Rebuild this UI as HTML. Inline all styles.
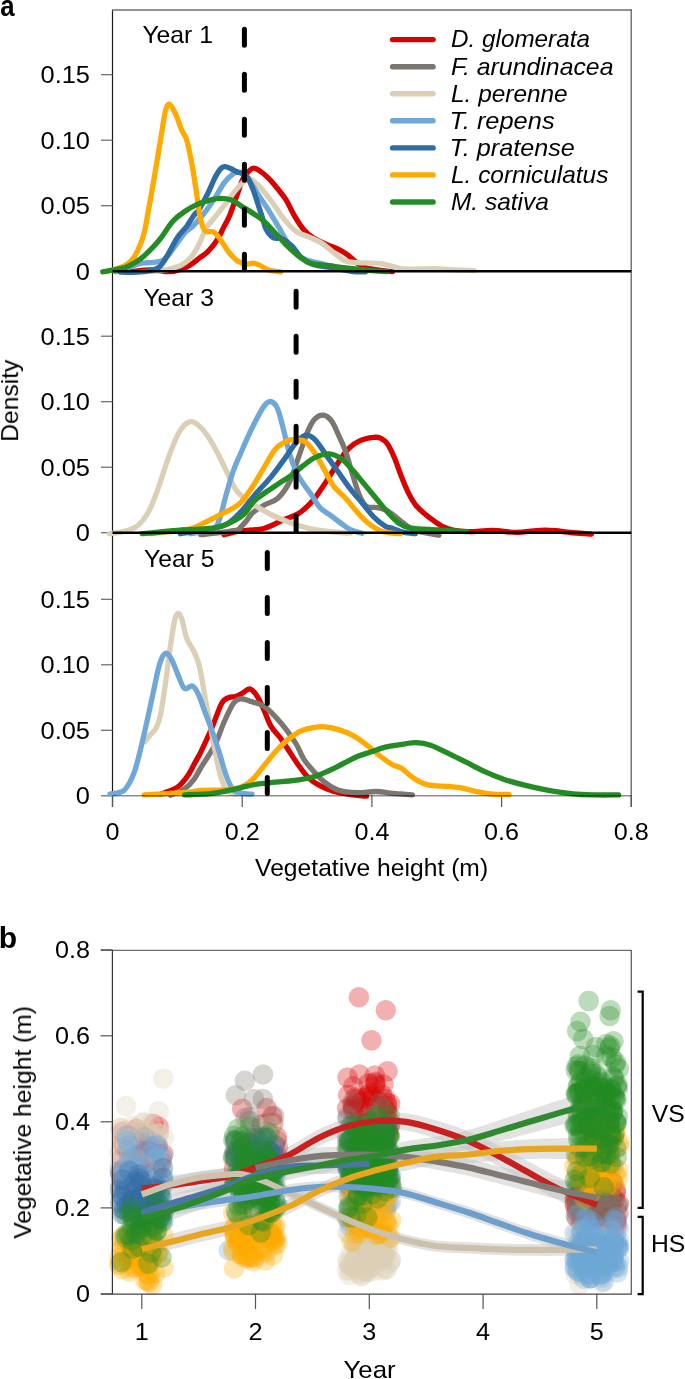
<!DOCTYPE html><html><head><meta charset="utf-8"><style>html,body{margin:0;padding:0;background:#fff;width:685px;height:1379px;overflow:hidden}svg{display:block}text{font-family:"Liberation Sans", sans-serif}svg text{will-change:transform}</style></head><body>
<svg width="685" height="1379" viewBox="0 0 685 1379">
<text transform="translate(0.3 15.5) scale(0.8600 1)" font-size="30" font-weight="bold">a</text>
<line x1="112.5" y1="10" x2="112.5" y2="807" stroke="#1a1a1a" stroke-width="1.2"/>
<line x1="112" y1="10" x2="631.8" y2="10" stroke="#6e6e6e" stroke-width="1.3"/>
<line x1="631.2" y1="9.5" x2="631.2" y2="807" stroke="#555" stroke-width="1.2"/>
<line x1="101" y1="271.2" x2="112.5" y2="271.2" stroke="#666" stroke-width="1.2"/>
<text transform="translate(90 279.5) scale(1.0600 1)" font-size="24" text-anchor="end">0</text>
<line x1="101" y1="205.7" x2="112.5" y2="205.7" stroke="#666" stroke-width="1.2"/>
<text transform="translate(90 214) scale(1.0600 1)" font-size="24" text-anchor="end">0.05</text>
<line x1="101" y1="140.2" x2="112.5" y2="140.2" stroke="#666" stroke-width="1.2"/>
<text transform="translate(90 148.5) scale(1.0600 1)" font-size="24" text-anchor="end">0.10</text>
<line x1="101" y1="74.7" x2="112.5" y2="74.7" stroke="#666" stroke-width="1.2"/>
<text transform="translate(90 83) scale(1.0600 1)" font-size="24" text-anchor="end">0.15</text>
<line x1="101" y1="532.7" x2="112.5" y2="532.7" stroke="#666" stroke-width="1.2"/>
<text transform="translate(90 541) scale(1.0600 1)" font-size="24" text-anchor="end">0</text>
<line x1="101" y1="467.2" x2="112.5" y2="467.2" stroke="#666" stroke-width="1.2"/>
<text transform="translate(90 475.5) scale(1.0600 1)" font-size="24" text-anchor="end">0.05</text>
<line x1="101" y1="401.7" x2="112.5" y2="401.7" stroke="#666" stroke-width="1.2"/>
<text transform="translate(90 410) scale(1.0600 1)" font-size="24" text-anchor="end">0.10</text>
<line x1="101" y1="336.2" x2="112.5" y2="336.2" stroke="#666" stroke-width="1.2"/>
<text transform="translate(90 344.5) scale(1.0600 1)" font-size="24" text-anchor="end">0.15</text>
<line x1="101" y1="795.8" x2="112.5" y2="795.8" stroke="#666" stroke-width="1.2"/>
<text transform="translate(90 804.1) scale(1.0600 1)" font-size="24" text-anchor="end">0</text>
<line x1="101" y1="730.3" x2="112.5" y2="730.3" stroke="#666" stroke-width="1.2"/>
<text transform="translate(90 738.6) scale(1.0600 1)" font-size="24" text-anchor="end">0.05</text>
<line x1="101" y1="664.8" x2="112.5" y2="664.8" stroke="#666" stroke-width="1.2"/>
<text transform="translate(90 673.1) scale(1.0600 1)" font-size="24" text-anchor="end">0.10</text>
<line x1="101" y1="599.3" x2="112.5" y2="599.3" stroke="#666" stroke-width="1.2"/>
<text transform="translate(90 607.6) scale(1.0600 1)" font-size="24" text-anchor="end">0.15</text>
<line x1="112.5" y1="795.6" x2="112.5" y2="807" stroke="#555" stroke-width="1.2"/>
<text transform="translate(112.5 839.5) scale(1.0500 1)" font-size="24" text-anchor="middle">0</text>
<line x1="242.2" y1="795.6" x2="242.2" y2="807" stroke="#555" stroke-width="1.2"/>
<text transform="translate(242.2 839.5) scale(1.0500 1)" font-size="24" text-anchor="middle">0.2</text>
<line x1="371.9" y1="795.6" x2="371.9" y2="807" stroke="#555" stroke-width="1.2"/>
<text transform="translate(371.9 839.5) scale(1.0500 1)" font-size="24" text-anchor="middle">0.4</text>
<line x1="501.6" y1="795.6" x2="501.6" y2="807" stroke="#555" stroke-width="1.2"/>
<text transform="translate(501.6 839.5) scale(1.0500 1)" font-size="24" text-anchor="middle">0.6</text>
<line x1="631.3" y1="795.6" x2="631.3" y2="807" stroke="#555" stroke-width="1.2"/>
<text transform="translate(631.3 839.5) scale(1.0500 1)" font-size="24" text-anchor="middle">0.8</text>
<text transform="translate(371.6 875.9) scale(1.0280 1)" font-size="24" text-anchor="middle">Vegetative height (m)</text>
<text transform="translate(18.1 400.7) rotate(-90) scale(1.0260 1)" font-size="24" text-anchor="middle">Density</text>
<text transform="translate(142.4 43.3) scale(1.0300 1)" font-size="24">Year 1</text>
<text transform="translate(143.4 305.6) scale(1.0300 1)" font-size="24">Year 3</text>
<text transform="translate(144 566.6) scale(1.0300 1)" font-size="24">Year 5</text>
<g transform="translate(0.5 0.7)">
<path d="M124.8 271.5C128 271.2 138.7 269.8 143.8 269.5C148.9 269.2 151.4 269.2 155.5 269.5C159.6 269.8 164.2 271.2 168.6 271C173 270.8 178.2 269.4 181.8 268.2C185.5 267 187.5 265.8 190.5 263.8C193.5 261.9 197.2 258.6 200 256.5C202.8 254.4 204.3 254 207.1 251.2C209.8 248.4 214 243.2 216.5 239.5C219 235.8 219.9 233 222.1 228.8C224.2 224.6 227 220 229.4 214.2C231.8 208.4 234.5 199.9 236.7 193.8C238.9 187.7 240.6 181.6 242.6 177.7C244.6 173.8 246.7 172.1 248.4 170.4C250.1 168.7 251.1 167.6 252.8 167.5C254.5 167.4 256.2 168.1 258.6 169.7C261 171.3 264.4 174.1 267.4 177C270.4 179.9 273.5 183.6 276.5 187.3C279.5 191 282.5 194.4 285.4 199C288.3 203.6 290.8 209.7 293.7 214.7C296.6 219.7 300 225.1 303.1 228.8C306.2 232.5 308.5 234.4 312.4 236.9C316.3 239.4 322.1 242.1 326.4 244C330.7 245.9 334.6 246.8 338.1 248.6C341.6 250.3 344.4 252.2 347.5 254.5C350.6 256.8 353.7 260.5 356.8 262.6C359.9 264.7 362.2 266.1 366.1 267.3C370 268.5 375.9 269 380.2 269.6C384.5 270.2 390 270.8 392 271" fill="none" stroke="#d90000" stroke-width="5.3" stroke-linecap="round" stroke-linejoin="round"/>
<path d="M150 271C151.4 270.9 155.1 270.9 158.4 270.4C161.7 269.9 166.1 269.3 170 268.2C173.9 267.1 178.4 265.8 181.8 263.8C185.2 261.9 188.1 259.2 190.5 256.5C192.9 253.8 194.8 250.4 196.4 247.7C198 245 198.4 243.8 200 240.4C201.6 237 203.4 231.4 206.1 227C208.8 222.6 212.9 218.5 216.3 214.2C219.7 209.9 223.3 205.2 226.5 201.1C229.7 197 232.6 192.7 235.3 189.4C238 186.1 240.4 183.4 242.6 181.4C244.8 179.4 246.2 177.5 248.4 177.7C250.6 177.9 253.4 180.9 255.7 182.8C258 184.7 259.2 185.6 262 189C264.8 192.4 269 197.9 272.7 203C276.4 208.1 280.5 214.7 284.4 219.4C288.3 224.1 291.8 228.2 296.1 231.1C300.4 234 305.8 234.9 310.1 236.9C314.4 238.9 317.9 240.3 321.8 242.8C325.7 245.3 329.5 249.2 333.4 252.1C337.3 255 341.1 258.7 345.1 260.3C349.1 261.9 351.8 261.4 357.5 261.9C363.2 262.3 373.2 262.3 379.4 263C385.6 263.7 390.3 265.4 394.7 266.3C399.1 267.2 399.1 268.2 405.7 268.5C412.3 268.8 426.9 267.9 434.2 268C441.5 268.1 442.9 268.6 449.5 268.9C456.1 269.2 469.6 269.8 473.6 270" fill="none" stroke="#dbcfb6" stroke-width="5.3" stroke-linecap="round" stroke-linejoin="round"/>
<path d="M115 271C116.2 270.8 119.1 270.6 121.9 269.6C124.8 268.7 128.7 266.5 132.1 265.3C135.5 264.1 138.9 262.9 142.3 262.3C145.7 261.7 149.4 262 152.6 261.6C155.8 261.2 158.6 261.4 161.3 260.1C164 258.8 166.2 256.4 168.6 253.6C171 250.8 173.2 247.1 175.9 243.4C178.6 239.8 181.8 234.9 184.7 231.7C187.6 228.5 190.1 227.8 193.4 224.4C196.7 221 201 215.9 204.6 211.3C208.2 206.7 211.6 201.6 214.8 196.7C218 191.8 220.7 186 223.6 182.1C226.5 178.2 229.9 175.2 232.3 173.4C234.7 171.6 236 170.8 238.2 171.2C240.4 171.5 243.3 173.4 245.5 175.5C247.7 177.6 249.1 180.3 251.3 183.6C253.5 186.9 255.9 191.2 258.6 195.3C261.3 199.4 264.1 203.1 267.4 208.4C270.7 213.7 274.9 220.9 278.5 227C282.1 233.1 285.4 240.1 289.1 245.1C292.8 250.1 297.2 254.3 300.7 256.8C304.2 259.3 306.2 259.1 310.1 260.3C314 261.5 319.4 262.6 324.1 263.8C328.8 265 333 266.2 338.1 267.3C343.2 268.4 352.2 270 355 270.5" fill="none" stroke="#6fa7d8" stroke-width="5.3" stroke-linecap="round" stroke-linejoin="round"/>
<path d="M120 271.3C122.8 271.3 131.3 271.8 136.5 271.5C141.7 271.2 147.4 270.4 151.1 269.6C154.8 268.8 156.2 268.4 158.4 266.7C160.6 265 162.3 262.3 164.2 259.4C166.1 256.5 167.8 253.1 170 249.2C172.2 245.3 174.7 240 177.4 236.1C180.1 232.2 183.5 229.3 186.1 225.8C188.7 222.3 191 217.9 193.1 215C195.2 212.1 196.4 212.2 198.8 208.4C201.2 204.6 204.8 197.7 207.5 192.3C210.2 187 212.6 180.4 214.8 176.3C217 172.2 218.9 169.2 220.7 167.5C222.5 165.8 223.9 165.8 225.8 166.1C227.7 166.3 230.2 168 232.3 169C234.4 170 236.2 171.2 238.2 171.9C240.1 172.6 242.3 172.2 244 173.4C245.7 174.6 246.9 176.5 248.4 179.2C249.9 181.9 251.3 185.5 252.8 189.4C254.3 193.3 255.8 198.2 257.2 202.6C258.6 207 260.1 211.3 261.5 215.7C262.9 220.1 263.8 225.3 265.7 228.8C267.6 232.3 270 235.4 272.7 236.9C275.4 238.4 278.9 236.7 282 238.1C285.1 239.5 288.3 242 291.4 245.1C294.5 248.2 297.2 253.7 300.7 256.8C304.2 259.9 306.9 262.1 312.4 263.8C317.8 265.6 326.8 266.1 333.4 267.3C340 268.5 346.8 270.2 352.1 270.8C357.4 271.4 362.9 271.1 365 271.2" fill="none" stroke="#2f6ca4" stroke-width="5.3" stroke-linecap="round" stroke-linejoin="round"/>
<path d="M106 270.8C107.7 270.4 112.6 269.4 116 268.2C119.4 267 123.4 265.8 126.3 263.8C129.2 261.9 131.4 259.7 133.6 256.5C135.8 253.3 137.7 248.9 139.4 244.8C141.1 240.7 142.4 237.2 143.8 231.7C145.2 226.1 145.8 221.5 147.6 211.5C149.4 201.5 152.5 184.2 154.6 171.8C156.7 159.4 158.7 147.1 160.4 137C162.1 126.9 163.4 116.6 164.8 111C166.2 105.4 167.1 103.3 168.8 103.6C170.5 103.9 172.7 108.2 174.8 112.6C176.9 116.9 179.5 125.3 181.4 129.7C183.3 134.1 184.5 133.9 186.1 139C187.7 144.1 189.2 151.8 190.8 160C192.4 168.2 193.9 178.2 195.4 188C196.9 197.8 198.5 211.5 200.1 218.5C201.7 225.5 202.7 228.1 204.8 230.2C207 232.3 210.7 230.1 213 231.3C215.3 232.5 216.3 233.9 218.8 237.2C221.3 240.5 225 247.3 228.1 251.2C231.2 255.1 234.4 258.5 237.5 260.5C240.6 262.5 244.2 263 246.8 263.3C249.4 263.6 250.8 262.2 252.8 262.4C254.8 262.6 256.1 263.2 258.7 264.4C261.3 265.5 264.9 268.2 268.5 269.3C272.1 270.4 278.2 270.9 280.2 271.2" fill="none" stroke="#ffaa00" stroke-width="5.3" stroke-linecap="round" stroke-linejoin="round"/>
<path d="M102.2 271.1C104.3 270.7 110.8 269.6 114.6 268.9C118.4 268.2 121.4 267.9 124.8 266.7C128.2 265.5 131.8 263.6 135 261.6C138.2 259.7 140.9 257.6 143.8 255C146.7 252.4 149.7 249.5 152.6 246.3C155.5 243.2 158.1 240.3 161.3 236.1C164.6 231.8 168.3 225 172.1 220.8C175.8 216.6 179.5 213.9 183.8 211C188.1 208.1 193.5 205.1 197.8 203.2C202.1 201.3 206 200.4 209.5 199.5C213 198.6 215.2 197.7 218.8 197.6C222.4 197.5 227.2 197.9 230.9 199.2C234.6 200.5 237.4 203.2 241.1 205.5C244.8 207.8 249.2 210.4 252.8 212.8C256.4 215.2 259.3 216.7 263 220C266.7 223.3 271.1 228.3 275 232.5C278.9 236.7 282.8 241.2 286.7 245.1C290.6 248.9 294.5 252.7 298.4 255.6C302.3 258.5 305 261 310.1 262.6C315.2 264.2 323 264.2 328.8 265C334.6 265.8 338.5 266.5 345.1 267.3C351.7 268.1 361.5 269 368.5 269.6C375.5 270.2 384.1 270.8 387.2 271" fill="none" stroke="#248c24" stroke-width="5.3" stroke-linecap="round" stroke-linejoin="round"/>
</g>
<line x1="112.5" y1="271.2" x2="631.3" y2="271.2" stroke="#000" stroke-width="2.6" stroke-opacity="1"/>
<line x1="244.4" y1="29.3" x2="244.4" y2="269.7" stroke="#000" stroke-width="5" stroke-linecap="round" stroke-dasharray="16 29"/>
<g transform="translate(0.5 0.7)">
<path d="M223.5 534C226.2 533.4 233.3 531.2 240 530.2C246.7 529.2 256.4 529.6 263.4 527.8C270.4 526 276.2 522.1 282 519.6C287.8 517.1 293.3 515.9 298.4 512.6C303.5 509.3 308.1 504.7 312.4 499.8C316.7 494.9 320.2 489.2 324.1 483.4C328 477.5 331.9 470.5 335.8 464.7C339.7 458.9 343.6 452.5 347.5 448.4C351.4 444.3 354.8 442.1 359.1 440.2C363.4 438.2 369.6 437.1 373.1 436.7C376.6 436.2 377.7 436.4 380 437.5C382.3 438.6 384.7 440.1 387 443.4C389.3 446.7 391.7 451.9 394 457.4C396.3 462.8 398.7 470.3 401 476.1C403.3 481.9 405.7 487.7 408 492.4C410.3 497.1 412.3 500.6 415 504.1C417.7 507.6 421.3 510.7 424.4 513.4C427.5 516.1 430.6 518.2 433.7 520.4C436.8 522.5 440 524.8 443.1 526.3C446.2 527.8 448.1 528.5 452.4 529.3C456.7 530.1 462.2 530.9 468.8 531C475.4 531.1 484.3 529.7 492.1 529.8C499.9 529.9 507.5 531.7 515.5 531.7C523.5 531.7 533.4 529.9 540 529.6C546.6 529.3 550 529.6 555 530C560 530.4 564 531.2 570 531.8C576 532.4 587.5 533.1 591 533.4" fill="none" stroke="#d90000" stroke-width="5.3" stroke-linecap="round" stroke-linejoin="round"/>
<path d="M200.1 534C205.9 533.3 228.5 530.9 235.2 529.6C241.8 528.4 238.2 528.1 240 526.5C241.8 524.9 244.1 522.3 246 520C247.9 517.7 248.8 515.1 251.7 512.5C254.6 509.9 259.1 507 263.4 504.5C267.7 502 273.1 501.4 277.4 497.5C281.7 493.6 285.6 488.1 289.1 481.1C292.6 474.1 295.3 464 298.4 455.4C301.5 446.8 305 435.9 307.7 429.7C310.4 423.5 312.2 420.5 314.7 418C317.2 415.5 320.2 414.1 322.9 414.5C325.6 414.9 328.6 417.1 331.1 420.4C333.6 423.7 335.8 429.3 338.1 434.4C340.4 439.4 342.8 444.1 345.1 450.7C347.4 457.3 349.8 466.7 352.1 474.1C354.4 481.5 356.8 489.9 359.1 495.1C361.4 500.4 363.4 503.7 366.1 505.6C368.8 507.6 372.4 506.2 375.5 506.8C378.6 507.4 382.1 508 384.8 509.1C387.5 510.2 388.6 511.1 391.7 513.4C394.8 515.7 399.5 520.1 403.4 522.8C407.3 525.5 409.2 527.8 415 529.8C420.8 531.8 434.5 533.7 438.4 534.5" fill="none" stroke="#7b766f" stroke-width="5.3" stroke-linecap="round" stroke-linejoin="round"/>
<path d="M109 533C111.3 532.6 118.3 532.1 123 530.8C127.7 529.5 132.7 528.5 137 525C141.3 521.5 145.2 516.2 148.7 509.8C152.2 503.4 155 495 158.1 486.4C161.2 477.8 164.3 467 167.4 458.4C170.5 449.8 174.1 440.6 176.8 435C179.5 429.4 181.5 426.8 183.8 424.5C186.1 422.2 188.5 421 190.8 421C193.1 421 195.1 422.2 197.8 424.5C200.5 426.8 204 430.5 207.1 435C210.2 439.5 213.4 445.5 216.5 451.4C219.6 457.2 222.7 463.9 225.8 470.1C228.9 476.3 232.1 484.1 235.2 488.8C238.3 493.5 241.4 495.5 244.5 498.1C247.6 500.7 249.7 501.9 254 504.5C258.3 507.1 264.9 511.1 270.4 513.8C275.8 516.5 281.6 518.8 286.7 520.8C291.8 522.8 296 524.1 300.7 525.5C305.4 526.9 309.2 528 314.7 529C320.1 530 327.5 530.7 333.4 531.3C339.3 531.9 347.2 532.3 350 532.5" fill="none" stroke="#dbcfb6" stroke-width="5.3" stroke-linecap="round" stroke-linejoin="round"/>
<path d="M190 533C193.6 532.2 207 530.8 211.8 528.5C216.6 526.2 216.5 525 218.8 519.1C221.1 513.2 223.5 501.6 225.8 493.4C228.1 485.2 230.4 476.8 232.8 470.1C235.2 463.4 237.2 459.4 240 453C242.8 446.6 246.2 438.6 249.3 432C252.4 425.4 256 418.3 258.7 413.4C261.4 408.5 263.6 404.8 265.7 402.8C267.8 400.8 269.6 400.2 271.5 401.2C273.4 402.2 275.4 403.9 277.4 408.7C279.3 413.4 281.2 422.3 283.2 429.7C285.1 437.1 287 446.1 289.1 453.1C291.2 460.1 293.8 466.8 296.1 471.8C298.4 476.9 300.8 479.9 303.1 483.4C305.4 486.9 307.4 488.9 310.1 492.8C312.8 496.7 316.3 503.3 319.4 506.8C322.5 510.3 325.7 511.5 328.8 513.8C331.9 516.1 334.6 518.3 338.1 520.8C341.6 523.3 345.9 527 349.8 529C353.7 531 359.6 531.9 361.5 532.5" fill="none" stroke="#6fa7d8" stroke-width="5.3" stroke-linecap="round" stroke-linejoin="round"/>
<path d="M180 533C184.5 532.2 199.5 530 207.1 528.5C214.7 527 220.3 526.6 225.8 523.8C231.3 521 235.2 516.5 240 511.5C244.8 506.5 249.4 499.9 254.5 494C259.6 488.1 265.4 482.4 270.4 476.4C275.4 470.3 280.1 463.5 284.4 457.7C288.7 451.9 292.6 445.3 296.1 441.4C299.6 437.5 302.3 434.8 305.4 434.4C308.5 434 311.2 435.6 314.7 439.1C318.2 442.6 322.5 449.9 326.4 455.4C330.3 460.8 334.2 466.4 338.1 471.8C342 477.2 345.9 483.1 349.8 488.1C353.7 493.2 357.6 497.4 361.5 502.1C365.4 506.8 369.2 512.2 373.1 516.1C377 520 381.7 523.6 384.8 525.5C387.9 527.4 389.4 526.7 391.7 527.5C394 528.3 396.9 529.5 398.8 530.2C400.8 530.9 400.7 531.2 403.4 531.7C406.1 532.2 413.1 532.8 415 533" fill="none" stroke="#2f6ca4" stroke-width="5.3" stroke-linecap="round" stroke-linejoin="round"/>
<path d="M150 533C156.4 532.2 179.7 530.2 188.4 528.5C197.2 526.8 197.8 524.8 202.5 522.6C207.2 520.5 211.8 517.9 216.5 515.6C221.2 513.3 226.4 511 230.5 508.6C234.6 506.2 237.2 505.2 241 501.2C244.8 497.2 249.3 490.2 253 484.5C256.7 478.8 259.7 473.1 263.4 467.1C267.1 461.1 271.1 452.9 275 448.4C278.9 443.9 283.2 441.8 286.7 440.2C290.2 438.6 293 438.9 296.1 439.1C299.2 439.3 302.3 439.1 305.4 441.4C308.5 443.7 311.6 448.4 314.7 453.1C317.8 457.8 321 463.9 324.1 469.4C327.2 474.8 329.9 481.1 333.4 485.8C336.9 490.5 341.2 493.2 345.1 497.5C349 501.8 352.9 507.2 356.8 511.5C360.7 515.8 364.6 520 368.5 523.1C372.4 526.2 376.3 528.6 380.2 530.2C384.1 531.8 388.5 532 391.8 532.5C395.1 533 398.6 532.9 400 533" fill="none" stroke="#ffaa00" stroke-width="5.3" stroke-linecap="round" stroke-linejoin="round"/>
<path d="M141.7 533C147.5 532.5 167.1 530.5 176.8 529.8C186.5 529 193.1 529.1 200.1 528.5C207.1 527.9 213 527.7 218.8 526.1C224.7 524.5 231 521.3 235.2 519.1C239.4 516.9 241 516 244 513C247 510 249.8 504.4 253 501C256.2 497.6 259.3 495.7 263.4 492.8C267.5 489.9 272.7 486.5 277.4 483.4C282.1 480.3 287.1 477.2 291.4 474.1C295.7 471 299.2 467.6 303.1 464.7C307 461.8 310.4 458.5 314.7 456.6C319 454.7 324.5 452.9 328.8 453.1C333.1 453.3 336.5 455 340.4 457.7C344.3 460.4 348.2 465.1 352.1 469.4C356 473.7 359.9 478.7 363.8 483.4C367.7 488.1 371.6 492.8 375.5 497.5C379.4 502.2 383.3 507.3 387.2 511.5C391.1 515.7 394.8 520.1 398.7 522.8C402.6 525.5 403.8 526.4 410.4 527.5C417 528.6 429.1 528.7 438.4 529.3C447.7 529.9 461.7 530.7 466.4 531" fill="none" stroke="#248c24" stroke-width="5.3" stroke-linecap="round" stroke-linejoin="round"/>
</g>
<line x1="112.5" y1="532.7" x2="631.3" y2="532.7" stroke="#000" stroke-width="2.6" stroke-opacity="1"/>
<line x1="296.1" y1="291.2" x2="296.1" y2="531.2" stroke="#000" stroke-width="5" stroke-linecap="round" stroke-dasharray="16 29"/>
<g transform="translate(0.5 0.7)">
<path d="M160 793.5C160.9 793.2 162.6 792.7 165.5 791.5C168.4 790.3 173.7 788.9 177.4 786.1C181.1 783.3 184.4 779.1 187.6 774.5C190.8 769.9 194.2 762.3 196.4 758.4C198.6 754.5 197.9 756.4 200.5 751C203.1 745.6 208.4 734.1 211.8 726.1C215.2 718.1 218.4 707.7 221.1 702.8C223.8 697.9 225.8 698.1 228.1 696.9C230.4 695.7 232.8 696.6 235.2 695.8C237.5 695 239.9 693.6 242.2 692.3C244.5 691 246.8 687.8 249.2 688.2C251.6 688.7 254 691.5 256.4 695C258.8 698.5 261.1 704 263.4 709.1C265.7 714.2 267.7 720.7 270.4 725.4C273.1 730.1 276.6 732.8 279.7 737.1C282.8 741.4 286 746.4 289.1 751.1C292.2 755.8 295.3 760.8 298.4 765.1C301.5 769.4 304.2 773.5 307.7 776.8C311.2 780.1 315.1 782.7 319.4 785C323.7 787.3 327.9 789.2 333.4 790.8C338.8 792.3 346.7 793.5 352.1 794.3C357.6 795.1 363.8 795.3 366.1 795.5" fill="none" stroke="#d90000" stroke-width="5.3" stroke-linecap="round" stroke-linejoin="round"/>
<path d="M170 794.5C172.4 793.4 180.8 790.2 184.7 787.6C188.6 785 190.7 782.4 193.4 778.8C196.1 775.2 197.6 771.7 201 766C204.4 760.3 210.3 752.2 214.1 744.8C217.8 737.4 220.4 728.5 223.5 721.5C226.6 714.5 230.1 706.7 232.8 702.8C235.5 698.9 237.1 698.5 239.8 698.1C242.5 697.7 245.3 699.2 249.2 700.4C253.1 701.6 259.1 702.9 263.4 705.5C267.7 708.1 271.1 712 275 716.1C278.9 720.2 283.2 725.4 286.7 730.1C290.2 734.8 293.4 739.4 296.1 744.1C298.8 748.8 300.4 753.8 303.1 758.1C305.8 762.4 308.9 765.9 312.4 769.8C315.9 773.7 319.8 778.2 324.1 781.5C328.4 784.8 332.7 787.9 338.1 789.6C343.6 791.4 350.6 791.8 356.8 792C363 792.2 370.1 790.7 375.5 790.8C380.9 790.9 385.4 792 389.5 792.4C393.6 792.8 396.3 792.8 400 793.1C403.7 793.4 409.9 794 411.9 794.2" fill="none" stroke="#7b766f" stroke-width="5.3" stroke-linecap="round" stroke-linejoin="round"/>
<path d="M144.5 740.9C145.3 739.8 147.8 736.5 149.6 734.3C151.4 732.1 153.8 731 155.5 727.7C157.2 724.4 158.3 722.2 159.9 714.6C161.5 707 163.5 693.1 165.1 681.8C166.7 670.5 168.1 657.2 169.7 646.7C171.2 636.2 173 624.4 174.4 618.7C175.8 613.1 176.7 612.8 177.9 612.8C179.1 612.8 180 614.6 181.4 618.7C182.8 622.8 184.2 632.1 186.1 637.4C188 642.6 191 645.5 193.1 650.2C195.2 654.9 196.9 657.4 198.9 665.4C200.9 673.4 202.7 686.4 204.8 698.1C207 709.8 209.5 723.4 211.8 735.5C214.1 747.6 216.5 761.5 218.8 770.5C221.1 779.5 223.1 785.4 225.8 789.2C228.5 793 233.6 792.7 235.2 793.4" fill="none" stroke="#dbcfb6" stroke-width="5.3" stroke-linecap="round" stroke-linejoin="round"/>
<path d="M109.5 793.4C110.8 793.2 115.2 792.6 117.5 792C119.8 791.4 121.5 791.5 123.4 789.8C125.4 788.1 127.4 784.9 129.2 781.8C131 778.7 132.4 775.5 134 771C135.6 766.5 137 760.8 138.5 755C140 749.2 141.5 742.5 143 736C144.5 729.5 145.8 723.9 147.5 716C149.2 708.1 151.5 697.6 153.4 688.8C155.3 680 157.2 669.1 159.2 663.1C161.1 657.1 163.1 653.4 165.1 652.6C167.1 651.8 168.9 655.1 170.9 658.4C172.9 661.7 174.7 667.5 176.8 672.4C179 677.3 181.3 685.5 183.8 687.6C186.3 689.8 189.6 684.3 191.9 685.3C194.2 686.3 195.7 688.9 197.8 693.4C200 697.9 202.5 705.9 204.8 712.1C207.1 718.3 209.5 724.2 211.8 730.8C214.1 737.4 216.5 744.4 218.8 751.8C221.1 759.2 223.5 769 225.8 775.2C228.1 781.4 230.1 786.3 232.8 789.2C235.5 792.1 239.1 792 242.2 792.7C245.3 793.4 249.9 793.3 251.5 793.4" fill="none" stroke="#6fa7d8" stroke-width="5.3" stroke-linecap="round" stroke-linejoin="round"/>
<path d="M143.8 794.2C151.2 793.8 179 792.2 188.4 791.5C197.8 790.8 194.2 790.2 200 789.8C205.8 789.4 216.9 789.7 223.5 789.2C230.1 788.7 235.1 788.6 239.8 786.9C244.5 785.2 247.8 782.7 251.7 779.1C255.6 775.5 259.5 769.8 263.4 765.1C267.3 760.4 271.1 755.4 275 751.1C278.9 746.8 282.4 742.9 286.7 739.4C291 735.9 296 732.2 300.7 730.1C305.4 728 310.8 727.3 314.7 726.6C318.6 725.9 320.2 725.7 324.1 726.1C328 726.5 333.4 727.5 338.1 728.9C342.8 730.3 347.4 732.2 352.1 734.7C356.8 737.2 361.4 740.6 366.1 744.1C370.8 747.6 375.9 752.5 380.2 755.8C384.5 759.1 388.5 762 392 764C395.5 766 397.7 765.4 401 767.5C404.3 769.6 407.6 773.9 411.9 776.6C416.1 779.3 420.4 782.4 426.5 783.9C432.6 785.4 442.3 785.2 448.4 785.8C454.5 786.4 458.1 786.7 463 787.6C467.9 788.5 472.7 790.2 477.6 791.2C482.5 792.2 487 793 492.2 793.4C497.4 793.8 505.9 793.7 508.6 793.8" fill="none" stroke="#ffaa00" stroke-width="5.3" stroke-linecap="round" stroke-linejoin="round"/>
<path d="M184 794.2C188.6 794 203.3 793.7 211.8 792.7C220.3 791.7 228.2 789.7 235.2 788.2C242.2 786.7 247.4 784.9 254 783.8C260.6 782.7 267.6 782.3 275 781.5C282.4 780.7 291.8 780.1 298.4 779.1C305 778.1 309.6 777.2 314.7 775.6C319.8 774 324.1 771.9 328.8 769.8C333.5 767.7 338.1 765.1 342.8 762.8C347.5 760.5 352.1 757.8 356.8 755.8C361.5 753.8 366.1 752.7 370.8 751.1C375.5 749.5 379.2 747.7 384.8 746.4C390.4 745.1 399.5 743.8 404.6 743.1C409.7 742.4 411.2 741.8 415.5 742C419.8 742.2 424.6 742.7 430.1 744.5C435.6 746.3 442.3 750 448.4 752.9C454.5 755.8 460.5 759 466.6 762C472.7 765 478.8 768.5 484.9 771.2C491 774 496.4 776.2 503.1 778.5C509.8 780.8 517.7 782.9 525 784.7C532.3 786.5 539 788 546.9 789.4C554.8 790.8 564.6 792.3 572.5 793.1C580.4 793.9 586.8 794 594.4 794.2C602 794.4 614.1 794.2 618.1 794.2" fill="none" stroke="#248c24" stroke-width="5.3" stroke-linecap="round" stroke-linejoin="round"/>
</g>
<line x1="112.5" y1="795.8" x2="631.3" y2="795.8" stroke="#000" stroke-width="1.6" stroke-opacity="0.45"/>
<line x1="267.3" y1="552.5" x2="267.3" y2="794.3" stroke="#000" stroke-width="5" stroke-linecap="round" stroke-dasharray="16 29"/>
<line x1="392.6" y1="39.6" x2="433.1" y2="39.6" stroke="#d90000" stroke-width="5.4" stroke-linecap="round"/>
<text transform="translate(451 47.4)" font-size="24" font-style="italic" textLength="138.9" lengthAdjust="spacingAndGlyphs">D. glomerata</text>
<line x1="392.6" y1="66.7" x2="433.1" y2="66.7" stroke="#7b766f" stroke-width="5.4" stroke-linecap="round"/>
<text transform="translate(451 74.5)" font-size="24" font-style="italic" textLength="162.5" lengthAdjust="spacingAndGlyphs">F. arundinacea</text>
<line x1="392.6" y1="93.7" x2="433.1" y2="93.7" stroke="#dbcfb6" stroke-width="5.4" stroke-linecap="round"/>
<text transform="translate(451 101.5)" font-size="24" font-style="italic" textLength="116.7" lengthAdjust="spacingAndGlyphs">L. perenne</text>
<line x1="392.6" y1="120.8" x2="433.1" y2="120.8" stroke="#6fa7d8" stroke-width="5.4" stroke-linecap="round"/>
<text transform="translate(449.6 128.6)" font-size="24" font-style="italic" textLength="105" lengthAdjust="spacingAndGlyphs">T. repens</text>
<line x1="392.6" y1="147.9" x2="433.1" y2="147.9" stroke="#2f6ca4" stroke-width="5.4" stroke-linecap="round"/>
<text transform="translate(449.6 155.7)" font-size="24" font-style="italic" textLength="125.3" lengthAdjust="spacingAndGlyphs">T. pratense</text>
<line x1="392.6" y1="174.9" x2="433.1" y2="174.9" stroke="#ffaa00" stroke-width="5.4" stroke-linecap="round"/>
<text transform="translate(451 182.8)" font-size="24" font-style="italic" textLength="157.4" lengthAdjust="spacingAndGlyphs">L. corniculatus</text>
<line x1="392.6" y1="202" x2="433.1" y2="202" stroke="#248c24" stroke-width="5.4" stroke-linecap="round"/>
<text transform="translate(451 209.8)" font-size="24" font-style="italic" textLength="97.8" lengthAdjust="spacingAndGlyphs">M. sativa</text>
<text transform="translate(-1.2 948.1)" font-size="30" font-weight="bold">b</text>
<path d="M141.8 1178.5L144 1178.3L146.8 1178L150.2 1177.7L154 1177.4L158.1 1177L162.2 1176.6L166.2 1176.2L170 1175.7L173.7 1175.3L177.4 1174.8L181.1 1174.3L184.9 1173.8L188.7 1173.2L192.5 1172.6L196.2 1172.1L200 1171.5L203.8 1171L207.7 1170.4L211.6 1169.9L215.5 1169.3L219.3 1168.8L223 1168.2L226.6 1167.5L230 1166.8L233.2 1166L236.4 1165.1L239.5 1164.1L242.4 1163.1L245.2 1162.1L247.8 1161.2L250.3 1160.3L252.6 1159.5L254.6 1158.8L256.1 1158.3L257.4 1157.8L258.6 1157.4L259.9 1157L261.3 1156.5L262.9 1155.8L265 1155.1L267.5 1154.2L270.3 1153.3L273.3 1152.3L276.5 1151.2L279.8 1150L283.2 1148.7L286.6 1147.3L290 1145.8L293.4 1144.1L296.8 1142.1L300.4 1140L303.9 1137.8L307.5 1135.6L311.2 1133.4L314.8 1131.4L318.4 1129.6L322 1127.8L325.6 1126.2L329.3 1124.6L332.9 1123.1L336.6 1121.7L340.3 1120.4L343.9 1119.2L347.6 1118.1L351.2 1117.1L354.9 1116.3L358.6 1115.5L362.2 1114.8L365.9 1114.2L369.5 1113.7L373.2 1113.3L376.8 1112.9L380.5 1112.6L384.1 1112.4L387.8 1112.3L391.4 1112.3L395.1 1112.4L398.7 1112.6L402.4 1112.9L406 1113.3L409.6 1113.8L413.2 1114.4L416.7 1115.1L420.3 1116L423.9 1116.9L427.6 1117.9L431.3 1118.9L435.2 1120L439.3 1121.2L443.5 1122.5L447.8 1123.9L452.2 1125.3L456.6 1126.8L460.9 1128.4L465.1 1129.9L469.2 1131.5L473.1 1133.2L476.8 1134.8L480.5 1136.6L484.1 1138.3L487.7 1140.1L491.2 1141.9L494.8 1143.7L498.4 1145.6L502.1 1147.4L505.7 1149.3L509.4 1151.3L513 1153.2L516.6 1155.2L520.3 1157.1L524 1159.1L527.6 1161L531.2 1162.9L534.6 1164.8L538.1 1166.8L541.5 1168.7L545.1 1170.6L548.7 1172.5L552.6 1174.4L556.8 1176.4L561.6 1178.5L567 1180.7L572.8 1183.1L578.6 1185.4L584.3 1187.6L589.4 1189.6L593.6 1191.3L596.8 1192.5L596.8 1217.5L593.6 1216.1L589.4 1214.3L584.3 1212.1L578.6 1209.6L572.8 1207L567 1204.4L561.6 1201.9L556.8 1199.6L552.6 1197.5L548.7 1195.4L545.1 1193.3L541.5 1191.2L538.1 1189.2L534.6 1187.1L531.2 1185.1L527.6 1183L524 1180.9L520.3 1178.8L516.6 1176.6L513 1174.5L509.4 1172.4L505.7 1170.3L502.1 1168.3L498.4 1166.2L494.8 1164.2L491.2 1162.3L487.7 1160.3L484.1 1158.4L480.5 1156.5L476.8 1154.6L473.1 1152.8L469.2 1151.1L465.1 1149.3L460.9 1147.6L456.6 1145.9L452.2 1144.3L447.8 1142.7L443.5 1141.1L439.3 1139.7L435.2 1138.4L431.3 1137.1L427.6 1135.9L423.9 1134.8L420.3 1133.7L416.7 1132.8L413.2 1131.9L409.6 1131.2L406 1130.5L402.4 1130L398.7 1129.6L395.1 1129.3L391.4 1129.1L387.8 1128.9L384.1 1128.9L380.5 1129L376.8 1129.1L373.2 1129.4L369.5 1129.7L365.9 1130.3L362.2 1130.9L358.6 1131.7L354.9 1132.5L351.2 1133.4L347.6 1134.5L343.9 1135.6L340.3 1136.9L336.6 1138.3L332.9 1139.8L329.3 1141.3L325.6 1143L322 1144.7L318.4 1146.4L314.8 1148.4L311.2 1150.5L307.5 1152.7L303.9 1155L300.4 1157.2L296.8 1159.4L293.4 1161.4L290 1163.2L286.6 1164.8L283.2 1166.2L279.8 1167.6L276.5 1168.8L273.3 1170L270.3 1171L267.5 1172L265 1172.9L262.9 1173.7L261.3 1174.4L259.9 1174.9L258.6 1175.3L257.4 1175.8L256.1 1176.3L254.6 1176.8L252.6 1177.5L250.3 1178.4L247.8 1179.3L245.2 1180.3L242.4 1181.3L239.5 1182.4L236.4 1183.4L233.2 1184.4L230 1185.2L226.6 1186L223 1186.7L219.3 1187.4L215.5 1188L211.6 1188.7L207.7 1189.3L203.8 1189.9L200 1190.5L196.2 1191.1L192.5 1191.7L188.7 1192.4L184.9 1193L181.1 1193.6L177.4 1194.2L173.7 1194.7L170 1195.3L166.2 1195.8L162.2 1196.2L158.1 1196.7L154 1197.2L150.2 1197.6L146.8 1198L144 1198.3L141.8 1198.5Z" fill="#bebebe" fill-opacity="0.45"/>
<path d="M255.5 1157.8L258.1 1157.3L261.7 1156.6L265.9 1155.7L270.5 1154.8L275.4 1153.8L280.3 1152.8L285 1152L289.2 1151.2L293.1 1150.6L296.8 1150L300.5 1149.5L304.1 1149L307.6 1148.5L311.2 1148.1L314.8 1147.8L318.4 1147.5L322.1 1147.3L325.7 1147.1L329.4 1147L333 1146.9L336.6 1146.9L340.3 1146.9L343.9 1146.9L347.6 1146.9L351.2 1146.9L354.9 1147L358.6 1147L362.2 1147L365.9 1147.1L369.5 1147.2L373.2 1147.3L376.8 1147.3L380.5 1147.4L384.1 1147.6L387.8 1147.7L391.4 1147.9L395.1 1148.2L398.7 1148.4L402.4 1148.7L406 1149.1L409.6 1149.5L413.2 1149.9L416.7 1150.4L420.3 1150.9L423.9 1151.4L427.6 1152L431.3 1152.6L435.2 1153.2L439.3 1153.9L443.5 1154.6L447.8 1155.3L452.2 1156L456.6 1156.8L460.9 1157.6L465.1 1158.4L469.2 1159.2L473.1 1160.1L476.8 1160.9L480.5 1161.8L484.1 1162.7L487.7 1163.6L491.2 1164.4L494.8 1165.3L498.4 1166.2L502.1 1167.1L505.7 1167.9L509.4 1168.8L513 1169.7L516.6 1170.5L520.3 1171.4L524 1172.2L527.6 1173.1L531.2 1174L534.6 1174.8L538.1 1175.7L541.5 1176.5L545.1 1177.4L548.7 1178.2L552.6 1179.1L556.8 1180L561.6 1181L567 1182.1L572.8 1183.2L578.6 1184.3L584.3 1185.4L589.4 1186.3L593.6 1187.1L596.8 1187.7L596.8 1207.7L593.6 1207L589.4 1206.1L584.3 1205L578.6 1203.8L572.8 1202.6L567 1201.3L561.6 1200.1L556.8 1199L552.6 1198L548.7 1197L545.1 1196L541.5 1195.1L538.1 1194.1L534.6 1193.2L531.2 1192.2L527.6 1191.3L524 1190.3L520.3 1189.4L516.6 1188.4L513 1187.4L509.4 1186.5L505.7 1185.5L502.1 1184.6L498.4 1183.6L494.8 1182.6L491.2 1181.7L487.7 1180.7L484.1 1179.7L480.5 1178.7L476.8 1177.8L473.1 1176.9L469.2 1176L465.1 1175.1L460.9 1174.2L456.6 1173.3L452.2 1172.5L447.8 1171.7L443.5 1170.9L439.3 1170.1L435.2 1169.4L431.3 1168.7L427.6 1168L423.9 1167.4L420.3 1166.8L416.7 1166.2L413.2 1165.7L409.6 1165.2L406 1164.7L402.4 1164.3L398.7 1163.9L395.1 1163.6L391.4 1163.3L387.8 1163.1L384.1 1162.8L380.5 1162.6L376.8 1162.5L373.2 1162.3L369.5 1162.2L365.9 1162.3L362.2 1162.4L358.6 1162.5L354.9 1162.6L351.2 1162.7L347.6 1162.9L343.9 1163L340.3 1163.2L336.6 1163.3L333 1163.5L329.4 1163.7L325.7 1164L322.1 1164.3L318.4 1164.7L314.8 1165.2L311.2 1165.7L307.6 1166.2L304.1 1166.9L300.5 1167.5L296.8 1168.2L293.1 1169L289.2 1169.8L285 1170.7L280.3 1171.7L275.4 1172.9L270.5 1174.1L265.9 1175.2L261.7 1176.3L258.1 1177.2L255.5 1177.8Z" fill="#bebebe" fill-opacity="0.45"/>
<path d="M141.8 1188L144 1187.2L146.8 1186.2L150.2 1184.9L154 1183.5L158.1 1182L162.2 1180.6L166.2 1179.3L170 1178.1L173.7 1177.1L177.4 1176.1L181.1 1175.2L184.9 1174.3L188.7 1173.4L192.5 1172.6L196.2 1171.9L200 1171.3L203.9 1170.7L207.9 1170.2L212 1169.7L216 1169.3L219.9 1169L223.6 1168.7L227 1168.5L230 1168.3L232.5 1168.1L234.4 1167.9L236.1 1167.8L237.5 1167.7L238.9 1167.7L240.3 1167.8L242 1168.1L244 1168.4L246.4 1169L248.9 1169.7L251.6 1170.6L254.4 1171.5L257.3 1172.6L260.2 1173.7L263.1 1174.9L266 1176L269 1177.4L272.2 1178.8L275.5 1180.4L278.8 1182.1L281.9 1183.7L284.9 1185.2L287.7 1186.5L290 1187.7L291.9 1188.5L293.3 1189.1L294.4 1189.5L295.4 1189.8L296.2 1190.1L297.2 1190.5L298.4 1191L300 1191.7L301.8 1192.6L303.8 1193.5L305.8 1194.6L308 1195.7L310.3 1196.9L312.8 1198.2L315.5 1199.5L318.4 1200.9L321.5 1202.3L324.9 1203.9L328.6 1205.6L332.3 1207.3L336.2 1209.1L340 1210.8L343.9 1212.5L347.6 1214.1L351.2 1215.7L354.9 1217.2L358.6 1218.8L362.2 1220.3L365.9 1221.8L369.5 1223.2L373.2 1224.6L376.8 1225.9L380.5 1227.1L384.1 1228.3L387.8 1229.5L391.4 1230.6L395.1 1231.6L398.7 1232.6L402.4 1233.6L406 1234.5L409.6 1235.4L413.2 1236.3L416.7 1237.1L420.3 1237.9L423.9 1238.6L427.6 1239.2L431.3 1239.8L435.2 1240.4L439.3 1240.8L443.5 1241.1L447.8 1241.4L452.2 1241.5L456.6 1241.7L460.9 1241.9L465.1 1242L469.2 1242.2L473.1 1242.4L476.8 1242.6L480.5 1242.8L484.1 1242.9L487.7 1243.1L491.2 1243.3L494.8 1243.4L498.4 1243.5L502.1 1243.6L505.7 1243.7L509.4 1243.8L513 1243.9L516.6 1243.9L520.3 1244L524 1244L527.6 1244.1L531.2 1244.1L534.6 1244.1L538.1 1244.1L541.5 1244.1L545.1 1244.1L548.7 1244.1L552.6 1244L556.8 1244L561.6 1243.9L567 1243.8L572.8 1243.7L578.6 1243.6L584.3 1243.5L589.4 1243.4L593.6 1243.4L596.8 1243.3L596.8 1255.3L593.6 1255.3L589.4 1255.4L584.3 1255.5L578.6 1255.6L572.8 1255.6L567 1255.7L561.6 1255.8L556.8 1255.8L552.6 1255.8L548.7 1255.9L545.1 1255.9L541.5 1255.9L538.1 1255.8L534.6 1255.8L531.2 1255.8L527.6 1255.7L524 1255.7L520.3 1255.6L516.6 1255.6L513 1255.5L509.4 1255.4L505.7 1255.3L502.1 1255.2L498.4 1255.1L494.8 1254.9L491.2 1254.8L487.7 1254.6L484.1 1254.4L480.5 1254.2L476.8 1254L473.1 1253.8L469.2 1253.6L465.1 1253.4L460.9 1253.3L456.6 1253.1L452.2 1252.9L447.8 1252.7L443.5 1252.4L439.3 1252.1L435.2 1251.6L431.3 1251.1L427.6 1250.5L423.9 1249.8L420.3 1249.1L416.7 1248.3L413.2 1247.5L409.6 1246.6L406 1245.7L402.4 1244.7L398.7 1243.8L395.1 1242.7L391.4 1241.7L387.8 1240.5L384.1 1239.4L380.5 1238.2L376.8 1236.9L373.2 1235.6L369.5 1234.2L365.9 1232.8L362.2 1231.4L358.6 1229.9L354.9 1228.4L351.2 1226.8L347.6 1225.3L343.9 1223.7L340 1222.1L336.2 1220.4L332.3 1218.7L328.6 1217L324.9 1215.3L321.5 1213.8L318.4 1212.3L315.5 1211L312.8 1209.7L310.3 1208.4L308 1207.3L305.8 1206.1L303.8 1205.1L301.8 1204.2L300 1203.3L298.4 1202.6L297.2 1202.1L296.2 1201.8L295.4 1201.5L294.4 1201.2L293.3 1200.7L291.9 1200.2L290 1199.3L287.7 1198.3L284.9 1196.9L281.9 1195.4L278.8 1193.9L275.5 1192.3L272.2 1190.7L269 1189.2L266 1188L263.1 1186.8L260.2 1185.6L257.3 1184.6L254.4 1183.5L251.6 1182.6L248.9 1181.8L246.4 1181.1L244 1180.6L242 1180.2L240.3 1179.9L238.9 1179.9L237.5 1179.9L236.1 1180L234.4 1180.1L232.5 1180.3L230 1180.5L227 1180.7L223.6 1181L219.9 1181.3L216 1181.7L212 1182.1L207.9 1182.6L203.9 1183.1L200 1183.7L196.2 1184.4L192.5 1185.2L188.7 1186L184.9 1186.9L181.1 1187.8L177.4 1188.8L173.7 1189.8L170 1190.9L166.2 1192.1L162.2 1193.4L158.1 1194.9L154 1196.4L150.2 1197.8L146.8 1199.1L144 1200.2L141.8 1201Z" fill="#bebebe" fill-opacity="0.45"/>
<path d="M141.8 1207L144 1206.7L146.8 1206.2L150.2 1205.7L154 1205.1L158.1 1204.5L162.2 1203.9L166.2 1203.2L170 1202.6L173.7 1202L177.4 1201.4L181.1 1200.7L184.9 1200.1L188.7 1199.4L192.5 1198.8L196.2 1198.2L200 1197.6L203.8 1197L207.7 1196.4L211.6 1195.8L215.5 1195.3L219.3 1194.7L223 1194.2L226.6 1193.7L230 1193.3L233.1 1192.9L235.8 1192.6L238.4 1192.3L240.8 1192L243.4 1191.7L246.1 1191.4L249.1 1191L252.6 1190.5L256.6 1189.8L261.1 1189.1L265.9 1188.2L270.9 1187.3L276 1186.4L280.9 1185.6L285.7 1184.8L290 1184.2L294 1183.6L297.7 1183.1L301.3 1182.7L304.7 1182.3L308.1 1182L311.5 1181.7L314.9 1181.5L318.4 1181.3L322 1181.1L325.6 1181L329.3 1181L332.9 1181L336.6 1181.1L340.3 1181.2L343.9 1181.3L347.6 1181.4L351.2 1181.6L354.9 1181.8L358.6 1182L362.2 1182.3L365.9 1182.5L369.5 1182.9L373.2 1183.2L376.8 1183.6L380.5 1184L384.1 1184.3L387.8 1184.8L391.4 1185.2L395.1 1185.7L398.7 1186.3L402.4 1187L406 1187.7L409.6 1188.6L413.2 1189.5L416.7 1190.6L420.3 1191.7L423.9 1192.8L427.6 1194L431.3 1195.2L435.2 1196.4L439.3 1197.6L443.5 1198.9L447.8 1200.2L452.2 1201.5L456.6 1202.9L460.9 1204.2L465.1 1205.6L469.2 1206.9L473.1 1208.1L476.8 1209.4L480.5 1210.7L484.1 1212L487.7 1213.2L491.2 1214.5L494.8 1215.8L498.4 1217L502.1 1218.3L505.7 1219.6L509.4 1220.9L513 1222.2L516.6 1223.4L520.3 1224.7L524 1225.9L527.6 1227.1L531.2 1228.2L534.6 1229.3L538.1 1230.4L541.5 1231.4L545.1 1232.4L548.7 1233.5L552.6 1234.5L556.8 1235.7L561.6 1236.9L567 1238.3L572.8 1239.8L578.6 1241.3L584.3 1242.7L589.4 1243.9L593.6 1245L596.8 1245.8L596.8 1258.8L593.6 1258L589.4 1256.9L584.3 1255.6L578.6 1254.1L572.8 1252.6L567 1251.1L561.6 1249.6L556.8 1248.3L552.6 1247.2L548.7 1246L545.1 1245L541.5 1243.9L538.1 1242.8L534.6 1241.8L531.2 1240.7L527.6 1239.5L524 1238.3L520.3 1237L516.6 1235.7L513 1234.4L509.4 1233.1L505.7 1231.8L502.1 1230.5L498.4 1229.2L494.8 1227.9L491.2 1226.6L487.7 1225.3L484.1 1224L480.5 1222.7L476.8 1221.4L473.1 1220.1L469.2 1218.7L465.1 1217.4L460.9 1216L456.6 1214.7L452.2 1213.3L447.8 1211.9L443.5 1210.6L439.3 1209.2L435.2 1208L431.3 1206.8L427.6 1205.5L423.9 1204.3L420.3 1203.1L416.7 1202L413.2 1200.9L409.6 1199.9L406 1199.1L402.4 1198.3L398.7 1197.6L395.1 1197L391.4 1196.4L387.8 1195.9L384.1 1195.5L380.5 1195.1L376.8 1194.6L373.2 1194.2L369.5 1193.9L365.9 1193.6L362.2 1193.3L358.6 1193.1L354.9 1192.9L351.2 1192.7L347.6 1192.6L343.9 1192.5L340.3 1192.4L336.6 1192.4L332.9 1192.3L329.3 1192.4L325.6 1192.4L322 1192.5L318.4 1192.7L314.9 1192.9L311.5 1193.2L308.1 1193.5L304.7 1193.9L301.3 1194.3L297.7 1194.7L294 1195.3L290 1195.8L285.7 1196.5L280.9 1197.4L276 1198.2L270.9 1199.2L265.9 1200.1L261.1 1201L256.6 1201.8L252.6 1202.5L249.1 1203.1L246.1 1203.5L243.4 1203.8L240.8 1204.1L238.4 1204.4L235.8 1204.7L233.1 1205.1L230 1205.5L226.6 1206L223 1206.5L219.3 1207.1L215.5 1207.6L211.6 1208.2L207.7 1208.8L203.8 1209.4L200 1210L196.2 1210.7L192.5 1211.3L188.7 1212L184.9 1212.7L181.1 1213.4L177.4 1214.1L173.7 1214.7L170 1215.4L166.2 1216L162.2 1216.7L158.1 1217.4L154 1218L150.2 1218.6L146.8 1219.2L144 1219.6L141.8 1220Z" fill="#bebebe" fill-opacity="0.45"/>
<path d="M141.8 1203.5L144 1202.8L146.8 1202L150.2 1201L154 1199.8L158.1 1198.6L162.2 1197.4L166.2 1196.2L170 1195L173.7 1194L177.4 1192.9L181.1 1191.9L184.9 1190.8L188.7 1189.8L192.5 1188.7L196.2 1187.6L200 1186.5L203.8 1185.4L207.7 1184.2L211.6 1183.1L215.5 1181.9L219.3 1180.7L223 1179.5L226.6 1178.3L230 1177.2L233.1 1176L235.8 1174.9L238.4 1173.8L240.8 1172.7L243.4 1171.5L246.1 1170.4L249.1 1169.3L252.6 1168.2L256.6 1167L261.1 1165.6L265.9 1164.2L270.9 1162.9L276 1161.6L280.9 1160.4L285.7 1159.3L290 1158.5L294 1157.9L297.7 1157.5L301.3 1157.3L304.7 1157.2L308.1 1157.1L311.5 1157.1L314.9 1157.1L318.4 1156.9L322.1 1156.8L325.8 1156.6L329.6 1156.5L333.4 1156.3L337.2 1156.2L340.8 1156.1L344.3 1155.9L347.6 1155.8L350.8 1155.6L354.1 1155.5L357.2 1155.3L360.3 1155.1L363.1 1155L365.6 1154.8L367.7 1154.7L369.3 1154.6L369.3 1172.6L367.7 1172.7L365.6 1172.7L363.1 1172.9L360.3 1173L357.2 1173.1L354.1 1173.2L350.8 1173.3L347.6 1173.4L344.3 1173.5L340.8 1173.6L337.2 1173.6L333.4 1173.7L329.6 1173.8L325.8 1173.9L322.1 1174L318.4 1174.1L314.9 1174.1L311.5 1174.1L308.1 1174.1L304.7 1174.1L301.3 1174.1L297.7 1174.3L294 1174.6L290 1175.1L285.7 1175.9L280.9 1176.8L276 1177.9L270.9 1179.1L265.9 1180.4L261.1 1181.7L256.6 1183L252.6 1184.2L249.1 1185.4L246.1 1186.6L243.4 1187.8L240.8 1188.9L238.4 1190.1L235.8 1191.2L233.1 1192.4L230 1193.6L226.6 1194.8L223 1196.1L219.3 1197.3L215.5 1198.6L211.6 1199.8L207.7 1201.1L203.8 1202.3L200 1203.5L196.2 1204.7L192.5 1205.8L188.7 1207L184.9 1208.1L181.1 1209.2L177.4 1210.3L173.7 1211.4L170 1212.6L166.2 1213.7L162.2 1215L158.1 1216.3L154 1217.6L150.2 1218.8L146.8 1219.9L144 1220.8L141.8 1221.5Z" fill="#bebebe" fill-opacity="0.45"/>
<path d="M141.8 1241.2L144 1240.6L146.8 1239.9L150.2 1239L154 1238.1L158.1 1237L162.2 1236L166.2 1235L170 1234L173.7 1233.1L177.4 1232.2L181.1 1231.3L184.9 1230.3L188.7 1229.4L192.5 1228.5L196.2 1227.6L200 1226.7L203.8 1225.8L207.7 1224.9L211.6 1224L215.5 1223.2L219.3 1222.3L223 1221.5L226.6 1220.6L230 1219.8L233.1 1219L235.8 1218.3L238.4 1217.6L240.8 1216.9L243.4 1216.2L246.1 1215.3L249.1 1214.3L252.6 1213.1L256.6 1211.7L261.1 1210L265.9 1208.3L270.9 1206.4L276 1204.4L280.9 1202.5L285.7 1200.5L290 1198.7L294 1196.8L297.7 1194.9L301.3 1193L304.7 1191.1L308.1 1189.2L311.5 1187.3L314.9 1185.5L318.4 1183.8L322 1182.1L325.6 1180.5L329.3 1178.9L332.9 1177.3L336.6 1175.9L340.3 1174.4L343.9 1173L347.6 1171.7L351.2 1170.5L354.9 1169.3L358.6 1168.2L362.2 1167.1L365.9 1166.1L369.5 1165.1L373.2 1164L376.8 1163L380.5 1161.9L384.1 1160.9L387.8 1159.9L391.4 1158.9L395.1 1157.9L398.7 1157L402.4 1156.1L406 1155.2L409.6 1154.3L413.2 1153.4L416.7 1152.5L420.3 1151.6L423.9 1150.8L427.6 1150.1L431.3 1149.4L435.2 1148.7L439.3 1148.2L443.5 1147.8L447.8 1147.4L452.2 1147.1L456.6 1146.8L460.9 1146.5L465.1 1146.1L469.2 1145.7L473.1 1145.3L476.8 1144.8L480.5 1144.2L484.1 1143.7L487.7 1143.2L491.2 1142.6L494.8 1142.2L498.4 1141.7L502.1 1141.4L505.7 1141L509.4 1140.7L513 1140.4L516.6 1140.1L520.3 1139.9L524 1139.6L527.6 1139.4L531.2 1139.2L534.6 1139L538.1 1138.9L541.5 1138.8L545.1 1138.6L548.7 1138.5L552.6 1138.4L556.8 1138.3L561.6 1138.2L567 1138.1L572.8 1138L578.6 1137.9L584.3 1137.8L589.4 1137.7L593.6 1137.7L596.8 1137.6L596.8 1159.6L593.6 1159.5L589.4 1159.5L584.3 1159.4L578.6 1159.2L572.8 1159.1L567 1159L561.6 1159L556.8 1158.9L552.6 1158.9L548.7 1158.8L545.1 1158.8L541.5 1158.8L538.1 1158.8L534.6 1158.9L531.2 1158.9L527.6 1159L524 1159.1L520.3 1159.2L516.6 1159.3L513 1159.4L509.4 1159.6L505.7 1159.8L502.1 1160L498.4 1160.3L494.8 1160.6L491.2 1160.9L487.7 1161.3L484.1 1161.7L480.5 1162.1L476.8 1162.6L473.1 1162.9L469.2 1163.3L465.1 1163.5L460.9 1163.7L456.6 1163.9L452.2 1164L447.8 1164.2L443.5 1164.4L439.3 1164.7L435.2 1165.1L431.3 1165.6L427.6 1166.1L423.9 1166.8L420.3 1167.4L416.7 1168.2L413.2 1168.9L409.6 1169.7L406 1170.4L402.4 1171.2L398.7 1172L395.1 1172.8L391.4 1173.7L387.8 1174.5L384.1 1175.4L380.5 1176.3L376.8 1177.2L373.2 1178.2L369.5 1179.1L365.9 1180.1L362.2 1181.2L358.6 1182.3L354.9 1183.4L351.2 1184.6L347.6 1185.9L343.9 1187.2L340.3 1188.7L336.6 1190.1L332.9 1191.7L329.3 1193.2L325.6 1194.9L322 1196.5L318.4 1198.2L314.9 1200L311.5 1201.8L308.1 1203.7L304.7 1205.6L301.3 1207.6L297.7 1209.5L294 1211.5L290 1213.3L285.7 1215.3L280.9 1217.2L276 1219.3L270.9 1221.2L265.9 1223.2L261.1 1225L256.6 1226.6L252.6 1228.1L249.1 1229.4L246.1 1230.4L243.4 1231.3L240.8 1232L238.4 1232.8L235.8 1233.5L233.1 1234.2L230 1235L226.6 1235.9L223 1236.8L219.3 1237.6L215.5 1238.5L211.6 1239.4L207.7 1240.3L203.8 1241.2L200 1242.1L196.2 1243.1L192.5 1244L188.7 1245L184.9 1245.9L181.1 1246.9L177.4 1247.9L173.7 1248.8L170 1249.8L166.2 1250.8L162.2 1251.8L158.1 1252.9L154 1254L150.2 1255L146.8 1255.9L144 1256.6L141.8 1257.2Z" fill="#bebebe" fill-opacity="0.45"/>
<path d="M141.8 1208L144 1207.5L146.8 1206.7L150.2 1205.9L154 1205L158.1 1203.9L162.2 1202.9L166.2 1201.8L170 1200.7L173.7 1199.6L177.4 1198.5L181.1 1197.3L184.9 1196.1L188.7 1194.8L192.5 1193.5L196.2 1192.2L200 1190.9L203.8 1189.6L207.7 1188.2L211.6 1186.8L215.5 1185.4L219.3 1184L223 1182.6L226.6 1181.2L230 1179.9L233.1 1178.6L235.8 1177.3L238.4 1176.1L240.8 1174.8L243.4 1173.6L246.1 1172.5L249.1 1171.3L252.6 1170.2L256.6 1169.2L261.1 1168.1L265.9 1167.1L270.9 1166.1L276 1165.2L280.9 1164.3L285.7 1163.4L290 1162.6L294 1161.9L297.7 1161.2L301.3 1160.6L304.7 1160L308.1 1159.4L311.5 1158.9L314.9 1158.3L318.4 1157.6L322 1157L325.6 1156.3L329.3 1155.6L332.9 1154.8L336.6 1154.1L340.3 1153.4L343.9 1152.8L347.6 1152.2L351.2 1151.6L354.9 1151.1L358.6 1150.6L362.2 1150.1L365.9 1149.7L369.5 1149.2L373.2 1148.5L376.8 1147.8L380.4 1147.1L384 1146.3L387.5 1145.4L391.1 1144.6L394.7 1143.7L398.4 1142.9L402.1 1142.1L406 1141.3L410.1 1140.6L414.3 1139.9L418.6 1139.2L423 1138.6L427.4 1138L431.7 1137.3L435.9 1136.6L440 1135.9L443.9 1135.2L447.6 1134.5L451.3 1133.8L454.9 1133.1L458.5 1132.4L462 1131.6L465.6 1130.7L469.2 1129.8L472.8 1128.8L476.5 1127.8L480.1 1126.6L483.8 1125.5L487.4 1124.3L491.1 1123L494.8 1121.8L498.4 1120.6L502.1 1119.3L505.7 1118.1L509.4 1116.9L513 1115.7L516.6 1114.4L520.3 1113.2L524 1112L527.6 1110.7L531.3 1109.5L535 1108.3L538.7 1107L542.4 1105.8L546.1 1104.5L549.7 1103.3L553.3 1102.1L556.8 1101L560.3 1099.9L563.9 1098.7L567.4 1097.6L570.9 1096.5L574.3 1095.4L577.5 1094.5L580.4 1093.6L583.1 1092.8L585.5 1092.1L587.7 1091.5L589.8 1091L591.6 1090.6L593.2 1090.2L594.6 1089.9L595.8 1089.6L596.8 1089.4L596.8 1117.4L595.8 1117.6L594.6 1117.7L593.2 1118L591.6 1118.2L589.8 1118.5L587.7 1118.9L585.5 1119.3L583.1 1119.8L580.4 1120.4L577.5 1121.1L574.3 1121.9L570.9 1122.7L567.4 1123.5L563.9 1124.4L560.3 1125.3L556.8 1126.2L553.3 1127.1L549.7 1128L546.1 1129L542.4 1129.9L538.7 1130.9L535 1131.9L531.3 1132.9L527.6 1133.9L524 1134.8L520.3 1135.8L516.6 1136.8L513 1137.8L509.4 1138.8L505.7 1139.7L502.1 1140.7L498.4 1141.6L494.8 1142.6L491.1 1143.6L487.4 1144.6L483.8 1145.5L480.1 1146.5L476.5 1147.5L472.8 1148.4L469.2 1149.2L465.6 1149.9L462 1150.6L458.5 1151.3L454.9 1151.9L451.3 1152.4L447.6 1153L443.9 1153.5L440 1154.1L435.9 1154.6L431.7 1155.1L427.4 1155.5L423 1156L418.6 1156.4L414.3 1156.9L410.1 1157.4L406 1157.9L402.1 1158.5L398.4 1159.2L394.7 1159.8L391.1 1160.5L387.5 1161.2L384 1161.9L380.4 1162.6L376.8 1163.2L373.2 1163.7L369.5 1164.2L365.9 1164.7L362.2 1165.3L358.6 1165.8L354.9 1166.4L351.2 1167L347.6 1167.6L343.9 1168.3L340.3 1169.1L336.6 1169.9L332.9 1170.6L329.3 1171.4L325.6 1172.2L322 1173L318.4 1173.8L314.9 1174.5L311.5 1175.1L308.1 1175.8L304.7 1176.4L301.3 1177.1L297.7 1177.8L294 1178.5L290 1179.4L285.7 1180.3L280.9 1181.2L276 1182.2L270.9 1183.3L265.9 1184.4L261.1 1185.5L256.6 1186.6L252.6 1187.8L249.1 1189L246.1 1190.2L243.4 1191.4L240.8 1192.6L238.4 1193.9L235.8 1195.2L233.1 1196.6L230 1197.9L226.6 1199.3L223 1200.8L219.3 1202.3L215.5 1203.8L211.6 1205.3L207.7 1206.8L203.8 1208.2L200 1209.7L196.2 1211L192.5 1212.4L188.7 1213.8L184.9 1215.1L181.1 1216.4L177.4 1217.7L173.7 1218.9L170 1220.1L166.2 1221.3L162.2 1222.4L158.1 1223.6L154 1224.7L150.2 1225.7L146.8 1226.6L144 1227.4L141.8 1228Z" fill="#bebebe" fill-opacity="0.45"/>
<g fill-opacity="0.31">
<circle cx="148.6" cy="1156.9" r="10.3" fill="#d90000"/>
<circle cx="122.6" cy="1142.1" r="10.3" fill="#d90000"/>
<circle cx="121.9" cy="1170" r="10.3" fill="#d90000"/>
<circle cx="142.1" cy="1156.1" r="10.3" fill="#d90000"/>
<circle cx="122.4" cy="1131.9" r="10.3" fill="#d90000"/>
<circle cx="123.4" cy="1147.1" r="10.3" fill="#d90000"/>
<circle cx="124.9" cy="1184.2" r="10.3" fill="#d90000"/>
<circle cx="129.3" cy="1135.4" r="10.3" fill="#d90000"/>
<circle cx="145.3" cy="1184.7" r="10.3" fill="#d90000"/>
<circle cx="137.2" cy="1185.7" r="10.3" fill="#d90000"/>
<circle cx="157.9" cy="1146" r="10.3" fill="#d90000"/>
<circle cx="132.3" cy="1152.8" r="10.3" fill="#d90000"/>
<circle cx="133.2" cy="1146" r="10.3" fill="#d90000"/>
<circle cx="156" cy="1144.3" r="10.3" fill="#d90000"/>
<circle cx="148.1" cy="1141.2" r="10.3" fill="#d90000"/>
<circle cx="136.1" cy="1128.8" r="10.3" fill="#d90000"/>
<circle cx="122" cy="1158.6" r="10.3" fill="#d90000"/>
<circle cx="128.6" cy="1154" r="10.3" fill="#d90000"/>
<circle cx="133.4" cy="1160.6" r="10.3" fill="#d90000"/>
<circle cx="145.7" cy="1170.5" r="10.3" fill="#d90000"/>
<circle cx="155" cy="1167.6" r="10.3" fill="#d90000"/>
<circle cx="150.8" cy="1147.2" r="10.3" fill="#d90000"/>
<circle cx="142.9" cy="1151" r="10.3" fill="#d90000"/>
<circle cx="158.7" cy="1126.7" r="10.3" fill="#d90000"/>
<circle cx="163.4" cy="1154" r="10.3" fill="#d90000"/>
<circle cx="124.6" cy="1167.8" r="10.3" fill="#d90000"/>
<circle cx="126.1" cy="1180.3" r="10.3" fill="#d90000"/>
<circle cx="141.3" cy="1135.9" r="10.3" fill="#d90000"/>
<circle cx="153.7" cy="1124.1" r="10.3" fill="#d90000"/>
<circle cx="145.1" cy="1144.9" r="10.3" fill="#d90000"/>
<circle cx="150.6" cy="1140" r="10.3" fill="#d90000"/>
<circle cx="146" cy="1163.8" r="10.3" fill="#d90000"/>
<circle cx="157.1" cy="1170.7" r="10.3" fill="#d90000"/>
<circle cx="161.8" cy="1162.2" r="10.3" fill="#d90000"/>
<circle cx="122" cy="1180.2" r="10.3" fill="#d90000"/>
<circle cx="150.9" cy="1147.3" r="10.3" fill="#d90000"/>
<circle cx="156.3" cy="1188.7" r="10.3" fill="#d90000"/>
<circle cx="132.1" cy="1200.7" r="10.3" fill="#d90000"/>
<circle cx="120.3" cy="1173.6" r="10.3" fill="#d90000"/>
<circle cx="140.1" cy="1133" r="10.3" fill="#d90000"/>
<circle cx="122" cy="1141.3" r="10.3" fill="#dbcfb6"/>
<circle cx="153.9" cy="1136.4" r="10.3" fill="#dbcfb6"/>
<circle cx="136.9" cy="1134.3" r="10.3" fill="#dbcfb6"/>
<circle cx="158.5" cy="1133.5" r="10.3" fill="#dbcfb6"/>
<circle cx="144" cy="1123" r="10.3" fill="#dbcfb6"/>
<circle cx="159.1" cy="1134" r="10.3" fill="#dbcfb6"/>
<circle cx="131.8" cy="1125.9" r="10.3" fill="#dbcfb6"/>
<circle cx="138" cy="1194.4" r="10.3" fill="#dbcfb6"/>
<circle cx="162.4" cy="1181.5" r="10.3" fill="#dbcfb6"/>
<circle cx="126.1" cy="1106.1" r="10.3" fill="#dbcfb6"/>
<circle cx="129.8" cy="1139.3" r="10.3" fill="#dbcfb6"/>
<circle cx="141.1" cy="1130.9" r="10.3" fill="#dbcfb6"/>
<circle cx="119.5" cy="1164.7" r="10.3" fill="#dbcfb6"/>
<circle cx="138.2" cy="1158.4" r="10.3" fill="#dbcfb6"/>
<circle cx="162.2" cy="1170.4" r="10.3" fill="#dbcfb6"/>
<circle cx="150.4" cy="1123.2" r="10.3" fill="#dbcfb6"/>
<circle cx="149.7" cy="1183.3" r="10.3" fill="#dbcfb6"/>
<circle cx="121.7" cy="1151.1" r="10.3" fill="#dbcfb6"/>
<circle cx="158.7" cy="1111.4" r="10.3" fill="#dbcfb6"/>
<circle cx="155.2" cy="1174.2" r="10.3" fill="#dbcfb6"/>
<circle cx="124" cy="1168" r="10.3" fill="#dbcfb6"/>
<circle cx="147.8" cy="1131.4" r="10.3" fill="#dbcfb6"/>
<circle cx="128.7" cy="1138.7" r="10.3" fill="#dbcfb6"/>
<circle cx="126.6" cy="1144" r="10.3" fill="#dbcfb6"/>
<circle cx="119.3" cy="1152.2" r="10.3" fill="#dbcfb6"/>
<circle cx="126.1" cy="1140.5" r="10.3" fill="#dbcfb6"/>
<circle cx="120.4" cy="1127.9" r="10.3" fill="#dbcfb6"/>
<circle cx="158.6" cy="1133.1" r="10.3" fill="#dbcfb6"/>
<circle cx="130.7" cy="1158.7" r="10.3" fill="#dbcfb6"/>
<circle cx="134.9" cy="1157.3" r="10.3" fill="#dbcfb6"/>
<circle cx="157.5" cy="1156.3" r="10.3" fill="#dbcfb6"/>
<circle cx="164" cy="1137.7" r="10.3" fill="#dbcfb6"/>
<circle cx="123.2" cy="1176.7" r="10.3" fill="#dbcfb6"/>
<circle cx="123.9" cy="1141.4" r="10.3" fill="#dbcfb6"/>
<circle cx="156.6" cy="1158.8" r="10.3" fill="#dbcfb6"/>
<circle cx="126.6" cy="1130.7" r="10.3" fill="#dbcfb6"/>
<circle cx="143.1" cy="1138.5" r="10.3" fill="#dbcfb6"/>
<circle cx="120.5" cy="1128.1" r="10.3" fill="#dbcfb6"/>
<circle cx="143.1" cy="1121.9" r="10.3" fill="#dbcfb6"/>
<circle cx="150.6" cy="1154.6" r="10.3" fill="#dbcfb6"/>
<circle cx="163.2" cy="1078.6" r="10.3" fill="#dbcfb6"/>
<circle cx="126.8" cy="1174.9" r="10.3" fill="#6fa7d8"/>
<circle cx="154" cy="1153" r="10.3" fill="#6fa7d8"/>
<circle cx="134.1" cy="1210.1" r="10.3" fill="#6fa7d8"/>
<circle cx="129.3" cy="1181.1" r="10.3" fill="#6fa7d8"/>
<circle cx="157.7" cy="1150" r="10.3" fill="#6fa7d8"/>
<circle cx="152.6" cy="1159.8" r="10.3" fill="#6fa7d8"/>
<circle cx="129.5" cy="1210.7" r="10.3" fill="#6fa7d8"/>
<circle cx="120.6" cy="1193.5" r="10.3" fill="#6fa7d8"/>
<circle cx="120.6" cy="1175.7" r="10.3" fill="#6fa7d8"/>
<circle cx="150.5" cy="1176.5" r="10.3" fill="#6fa7d8"/>
<circle cx="162.3" cy="1157.1" r="10.3" fill="#6fa7d8"/>
<circle cx="163.8" cy="1221.3" r="10.3" fill="#6fa7d8"/>
<circle cx="162.3" cy="1157" r="10.3" fill="#6fa7d8"/>
<circle cx="129.5" cy="1183.5" r="10.3" fill="#6fa7d8"/>
<circle cx="128.2" cy="1162.1" r="10.3" fill="#6fa7d8"/>
<circle cx="159.8" cy="1165" r="10.3" fill="#6fa7d8"/>
<circle cx="157.1" cy="1144.6" r="10.3" fill="#6fa7d8"/>
<circle cx="155.3" cy="1204.5" r="10.3" fill="#6fa7d8"/>
<circle cx="123.1" cy="1169.4" r="10.3" fill="#6fa7d8"/>
<circle cx="154.5" cy="1198.6" r="10.3" fill="#6fa7d8"/>
<circle cx="153.1" cy="1213.4" r="10.3" fill="#6fa7d8"/>
<circle cx="154.8" cy="1186.8" r="10.3" fill="#6fa7d8"/>
<circle cx="134.3" cy="1171.6" r="10.3" fill="#6fa7d8"/>
<circle cx="137.1" cy="1155.4" r="10.3" fill="#6fa7d8"/>
<circle cx="137.4" cy="1228" r="10.3" fill="#6fa7d8"/>
<circle cx="127" cy="1140.8" r="10.3" fill="#6fa7d8"/>
<circle cx="125" cy="1184.8" r="10.3" fill="#6fa7d8"/>
<circle cx="155.6" cy="1146.3" r="10.3" fill="#6fa7d8"/>
<circle cx="125.9" cy="1135.5" r="10.3" fill="#6fa7d8"/>
<circle cx="148.9" cy="1145.6" r="10.3" fill="#6fa7d8"/>
<circle cx="135.1" cy="1226.9" r="10.3" fill="#6fa7d8"/>
<circle cx="119.9" cy="1184.3" r="10.3" fill="#6fa7d8"/>
<circle cx="163" cy="1176.9" r="10.3" fill="#6fa7d8"/>
<circle cx="161.3" cy="1189" r="10.3" fill="#6fa7d8"/>
<circle cx="138.8" cy="1194.7" r="10.3" fill="#6fa7d8"/>
<circle cx="128.8" cy="1145.6" r="10.3" fill="#6fa7d8"/>
<circle cx="130.6" cy="1202.5" r="10.3" fill="#6fa7d8"/>
<circle cx="145.7" cy="1177.7" r="10.3" fill="#6fa7d8"/>
<circle cx="131" cy="1158.1" r="10.3" fill="#6fa7d8"/>
<circle cx="160.3" cy="1183.4" r="10.3" fill="#6fa7d8"/>
<circle cx="135.2" cy="1167.9" r="10.3" fill="#6fa7d8"/>
<circle cx="160" cy="1200.9" r="10.3" fill="#6fa7d8"/>
<circle cx="138.2" cy="1166.1" r="10.3" fill="#6fa7d8"/>
<circle cx="143.2" cy="1151.4" r="10.3" fill="#6fa7d8"/>
<circle cx="142.9" cy="1186" r="10.3" fill="#6fa7d8"/>
<circle cx="127.5" cy="1150.5" r="10.3" fill="#6fa7d8"/>
<circle cx="119.5" cy="1170.7" r="10.3" fill="#6fa7d8"/>
<circle cx="140.6" cy="1169.4" r="10.3" fill="#6fa7d8"/>
<circle cx="151.9" cy="1186.1" r="10.3" fill="#6fa7d8"/>
<circle cx="142.6" cy="1191.4" r="10.3" fill="#6fa7d8"/>
<circle cx="144.3" cy="1180.1" r="10.3" fill="#6fa7d8"/>
<circle cx="144.5" cy="1171.3" r="10.3" fill="#6fa7d8"/>
<circle cx="130.5" cy="1183.4" r="10.3" fill="#6fa7d8"/>
<circle cx="142.1" cy="1179.7" r="10.3" fill="#6fa7d8"/>
<circle cx="144.6" cy="1137" r="10.3" fill="#6fa7d8"/>
<circle cx="139.2" cy="1202.7" r="10.3" fill="#2f6ca4"/>
<circle cx="142.3" cy="1225.1" r="10.3" fill="#2f6ca4"/>
<circle cx="150.5" cy="1222.3" r="10.3" fill="#2f6ca4"/>
<circle cx="140.8" cy="1231.1" r="10.3" fill="#2f6ca4"/>
<circle cx="161.7" cy="1197.9" r="10.3" fill="#2f6ca4"/>
<circle cx="161.7" cy="1219.5" r="10.3" fill="#2f6ca4"/>
<circle cx="131" cy="1247.5" r="10.3" fill="#2f6ca4"/>
<circle cx="157.1" cy="1224.5" r="10.3" fill="#2f6ca4"/>
<circle cx="139.2" cy="1198.6" r="10.3" fill="#2f6ca4"/>
<circle cx="122.6" cy="1197.4" r="10.3" fill="#2f6ca4"/>
<circle cx="149.4" cy="1205.2" r="10.3" fill="#2f6ca4"/>
<circle cx="154.6" cy="1197.4" r="10.3" fill="#2f6ca4"/>
<circle cx="151.5" cy="1195.8" r="10.3" fill="#2f6ca4"/>
<circle cx="149" cy="1213.2" r="10.3" fill="#2f6ca4"/>
<circle cx="162.8" cy="1178" r="10.3" fill="#2f6ca4"/>
<circle cx="129.2" cy="1170.9" r="10.3" fill="#2f6ca4"/>
<circle cx="141.2" cy="1185" r="10.3" fill="#2f6ca4"/>
<circle cx="163.8" cy="1212.1" r="10.3" fill="#2f6ca4"/>
<circle cx="138.7" cy="1199.4" r="10.3" fill="#2f6ca4"/>
<circle cx="142.5" cy="1216.8" r="10.3" fill="#2f6ca4"/>
<circle cx="133.6" cy="1213.3" r="10.3" fill="#2f6ca4"/>
<circle cx="151.8" cy="1193.7" r="10.3" fill="#2f6ca4"/>
<circle cx="139.1" cy="1178.6" r="10.3" fill="#2f6ca4"/>
<circle cx="120.1" cy="1202.4" r="10.3" fill="#2f6ca4"/>
<circle cx="142.4" cy="1220.5" r="10.3" fill="#2f6ca4"/>
<circle cx="122.2" cy="1179.5" r="10.3" fill="#2f6ca4"/>
<circle cx="163" cy="1168" r="10.3" fill="#2f6ca4"/>
<circle cx="124" cy="1209.3" r="10.3" fill="#2f6ca4"/>
<circle cx="154.4" cy="1206.3" r="10.3" fill="#2f6ca4"/>
<circle cx="131.5" cy="1199.6" r="10.3" fill="#2f6ca4"/>
<circle cx="160.3" cy="1190.3" r="10.3" fill="#2f6ca4"/>
<circle cx="156.2" cy="1189.3" r="10.3" fill="#2f6ca4"/>
<circle cx="160.7" cy="1206.4" r="10.3" fill="#2f6ca4"/>
<circle cx="145" cy="1193.5" r="10.3" fill="#2f6ca4"/>
<circle cx="121.9" cy="1208.6" r="10.3" fill="#2f6ca4"/>
<circle cx="150.3" cy="1214.6" r="10.3" fill="#2f6ca4"/>
<circle cx="161.5" cy="1213.2" r="10.3" fill="#2f6ca4"/>
<circle cx="147.8" cy="1202" r="10.3" fill="#2f6ca4"/>
<circle cx="157.8" cy="1202.9" r="10.3" fill="#2f6ca4"/>
<circle cx="122.3" cy="1214.2" r="10.3" fill="#2f6ca4"/>
<circle cx="134.6" cy="1190.3" r="10.3" fill="#2f6ca4"/>
<circle cx="144.2" cy="1223.7" r="10.3" fill="#2f6ca4"/>
<circle cx="125.1" cy="1190.5" r="10.3" fill="#2f6ca4"/>
<circle cx="143" cy="1213.3" r="10.3" fill="#2f6ca4"/>
<circle cx="126.6" cy="1205" r="10.3" fill="#2f6ca4"/>
<circle cx="121.6" cy="1195.4" r="10.3" fill="#2f6ca4"/>
<circle cx="133" cy="1200.2" r="10.3" fill="#2f6ca4"/>
<circle cx="153.5" cy="1188" r="10.3" fill="#2f6ca4"/>
<circle cx="127.3" cy="1212" r="10.3" fill="#2f6ca4"/>
<circle cx="134.9" cy="1181.2" r="10.3" fill="#2f6ca4"/>
<circle cx="120" cy="1189.5" r="10.3" fill="#2f6ca4"/>
<circle cx="152.3" cy="1203.9" r="10.3" fill="#2f6ca4"/>
<circle cx="140.7" cy="1219" r="10.3" fill="#2f6ca4"/>
<circle cx="161.4" cy="1210.1" r="10.3" fill="#2f6ca4"/>
<circle cx="138.7" cy="1174.5" r="10.3" fill="#2f6ca4"/>
<circle cx="141.6" cy="1181.1" r="10.3" fill="#2f6ca4"/>
<circle cx="142.1" cy="1194.8" r="10.3" fill="#2f6ca4"/>
<circle cx="150.2" cy="1224.3" r="10.3" fill="#2f6ca4"/>
<circle cx="156.8" cy="1186.1" r="10.3" fill="#2f6ca4"/>
<circle cx="151.1" cy="1207.9" r="10.3" fill="#2f6ca4"/>
<circle cx="134.9" cy="1267.4" r="10.3" fill="#ffaa00"/>
<circle cx="121.7" cy="1268.9" r="10.3" fill="#ffaa00"/>
<circle cx="152.6" cy="1253.4" r="10.3" fill="#ffaa00"/>
<circle cx="130.8" cy="1253.1" r="10.3" fill="#ffaa00"/>
<circle cx="157.2" cy="1254.1" r="10.3" fill="#ffaa00"/>
<circle cx="158.5" cy="1251.9" r="10.3" fill="#ffaa00"/>
<circle cx="130.2" cy="1263.2" r="10.3" fill="#ffaa00"/>
<circle cx="132.5" cy="1268.1" r="10.3" fill="#ffaa00"/>
<circle cx="139.4" cy="1265.9" r="10.3" fill="#ffaa00"/>
<circle cx="131.1" cy="1255.1" r="10.3" fill="#ffaa00"/>
<circle cx="143.9" cy="1266.9" r="10.3" fill="#ffaa00"/>
<circle cx="133.2" cy="1256" r="10.3" fill="#ffaa00"/>
<circle cx="136.5" cy="1257.8" r="10.3" fill="#ffaa00"/>
<circle cx="140.7" cy="1256.8" r="10.3" fill="#ffaa00"/>
<circle cx="142" cy="1267.4" r="10.3" fill="#ffaa00"/>
<circle cx="119.5" cy="1257.5" r="10.3" fill="#ffaa00"/>
<circle cx="137.3" cy="1257.9" r="10.3" fill="#ffaa00"/>
<circle cx="121.2" cy="1250.8" r="10.3" fill="#ffaa00"/>
<circle cx="129.8" cy="1244.6" r="10.3" fill="#ffaa00"/>
<circle cx="145.7" cy="1255.5" r="10.3" fill="#ffaa00"/>
<circle cx="148.9" cy="1282" r="10.3" fill="#ffaa00"/>
<circle cx="151.5" cy="1261.9" r="10.3" fill="#ffaa00"/>
<circle cx="134" cy="1246.5" r="10.3" fill="#ffaa00"/>
<circle cx="163.6" cy="1267.6" r="10.3" fill="#ffaa00"/>
<circle cx="148.2" cy="1243.1" r="10.3" fill="#ffaa00"/>
<circle cx="121.3" cy="1237.8" r="10.3" fill="#ffaa00"/>
<circle cx="147.5" cy="1241.1" r="10.3" fill="#ffaa00"/>
<circle cx="152.3" cy="1284.6" r="10.3" fill="#ffaa00"/>
<circle cx="142.9" cy="1254.2" r="10.3" fill="#ffaa00"/>
<circle cx="142" cy="1265" r="10.3" fill="#ffaa00"/>
<circle cx="156.5" cy="1243.5" r="10.3" fill="#ffaa00"/>
<circle cx="145.6" cy="1280.8" r="10.3" fill="#ffaa00"/>
<circle cx="150.5" cy="1239.5" r="10.3" fill="#ffaa00"/>
<circle cx="129.6" cy="1271.6" r="10.3" fill="#ffaa00"/>
<circle cx="135.5" cy="1249.4" r="10.3" fill="#ffaa00"/>
<circle cx="124" cy="1255.8" r="10.3" fill="#ffaa00"/>
<circle cx="147.5" cy="1247.5" r="10.3" fill="#ffaa00"/>
<circle cx="147.5" cy="1273.9" r="10.3" fill="#ffaa00"/>
<circle cx="119.4" cy="1264.7" r="10.3" fill="#ffaa00"/>
<circle cx="155.2" cy="1273.2" r="10.3" fill="#ffaa00"/>
<circle cx="143.4" cy="1257.5" r="10.3" fill="#ffaa00"/>
<circle cx="149" cy="1275.1" r="10.3" fill="#ffaa00"/>
<circle cx="130.6" cy="1234.8" r="10.3" fill="#ffaa00"/>
<circle cx="122.7" cy="1247.4" r="10.3" fill="#ffaa00"/>
<circle cx="128.5" cy="1259.7" r="10.3" fill="#ffaa00"/>
<circle cx="152.6" cy="1233.1" r="10.3" fill="#ffaa00"/>
<circle cx="136.5" cy="1240" r="10.3" fill="#ffaa00"/>
<circle cx="140.9" cy="1260" r="10.3" fill="#ffaa00"/>
<circle cx="147.1" cy="1267.7" r="10.3" fill="#ffaa00"/>
<circle cx="148.2" cy="1280.8" r="10.3" fill="#ffaa00"/>
<circle cx="130.7" cy="1249.8" r="10.3" fill="#ffaa00"/>
<circle cx="152.7" cy="1253.4" r="10.3" fill="#ffaa00"/>
<circle cx="119.9" cy="1263.9" r="10.3" fill="#ffaa00"/>
<circle cx="122" cy="1239" r="10.3" fill="#ffaa00"/>
<circle cx="150.4" cy="1260" r="10.3" fill="#ffaa00"/>
<circle cx="149.7" cy="1235" r="10.3" fill="#ffaa00"/>
<circle cx="140.2" cy="1261.9" r="10.3" fill="#ffaa00"/>
<circle cx="140.3" cy="1239.8" r="10.3" fill="#ffaa00"/>
<circle cx="128.3" cy="1233.9" r="10.3" fill="#ffaa00"/>
<circle cx="163.3" cy="1235.7" r="10.3" fill="#ffaa00"/>
<circle cx="140" cy="1225.7" r="10.3" fill="#248c24"/>
<circle cx="156.2" cy="1231" r="10.3" fill="#248c24"/>
<circle cx="131.4" cy="1206.4" r="10.3" fill="#248c24"/>
<circle cx="128.7" cy="1234.1" r="10.3" fill="#248c24"/>
<circle cx="145.5" cy="1215.4" r="10.3" fill="#248c24"/>
<circle cx="125.7" cy="1234.3" r="10.3" fill="#248c24"/>
<circle cx="125.3" cy="1237.4" r="10.3" fill="#248c24"/>
<circle cx="159.2" cy="1218.4" r="10.3" fill="#248c24"/>
<circle cx="151" cy="1252.6" r="10.3" fill="#248c24"/>
<circle cx="141.2" cy="1224" r="10.3" fill="#248c24"/>
<circle cx="141.4" cy="1227.6" r="10.3" fill="#248c24"/>
<circle cx="139.6" cy="1229.1" r="10.3" fill="#248c24"/>
<circle cx="134.8" cy="1233.2" r="10.3" fill="#248c24"/>
<circle cx="133.5" cy="1218.2" r="10.3" fill="#248c24"/>
<circle cx="153.1" cy="1228.7" r="10.3" fill="#248c24"/>
<circle cx="157.1" cy="1230.5" r="10.3" fill="#248c24"/>
<circle cx="151.4" cy="1193.6" r="10.3" fill="#248c24"/>
<circle cx="159.9" cy="1195.7" r="10.3" fill="#248c24"/>
<circle cx="137" cy="1234.5" r="10.3" fill="#248c24"/>
<circle cx="164.2" cy="1209.3" r="10.3" fill="#248c24"/>
<circle cx="138.6" cy="1246.6" r="10.3" fill="#248c24"/>
<circle cx="131.7" cy="1240.2" r="10.3" fill="#248c24"/>
<circle cx="156.9" cy="1219.9" r="10.3" fill="#248c24"/>
<circle cx="132.2" cy="1226.4" r="10.3" fill="#248c24"/>
<circle cx="131.3" cy="1214.4" r="10.3" fill="#248c24"/>
<circle cx="142.3" cy="1235.8" r="10.3" fill="#248c24"/>
<circle cx="162.3" cy="1221.7" r="10.3" fill="#248c24"/>
<circle cx="159.1" cy="1210.1" r="10.3" fill="#248c24"/>
<circle cx="160.4" cy="1217.9" r="10.3" fill="#248c24"/>
<circle cx="161.6" cy="1257.5" r="10.3" fill="#248c24"/>
<circle cx="121.5" cy="1262" r="10.3" fill="#248c24"/>
<circle cx="152.3" cy="1239.8" r="10.3" fill="#248c24"/>
<circle cx="148.3" cy="1263.6" r="10.3" fill="#248c24"/>
<circle cx="132.2" cy="1218.5" r="10.3" fill="#248c24"/>
<circle cx="125" cy="1214.5" r="10.3" fill="#248c24"/>
<circle cx="132.7" cy="1248.8" r="10.3" fill="#248c24"/>
<circle cx="152.6" cy="1225.9" r="10.3" fill="#248c24"/>
<circle cx="148.8" cy="1212.9" r="10.3" fill="#248c24"/>
<circle cx="246.5" cy="1158.7" r="10.3" fill="#d90000"/>
<circle cx="240.5" cy="1176.4" r="10.3" fill="#d90000"/>
<circle cx="240.3" cy="1163.9" r="10.3" fill="#d90000"/>
<circle cx="255.4" cy="1144" r="10.3" fill="#d90000"/>
<circle cx="277.8" cy="1147.5" r="10.3" fill="#d90000"/>
<circle cx="241.7" cy="1167.5" r="10.3" fill="#d90000"/>
<circle cx="237.1" cy="1152.6" r="10.3" fill="#d90000"/>
<circle cx="243.8" cy="1161.4" r="10.3" fill="#d90000"/>
<circle cx="244.6" cy="1148.4" r="10.3" fill="#d90000"/>
<circle cx="266.7" cy="1197" r="10.3" fill="#d90000"/>
<circle cx="251.6" cy="1175.3" r="10.3" fill="#d90000"/>
<circle cx="250" cy="1178.7" r="10.3" fill="#d90000"/>
<circle cx="248.2" cy="1142.8" r="10.3" fill="#d90000"/>
<circle cx="276.5" cy="1140.2" r="10.3" fill="#d90000"/>
<circle cx="238.7" cy="1149.7" r="10.3" fill="#d90000"/>
<circle cx="271.8" cy="1186.6" r="10.3" fill="#d90000"/>
<circle cx="242.7" cy="1156.9" r="10.3" fill="#d90000"/>
<circle cx="251" cy="1158.4" r="10.3" fill="#d90000"/>
<circle cx="253.1" cy="1140.1" r="10.3" fill="#d90000"/>
<circle cx="272.3" cy="1116.2" r="10.3" fill="#d90000"/>
<circle cx="234" cy="1168.2" r="10.3" fill="#d90000"/>
<circle cx="273.3" cy="1123.1" r="10.3" fill="#d90000"/>
<circle cx="254.3" cy="1149.5" r="10.3" fill="#d90000"/>
<circle cx="250.6" cy="1156.6" r="10.3" fill="#d90000"/>
<circle cx="274.7" cy="1156.5" r="10.3" fill="#d90000"/>
<circle cx="276.8" cy="1136.9" r="10.3" fill="#d90000"/>
<circle cx="244.2" cy="1193.9" r="10.3" fill="#d90000"/>
<circle cx="256.5" cy="1146.6" r="10.3" fill="#d90000"/>
<circle cx="263.7" cy="1148.4" r="10.3" fill="#d90000"/>
<circle cx="262.1" cy="1124.2" r="10.3" fill="#d90000"/>
<circle cx="267.4" cy="1168.6" r="10.3" fill="#d90000"/>
<circle cx="234.8" cy="1182.5" r="10.3" fill="#d90000"/>
<circle cx="268.2" cy="1149" r="10.3" fill="#d90000"/>
<circle cx="262" cy="1151" r="10.3" fill="#d90000"/>
<circle cx="244.3" cy="1160" r="10.3" fill="#d90000"/>
<circle cx="261.6" cy="1145.6" r="10.3" fill="#d90000"/>
<circle cx="236.2" cy="1159.6" r="10.3" fill="#d90000"/>
<circle cx="256.6" cy="1166.2" r="10.3" fill="#d90000"/>
<circle cx="243.1" cy="1174.7" r="10.3" fill="#d90000"/>
<circle cx="260" cy="1166.9" r="10.3" fill="#d90000"/>
<circle cx="253.7" cy="1138.1" r="10.3" fill="#d90000"/>
<circle cx="276.2" cy="1155.1" r="10.3" fill="#d90000"/>
<circle cx="254.4" cy="1183.7" r="10.3" fill="#d90000"/>
<circle cx="243.6" cy="1191.4" r="10.3" fill="#d90000"/>
<circle cx="264.7" cy="1155.2" r="10.3" fill="#d90000"/>
<circle cx="242.2" cy="1108.9" r="10.3" fill="#d90000"/>
<circle cx="266.6" cy="1108" r="10.3" fill="#d90000"/>
<circle cx="255.4" cy="1153.6" r="10.3" fill="#7b766f"/>
<circle cx="263.4" cy="1147.7" r="10.3" fill="#7b766f"/>
<circle cx="263" cy="1166.5" r="10.3" fill="#7b766f"/>
<circle cx="274.6" cy="1144" r="10.3" fill="#7b766f"/>
<circle cx="248.2" cy="1151.1" r="10.3" fill="#7b766f"/>
<circle cx="251.9" cy="1146.4" r="10.3" fill="#7b766f"/>
<circle cx="268.9" cy="1157.8" r="10.3" fill="#7b766f"/>
<circle cx="266.3" cy="1165" r="10.3" fill="#7b766f"/>
<circle cx="276.6" cy="1166.5" r="10.3" fill="#7b766f"/>
<circle cx="247" cy="1152.4" r="10.3" fill="#7b766f"/>
<circle cx="243" cy="1145.3" r="10.3" fill="#7b766f"/>
<circle cx="267.2" cy="1166.1" r="10.3" fill="#7b766f"/>
<circle cx="255.3" cy="1166.7" r="10.3" fill="#7b766f"/>
<circle cx="251.8" cy="1146.1" r="10.3" fill="#7b766f"/>
<circle cx="262.9" cy="1137.8" r="10.3" fill="#7b766f"/>
<circle cx="250.7" cy="1140.5" r="10.3" fill="#7b766f"/>
<circle cx="242.6" cy="1155.8" r="10.3" fill="#7b766f"/>
<circle cx="235.3" cy="1140.2" r="10.3" fill="#7b766f"/>
<circle cx="235.7" cy="1153.9" r="10.3" fill="#7b766f"/>
<circle cx="272.8" cy="1188" r="10.3" fill="#7b766f"/>
<circle cx="266" cy="1123.4" r="10.3" fill="#7b766f"/>
<circle cx="247.8" cy="1152.7" r="10.3" fill="#7b766f"/>
<circle cx="266.6" cy="1132.1" r="10.3" fill="#7b766f"/>
<circle cx="250" cy="1120.8" r="10.3" fill="#7b766f"/>
<circle cx="249.8" cy="1145.6" r="10.3" fill="#7b766f"/>
<circle cx="233.1" cy="1158.4" r="10.3" fill="#7b766f"/>
<circle cx="245.6" cy="1140.5" r="10.3" fill="#7b766f"/>
<circle cx="238.6" cy="1183.9" r="10.3" fill="#7b766f"/>
<circle cx="249" cy="1137.7" r="10.3" fill="#7b766f"/>
<circle cx="270" cy="1155.2" r="10.3" fill="#7b766f"/>
<circle cx="235.2" cy="1142" r="10.3" fill="#7b766f"/>
<circle cx="254.3" cy="1172.5" r="10.3" fill="#7b766f"/>
<circle cx="241.7" cy="1185.6" r="10.3" fill="#7b766f"/>
<circle cx="249.4" cy="1117.3" r="10.3" fill="#7b766f"/>
<circle cx="251.5" cy="1147.7" r="10.3" fill="#7b766f"/>
<circle cx="269.5" cy="1155.2" r="10.3" fill="#7b766f"/>
<circle cx="234.6" cy="1151.3" r="10.3" fill="#7b766f"/>
<circle cx="235.8" cy="1158.1" r="10.3" fill="#7b766f"/>
<circle cx="266.6" cy="1137.4" r="10.3" fill="#7b766f"/>
<circle cx="273.4" cy="1159.9" r="10.3" fill="#7b766f"/>
<circle cx="276.1" cy="1161.1" r="10.3" fill="#7b766f"/>
<circle cx="260.8" cy="1137.4" r="10.3" fill="#7b766f"/>
<circle cx="247.2" cy="1154.6" r="10.3" fill="#7b766f"/>
<circle cx="245.4" cy="1117.9" r="10.3" fill="#7b766f"/>
<circle cx="274.2" cy="1115.9" r="10.3" fill="#7b766f"/>
<circle cx="263" cy="1074.5" r="10.3" fill="#7b766f"/>
<circle cx="244.9" cy="1080.8" r="10.3" fill="#7b766f"/>
<circle cx="235.8" cy="1095.3" r="10.3" fill="#7b766f"/>
<circle cx="254" cy="1099" r="10.3" fill="#7b766f"/>
<circle cx="263" cy="1099" r="10.3" fill="#7b766f"/>
<circle cx="261.5" cy="1159.7" r="10.3" fill="#dbcfb6"/>
<circle cx="243.5" cy="1156.1" r="10.3" fill="#dbcfb6"/>
<circle cx="254.4" cy="1162.2" r="10.3" fill="#dbcfb6"/>
<circle cx="250.4" cy="1174.9" r="10.3" fill="#dbcfb6"/>
<circle cx="255.2" cy="1160.7" r="10.3" fill="#dbcfb6"/>
<circle cx="274.8" cy="1137.8" r="10.3" fill="#dbcfb6"/>
<circle cx="266.2" cy="1144.7" r="10.3" fill="#dbcfb6"/>
<circle cx="270" cy="1125.2" r="10.3" fill="#dbcfb6"/>
<circle cx="247.8" cy="1156.4" r="10.3" fill="#dbcfb6"/>
<circle cx="247.4" cy="1189.7" r="10.3" fill="#dbcfb6"/>
<circle cx="236.6" cy="1184.8" r="10.3" fill="#dbcfb6"/>
<circle cx="241.9" cy="1131.9" r="10.3" fill="#dbcfb6"/>
<circle cx="235.9" cy="1160.3" r="10.3" fill="#dbcfb6"/>
<circle cx="234.5" cy="1176.8" r="10.3" fill="#dbcfb6"/>
<circle cx="277.1" cy="1178.6" r="10.3" fill="#dbcfb6"/>
<circle cx="272.8" cy="1166.8" r="10.3" fill="#dbcfb6"/>
<circle cx="236.8" cy="1143.7" r="10.3" fill="#dbcfb6"/>
<circle cx="237.3" cy="1161.9" r="10.3" fill="#dbcfb6"/>
<circle cx="253.1" cy="1194.4" r="10.3" fill="#dbcfb6"/>
<circle cx="243.5" cy="1160.2" r="10.3" fill="#dbcfb6"/>
<circle cx="263.3" cy="1186.5" r="10.3" fill="#dbcfb6"/>
<circle cx="266.7" cy="1145.6" r="10.3" fill="#dbcfb6"/>
<circle cx="238.5" cy="1142.4" r="10.3" fill="#dbcfb6"/>
<circle cx="270.8" cy="1186.6" r="10.3" fill="#dbcfb6"/>
<circle cx="249.8" cy="1168.1" r="10.3" fill="#dbcfb6"/>
<circle cx="266.2" cy="1133.8" r="10.3" fill="#dbcfb6"/>
<circle cx="244" cy="1155.5" r="10.3" fill="#dbcfb6"/>
<circle cx="239.9" cy="1145.2" r="10.3" fill="#dbcfb6"/>
<circle cx="247.7" cy="1139.5" r="10.3" fill="#dbcfb6"/>
<circle cx="250.8" cy="1179.4" r="10.3" fill="#dbcfb6"/>
<circle cx="243.4" cy="1155.7" r="10.3" fill="#6fa7d8"/>
<circle cx="269.4" cy="1187.8" r="10.3" fill="#6fa7d8"/>
<circle cx="237.6" cy="1231.6" r="10.3" fill="#6fa7d8"/>
<circle cx="270.8" cy="1233.5" r="10.3" fill="#6fa7d8"/>
<circle cx="274.1" cy="1178.8" r="10.3" fill="#6fa7d8"/>
<circle cx="238.4" cy="1165.5" r="10.3" fill="#6fa7d8"/>
<circle cx="241.5" cy="1181" r="10.3" fill="#6fa7d8"/>
<circle cx="274.9" cy="1152.7" r="10.3" fill="#6fa7d8"/>
<circle cx="249.8" cy="1192.1" r="10.3" fill="#6fa7d8"/>
<circle cx="244.7" cy="1167.6" r="10.3" fill="#6fa7d8"/>
<circle cx="268" cy="1207.4" r="10.3" fill="#6fa7d8"/>
<circle cx="259.8" cy="1174.9" r="10.3" fill="#6fa7d8"/>
<circle cx="260.9" cy="1190.5" r="10.3" fill="#6fa7d8"/>
<circle cx="239.4" cy="1181.4" r="10.3" fill="#6fa7d8"/>
<circle cx="242.2" cy="1162.1" r="10.3" fill="#6fa7d8"/>
<circle cx="262.3" cy="1187.4" r="10.3" fill="#6fa7d8"/>
<circle cx="242.2" cy="1151.5" r="10.3" fill="#6fa7d8"/>
<circle cx="263.5" cy="1163.4" r="10.3" fill="#6fa7d8"/>
<circle cx="241.3" cy="1184.7" r="10.3" fill="#6fa7d8"/>
<circle cx="268.8" cy="1193" r="10.3" fill="#6fa7d8"/>
<circle cx="257.7" cy="1170.3" r="10.3" fill="#6fa7d8"/>
<circle cx="250.8" cy="1175.4" r="10.3" fill="#6fa7d8"/>
<circle cx="257.8" cy="1181.7" r="10.3" fill="#6fa7d8"/>
<circle cx="240.4" cy="1193.6" r="10.3" fill="#6fa7d8"/>
<circle cx="264.3" cy="1195" r="10.3" fill="#6fa7d8"/>
<circle cx="246.8" cy="1204.1" r="10.3" fill="#6fa7d8"/>
<circle cx="275.9" cy="1175.1" r="10.3" fill="#6fa7d8"/>
<circle cx="249.1" cy="1199.1" r="10.3" fill="#6fa7d8"/>
<circle cx="251.7" cy="1155.5" r="10.3" fill="#6fa7d8"/>
<circle cx="265.8" cy="1197.6" r="10.3" fill="#6fa7d8"/>
<circle cx="242.2" cy="1173.5" r="10.3" fill="#6fa7d8"/>
<circle cx="252.1" cy="1184.3" r="10.3" fill="#6fa7d8"/>
<circle cx="272.7" cy="1175.1" r="10.3" fill="#6fa7d8"/>
<circle cx="253.7" cy="1210.2" r="10.3" fill="#6fa7d8"/>
<circle cx="257.8" cy="1184" r="10.3" fill="#6fa7d8"/>
<circle cx="261.8" cy="1182.6" r="10.3" fill="#6fa7d8"/>
<circle cx="261" cy="1177" r="10.3" fill="#6fa7d8"/>
<circle cx="249.7" cy="1192.4" r="10.3" fill="#6fa7d8"/>
<circle cx="245.7" cy="1200.9" r="10.3" fill="#6fa7d8"/>
<circle cx="256.5" cy="1186.8" r="10.3" fill="#6fa7d8"/>
<circle cx="228.6" cy="1250.3" r="10.3" fill="#6fa7d8"/>
<circle cx="255.1" cy="1155.7" r="10.3" fill="#2f6ca4"/>
<circle cx="269.2" cy="1169.5" r="10.3" fill="#2f6ca4"/>
<circle cx="238.7" cy="1150.9" r="10.3" fill="#2f6ca4"/>
<circle cx="275.4" cy="1167.8" r="10.3" fill="#2f6ca4"/>
<circle cx="235.4" cy="1140.5" r="10.3" fill="#2f6ca4"/>
<circle cx="274.7" cy="1168.6" r="10.3" fill="#2f6ca4"/>
<circle cx="260.9" cy="1200.4" r="10.3" fill="#2f6ca4"/>
<circle cx="268.4" cy="1159.1" r="10.3" fill="#2f6ca4"/>
<circle cx="243" cy="1176.2" r="10.3" fill="#2f6ca4"/>
<circle cx="270.3" cy="1199.2" r="10.3" fill="#2f6ca4"/>
<circle cx="241.2" cy="1141.4" r="10.3" fill="#2f6ca4"/>
<circle cx="256.3" cy="1160.5" r="10.3" fill="#2f6ca4"/>
<circle cx="250.3" cy="1143.6" r="10.3" fill="#2f6ca4"/>
<circle cx="265.6" cy="1153.3" r="10.3" fill="#2f6ca4"/>
<circle cx="273.4" cy="1153.5" r="10.3" fill="#2f6ca4"/>
<circle cx="267.1" cy="1138.1" r="10.3" fill="#2f6ca4"/>
<circle cx="234.7" cy="1157.8" r="10.3" fill="#2f6ca4"/>
<circle cx="260" cy="1159.2" r="10.3" fill="#2f6ca4"/>
<circle cx="257.8" cy="1174" r="10.3" fill="#2f6ca4"/>
<circle cx="251.9" cy="1177.7" r="10.3" fill="#2f6ca4"/>
<circle cx="259.2" cy="1178" r="10.3" fill="#2f6ca4"/>
<circle cx="253.1" cy="1193" r="10.3" fill="#2f6ca4"/>
<circle cx="252.7" cy="1150.7" r="10.3" fill="#2f6ca4"/>
<circle cx="255" cy="1135.3" r="10.3" fill="#2f6ca4"/>
<circle cx="243.6" cy="1160.5" r="10.3" fill="#2f6ca4"/>
<circle cx="253.6" cy="1161.7" r="10.3" fill="#2f6ca4"/>
<circle cx="241.1" cy="1202.2" r="10.3" fill="#2f6ca4"/>
<circle cx="238.8" cy="1175" r="10.3" fill="#2f6ca4"/>
<circle cx="252.4" cy="1163.1" r="10.3" fill="#2f6ca4"/>
<circle cx="256" cy="1145.4" r="10.3" fill="#2f6ca4"/>
<circle cx="234.8" cy="1152.2" r="10.3" fill="#2f6ca4"/>
<circle cx="266" cy="1170.7" r="10.3" fill="#2f6ca4"/>
<circle cx="268" cy="1171.6" r="10.3" fill="#2f6ca4"/>
<circle cx="255.7" cy="1172" r="10.3" fill="#2f6ca4"/>
<circle cx="250" cy="1165.4" r="10.3" fill="#2f6ca4"/>
<circle cx="271.6" cy="1153.8" r="10.3" fill="#2f6ca4"/>
<circle cx="277.8" cy="1168.4" r="10.3" fill="#2f6ca4"/>
<circle cx="241.7" cy="1169.3" r="10.3" fill="#2f6ca4"/>
<circle cx="277.2" cy="1204.1" r="10.3" fill="#2f6ca4"/>
<circle cx="274.2" cy="1162.1" r="10.3" fill="#2f6ca4"/>
<circle cx="274.9" cy="1145.6" r="10.3" fill="#2f6ca4"/>
<circle cx="267" cy="1146.5" r="10.3" fill="#2f6ca4"/>
<circle cx="240.1" cy="1156.9" r="10.3" fill="#2f6ca4"/>
<circle cx="269.7" cy="1151.1" r="10.3" fill="#2f6ca4"/>
<circle cx="239.5" cy="1175.3" r="10.3" fill="#2f6ca4"/>
<circle cx="242.4" cy="1213.2" r="10.3" fill="#2f6ca4"/>
<circle cx="244.8" cy="1165.5" r="10.3" fill="#2f6ca4"/>
<circle cx="234.7" cy="1183.7" r="10.3" fill="#2f6ca4"/>
<circle cx="241.2" cy="1165.6" r="10.3" fill="#2f6ca4"/>
<circle cx="263.6" cy="1138.1" r="10.3" fill="#2f6ca4"/>
<circle cx="268.3" cy="1228.2" r="10.3" fill="#ffaa00"/>
<circle cx="238.2" cy="1241.7" r="10.3" fill="#ffaa00"/>
<circle cx="249.2" cy="1258" r="10.3" fill="#ffaa00"/>
<circle cx="272.3" cy="1240.2" r="10.3" fill="#ffaa00"/>
<circle cx="272.7" cy="1255.5" r="10.3" fill="#ffaa00"/>
<circle cx="237.7" cy="1243" r="10.3" fill="#ffaa00"/>
<circle cx="250.7" cy="1213.4" r="10.3" fill="#ffaa00"/>
<circle cx="268.9" cy="1236.8" r="10.3" fill="#ffaa00"/>
<circle cx="259" cy="1240.3" r="10.3" fill="#ffaa00"/>
<circle cx="252.9" cy="1253.1" r="10.3" fill="#ffaa00"/>
<circle cx="241" cy="1215" r="10.3" fill="#ffaa00"/>
<circle cx="269.9" cy="1236" r="10.3" fill="#ffaa00"/>
<circle cx="244.4" cy="1240.8" r="10.3" fill="#ffaa00"/>
<circle cx="247.1" cy="1256" r="10.3" fill="#ffaa00"/>
<circle cx="233.1" cy="1247.9" r="10.3" fill="#ffaa00"/>
<circle cx="260.7" cy="1227" r="10.3" fill="#ffaa00"/>
<circle cx="252.5" cy="1233.9" r="10.3" fill="#ffaa00"/>
<circle cx="238.9" cy="1238.5" r="10.3" fill="#ffaa00"/>
<circle cx="234" cy="1232.5" r="10.3" fill="#ffaa00"/>
<circle cx="233.1" cy="1212.9" r="10.3" fill="#ffaa00"/>
<circle cx="249.1" cy="1240.5" r="10.3" fill="#ffaa00"/>
<circle cx="243.1" cy="1229.9" r="10.3" fill="#ffaa00"/>
<circle cx="242.2" cy="1254.2" r="10.3" fill="#ffaa00"/>
<circle cx="261.1" cy="1246.5" r="10.3" fill="#ffaa00"/>
<circle cx="275.1" cy="1244.3" r="10.3" fill="#ffaa00"/>
<circle cx="244" cy="1234.5" r="10.3" fill="#ffaa00"/>
<circle cx="261.7" cy="1231.6" r="10.3" fill="#ffaa00"/>
<circle cx="272.2" cy="1230.1" r="10.3" fill="#ffaa00"/>
<circle cx="244.9" cy="1232.6" r="10.3" fill="#ffaa00"/>
<circle cx="233.5" cy="1251.6" r="10.3" fill="#ffaa00"/>
<circle cx="248.8" cy="1248.4" r="10.3" fill="#ffaa00"/>
<circle cx="262.1" cy="1252" r="10.3" fill="#ffaa00"/>
<circle cx="266" cy="1222.9" r="10.3" fill="#ffaa00"/>
<circle cx="235" cy="1235.5" r="10.3" fill="#ffaa00"/>
<circle cx="243.7" cy="1251.8" r="10.3" fill="#ffaa00"/>
<circle cx="235.6" cy="1239" r="10.3" fill="#ffaa00"/>
<circle cx="257.8" cy="1235.4" r="10.3" fill="#ffaa00"/>
<circle cx="275.3" cy="1238.3" r="10.3" fill="#ffaa00"/>
<circle cx="260.4" cy="1229.2" r="10.3" fill="#ffaa00"/>
<circle cx="255.8" cy="1227.6" r="10.3" fill="#ffaa00"/>
<circle cx="240.9" cy="1254.2" r="10.3" fill="#ffaa00"/>
<circle cx="246.9" cy="1258.5" r="10.3" fill="#ffaa00"/>
<circle cx="273" cy="1237.4" r="10.3" fill="#ffaa00"/>
<circle cx="268.2" cy="1231.1" r="10.3" fill="#ffaa00"/>
<circle cx="271" cy="1236.2" r="10.3" fill="#ffaa00"/>
<circle cx="266.5" cy="1237.6" r="10.3" fill="#ffaa00"/>
<circle cx="253.4" cy="1261.4" r="10.3" fill="#ffaa00"/>
<circle cx="243.2" cy="1230.2" r="10.3" fill="#ffaa00"/>
<circle cx="234.7" cy="1226.7" r="10.3" fill="#ffaa00"/>
<circle cx="248.1" cy="1228.7" r="10.3" fill="#ffaa00"/>
<circle cx="271" cy="1235.9" r="10.3" fill="#ffaa00"/>
<circle cx="265" cy="1260.4" r="10.3" fill="#ffaa00"/>
<circle cx="252.6" cy="1237.9" r="10.3" fill="#ffaa00"/>
<circle cx="268.5" cy="1215.7" r="10.3" fill="#ffaa00"/>
<circle cx="261.9" cy="1248.2" r="10.3" fill="#ffaa00"/>
<circle cx="276.4" cy="1237.7" r="10.3" fill="#ffaa00"/>
<circle cx="233.7" cy="1229.1" r="10.3" fill="#ffaa00"/>
<circle cx="266.5" cy="1236.6" r="10.3" fill="#ffaa00"/>
<circle cx="275.5" cy="1224.2" r="10.3" fill="#ffaa00"/>
<circle cx="272.6" cy="1236.2" r="10.3" fill="#ffaa00"/>
<circle cx="247.8" cy="1250" r="10.3" fill="#ffaa00"/>
<circle cx="261.4" cy="1233.5" r="10.3" fill="#ffaa00"/>
<circle cx="277.1" cy="1244.1" r="10.3" fill="#ffaa00"/>
<circle cx="254.1" cy="1257.9" r="10.3" fill="#ffaa00"/>
<circle cx="271.6" cy="1222.7" r="10.3" fill="#ffaa00"/>
<circle cx="252.7" cy="1256.6" r="10.3" fill="#ffaa00"/>
<circle cx="246.8" cy="1239.1" r="10.3" fill="#ffaa00"/>
<circle cx="242.5" cy="1256.3" r="10.3" fill="#ffaa00"/>
<circle cx="274" cy="1240.4" r="10.3" fill="#ffaa00"/>
<circle cx="239.5" cy="1240.3" r="10.3" fill="#ffaa00"/>
<circle cx="274.8" cy="1228.4" r="10.3" fill="#ffaa00"/>
<circle cx="248.5" cy="1234.6" r="10.3" fill="#ffaa00"/>
<circle cx="234.9" cy="1233.4" r="10.3" fill="#ffaa00"/>
<circle cx="264.2" cy="1232.8" r="10.3" fill="#ffaa00"/>
<circle cx="266.2" cy="1252.2" r="10.3" fill="#ffaa00"/>
<circle cx="234" cy="1268.4" r="10.3" fill="#ffaa00"/>
<circle cx="236" cy="1211.8" r="10.3" fill="#248c24"/>
<circle cx="269.8" cy="1202.7" r="10.3" fill="#248c24"/>
<circle cx="269.9" cy="1195.3" r="10.3" fill="#248c24"/>
<circle cx="272.1" cy="1174.7" r="10.3" fill="#248c24"/>
<circle cx="274.1" cy="1188.1" r="10.3" fill="#248c24"/>
<circle cx="242.3" cy="1170.5" r="10.3" fill="#248c24"/>
<circle cx="238" cy="1186.3" r="10.3" fill="#248c24"/>
<circle cx="269.5" cy="1133.2" r="10.3" fill="#248c24"/>
<circle cx="261.5" cy="1171.3" r="10.3" fill="#248c24"/>
<circle cx="245.9" cy="1165.5" r="10.3" fill="#248c24"/>
<circle cx="237.5" cy="1214.6" r="10.3" fill="#248c24"/>
<circle cx="242.2" cy="1146.6" r="10.3" fill="#248c24"/>
<circle cx="247.4" cy="1157" r="10.3" fill="#248c24"/>
<circle cx="244.6" cy="1186.8" r="10.3" fill="#248c24"/>
<circle cx="245.7" cy="1179.6" r="10.3" fill="#248c24"/>
<circle cx="247.4" cy="1187.3" r="10.3" fill="#248c24"/>
<circle cx="276.4" cy="1206.2" r="10.3" fill="#248c24"/>
<circle cx="260.8" cy="1232.4" r="10.3" fill="#248c24"/>
<circle cx="234.4" cy="1183.3" r="10.3" fill="#248c24"/>
<circle cx="267.8" cy="1205.7" r="10.3" fill="#248c24"/>
<circle cx="248.6" cy="1167.7" r="10.3" fill="#248c24"/>
<circle cx="242.7" cy="1191.1" r="10.3" fill="#248c24"/>
<circle cx="271.8" cy="1212.8" r="10.3" fill="#248c24"/>
<circle cx="240.7" cy="1141.9" r="10.3" fill="#248c24"/>
<circle cx="233.1" cy="1156.2" r="10.3" fill="#248c24"/>
<circle cx="277" cy="1169.1" r="10.3" fill="#248c24"/>
<circle cx="233.2" cy="1140.3" r="10.3" fill="#248c24"/>
<circle cx="268.9" cy="1212" r="10.3" fill="#248c24"/>
<circle cx="241.3" cy="1180.3" r="10.3" fill="#248c24"/>
<circle cx="270.4" cy="1205.9" r="10.3" fill="#248c24"/>
<circle cx="244.7" cy="1181.3" r="10.3" fill="#248c24"/>
<circle cx="242.7" cy="1162.3" r="10.3" fill="#248c24"/>
<circle cx="264.5" cy="1189.3" r="10.3" fill="#248c24"/>
<circle cx="261.6" cy="1194.5" r="10.3" fill="#248c24"/>
<circle cx="236.6" cy="1181.9" r="10.3" fill="#248c24"/>
<circle cx="268.4" cy="1172.7" r="10.3" fill="#248c24"/>
<circle cx="261.3" cy="1220.8" r="10.3" fill="#248c24"/>
<circle cx="250.8" cy="1198.2" r="10.3" fill="#248c24"/>
<circle cx="273.1" cy="1161.5" r="10.3" fill="#248c24"/>
<circle cx="234.1" cy="1135.7" r="10.3" fill="#248c24"/>
<circle cx="242.3" cy="1154.2" r="10.3" fill="#248c24"/>
<circle cx="255.6" cy="1186.7" r="10.3" fill="#248c24"/>
<circle cx="250.1" cy="1126.7" r="10.3" fill="#248c24"/>
<circle cx="253.7" cy="1168" r="10.3" fill="#248c24"/>
<circle cx="256.9" cy="1194.6" r="10.3" fill="#248c24"/>
<circle cx="262.1" cy="1180.9" r="10.3" fill="#248c24"/>
<circle cx="248.7" cy="1225.2" r="10.3" fill="#248c24"/>
<circle cx="270.9" cy="1189" r="10.3" fill="#248c24"/>
<circle cx="262.8" cy="1168.8" r="10.3" fill="#248c24"/>
<circle cx="252.7" cy="1182.9" r="10.3" fill="#248c24"/>
<circle cx="267.8" cy="1197.8" r="10.3" fill="#248c24"/>
<circle cx="253.8" cy="1193.8" r="10.3" fill="#248c24"/>
<circle cx="272.8" cy="1188.5" r="10.3" fill="#248c24"/>
<circle cx="246.6" cy="1180.8" r="10.3" fill="#248c24"/>
<circle cx="264.6" cy="1165.3" r="10.3" fill="#248c24"/>
<circle cx="240" cy="1173.8" r="10.3" fill="#248c24"/>
<circle cx="244.1" cy="1194.5" r="10.3" fill="#248c24"/>
<circle cx="240.2" cy="1196.6" r="10.3" fill="#248c24"/>
<circle cx="247.8" cy="1154.3" r="10.3" fill="#248c24"/>
<circle cx="265.8" cy="1155.9" r="10.3" fill="#248c24"/>
<circle cx="237.6" cy="1129" r="10.3" fill="#248c24"/>
<circle cx="250.3" cy="1142.6" r="10.3" fill="#248c24"/>
<circle cx="266" cy="1136.4" r="10.3" fill="#248c24"/>
<circle cx="252.6" cy="1186.7" r="10.3" fill="#248c24"/>
<circle cx="237.8" cy="1169.9" r="10.3" fill="#248c24"/>
<circle cx="242.3" cy="1147.4" r="10.3" fill="#248c24"/>
<circle cx="251" cy="1187.2" r="10.3" fill="#248c24"/>
<circle cx="268.6" cy="1177.7" r="10.3" fill="#248c24"/>
<circle cx="261.5" cy="1192.6" r="10.3" fill="#248c24"/>
<circle cx="253.8" cy="1210.6" r="10.3" fill="#248c24"/>
<circle cx="251.2" cy="1160" r="10.3" fill="#248c24"/>
<circle cx="266.3" cy="1154.8" r="10.3" fill="#248c24"/>
<circle cx="258.8" cy="1159.1" r="10.3" fill="#248c24"/>
<circle cx="266.7" cy="1197" r="10.3" fill="#248c24"/>
<circle cx="265.5" cy="1198.4" r="10.3" fill="#248c24"/>
<circle cx="272.6" cy="1173.2" r="10.3" fill="#248c24"/>
<circle cx="271.4" cy="1176" r="10.3" fill="#248c24"/>
<circle cx="263.6" cy="1221.7" r="10.3" fill="#248c24"/>
<circle cx="247.1" cy="1199.9" r="10.3" fill="#248c24"/>
<circle cx="261.3" cy="1204.1" r="10.3" fill="#248c24"/>
<circle cx="268.2" cy="1160.1" r="10.3" fill="#248c24"/>
<circle cx="265.1" cy="1166.5" r="10.3" fill="#248c24"/>
<circle cx="252.1" cy="1195.5" r="10.3" fill="#248c24"/>
<circle cx="253.5" cy="1196.3" r="10.3" fill="#248c24"/>
<circle cx="263.4" cy="1201.2" r="10.3" fill="#248c24"/>
<circle cx="274.9" cy="1200.4" r="10.3" fill="#248c24"/>
<circle cx="268" cy="1166.7" r="10.3" fill="#248c24"/>
<circle cx="250.5" cy="1147.7" r="10.3" fill="#248c24"/>
<circle cx="234.7" cy="1177.6" r="10.3" fill="#248c24"/>
<circle cx="268.2" cy="1196.8" r="10.3" fill="#248c24"/>
<circle cx="275.3" cy="1186.2" r="10.3" fill="#248c24"/>
<circle cx="258.9" cy="1193.9" r="10.3" fill="#248c24"/>
<circle cx="257.3" cy="1183.5" r="10.3" fill="#248c24"/>
<circle cx="261.8" cy="1188.4" r="10.3" fill="#248c24"/>
<circle cx="270.3" cy="1212.3" r="10.3" fill="#248c24"/>
<circle cx="275.7" cy="1208.3" r="10.3" fill="#248c24"/>
<circle cx="242.5" cy="1185.7" r="10.3" fill="#248c24"/>
<circle cx="267.3" cy="1192.4" r="10.3" fill="#248c24"/>
<circle cx="238.5" cy="1205.7" r="10.3" fill="#248c24"/>
<circle cx="235.5" cy="1158" r="10.3" fill="#248c24"/>
<circle cx="245.3" cy="1184.4" r="10.3" fill="#248c24"/>
<circle cx="251.8" cy="1185.5" r="10.3" fill="#248c24"/>
<circle cx="251.9" cy="1179.6" r="10.3" fill="#248c24"/>
<circle cx="244.9" cy="1189.7" r="10.3" fill="#248c24"/>
<circle cx="243.1" cy="1204.9" r="10.3" fill="#248c24"/>
<circle cx="256.7" cy="1185.3" r="10.3" fill="#248c24"/>
<circle cx="250.6" cy="1173.1" r="10.3" fill="#248c24"/>
<circle cx="242.5" cy="1136.5" r="10.3" fill="#248c24"/>
<circle cx="269.4" cy="1151.3" r="10.3" fill="#248c24"/>
<circle cx="261.5" cy="1149.6" r="10.3" fill="#248c24"/>
<circle cx="357" cy="1136.1" r="10.3" fill="#d90000"/>
<circle cx="390.2" cy="1103.6" r="10.3" fill="#d90000"/>
<circle cx="383.6" cy="1127.5" r="10.3" fill="#d90000"/>
<circle cx="383.5" cy="1084.5" r="10.3" fill="#d90000"/>
<circle cx="371.5" cy="1126.5" r="10.3" fill="#d90000"/>
<circle cx="352.4" cy="1105.4" r="10.3" fill="#d90000"/>
<circle cx="385.1" cy="1098.8" r="10.3" fill="#d90000"/>
<circle cx="358.8" cy="1126.4" r="10.3" fill="#d90000"/>
<circle cx="366" cy="1120.7" r="10.3" fill="#d90000"/>
<circle cx="355.2" cy="1097.4" r="10.3" fill="#d90000"/>
<circle cx="359.5" cy="1074.5" r="10.3" fill="#d90000"/>
<circle cx="357.8" cy="1108.4" r="10.3" fill="#d90000"/>
<circle cx="366.1" cy="1116.8" r="10.3" fill="#d90000"/>
<circle cx="375.5" cy="1085.7" r="10.3" fill="#d90000"/>
<circle cx="388.6" cy="1120" r="10.3" fill="#d90000"/>
<circle cx="385.3" cy="1126.1" r="10.3" fill="#d90000"/>
<circle cx="387.6" cy="1071.2" r="10.3" fill="#d90000"/>
<circle cx="382.1" cy="1094.8" r="10.3" fill="#d90000"/>
<circle cx="375.3" cy="1083.2" r="10.3" fill="#d90000"/>
<circle cx="347.5" cy="1077.6" r="10.3" fill="#d90000"/>
<circle cx="376.3" cy="1105.1" r="10.3" fill="#d90000"/>
<circle cx="353.2" cy="1108.9" r="10.3" fill="#d90000"/>
<circle cx="357.3" cy="1099" r="10.3" fill="#d90000"/>
<circle cx="353.7" cy="1105.7" r="10.3" fill="#d90000"/>
<circle cx="387.5" cy="1128.5" r="10.3" fill="#d90000"/>
<circle cx="386.9" cy="1105.6" r="10.3" fill="#d90000"/>
<circle cx="374.2" cy="1121.5" r="10.3" fill="#d90000"/>
<circle cx="387" cy="1102.7" r="10.3" fill="#d90000"/>
<circle cx="382.3" cy="1140.3" r="10.3" fill="#d90000"/>
<circle cx="378" cy="1101.4" r="10.3" fill="#d90000"/>
<circle cx="370.7" cy="1121" r="10.3" fill="#d90000"/>
<circle cx="386.5" cy="1110.1" r="10.3" fill="#d90000"/>
<circle cx="371.8" cy="1132" r="10.3" fill="#d90000"/>
<circle cx="353.1" cy="1110.4" r="10.3" fill="#d90000"/>
<circle cx="369" cy="1093.3" r="10.3" fill="#d90000"/>
<circle cx="353.3" cy="1086.4" r="10.3" fill="#d90000"/>
<circle cx="368.9" cy="1100.3" r="10.3" fill="#d90000"/>
<circle cx="385.6" cy="1135.7" r="10.3" fill="#d90000"/>
<circle cx="347.1" cy="1108.6" r="10.3" fill="#d90000"/>
<circle cx="372.1" cy="1095.9" r="10.3" fill="#d90000"/>
<circle cx="376.7" cy="1129.3" r="10.3" fill="#d90000"/>
<circle cx="365.6" cy="1097.7" r="10.3" fill="#d90000"/>
<circle cx="390" cy="1126.5" r="10.3" fill="#d90000"/>
<circle cx="375.4" cy="1081.7" r="10.3" fill="#d90000"/>
<circle cx="348.1" cy="1095" r="10.3" fill="#d90000"/>
<circle cx="388.7" cy="1134.1" r="10.3" fill="#d90000"/>
<circle cx="361.7" cy="1129.7" r="10.3" fill="#d90000"/>
<circle cx="368.6" cy="1083.4" r="10.3" fill="#d90000"/>
<circle cx="387.2" cy="1111.9" r="10.3" fill="#d90000"/>
<circle cx="374.9" cy="1075.5" r="10.3" fill="#d90000"/>
<circle cx="362" cy="1101.7" r="10.3" fill="#d90000"/>
<circle cx="368.2" cy="1095.7" r="10.3" fill="#d90000"/>
<circle cx="370.4" cy="1124.6" r="10.3" fill="#d90000"/>
<circle cx="366.4" cy="1107" r="10.3" fill="#d90000"/>
<circle cx="365.8" cy="1123.6" r="10.3" fill="#d90000"/>
<circle cx="358.9" cy="997.3" r="10.3" fill="#d90000"/>
<circle cx="385.8" cy="1010.3" r="10.3" fill="#d90000"/>
<circle cx="371.5" cy="1040.4" r="10.3" fill="#d90000"/>
<circle cx="360" cy="1177" r="10.3" fill="#7b766f"/>
<circle cx="384" cy="1152.5" r="10.3" fill="#7b766f"/>
<circle cx="359" cy="1160" r="10.3" fill="#7b766f"/>
<circle cx="369.6" cy="1124.6" r="10.3" fill="#7b766f"/>
<circle cx="382.4" cy="1108.1" r="10.3" fill="#7b766f"/>
<circle cx="361.7" cy="1144" r="10.3" fill="#7b766f"/>
<circle cx="373.2" cy="1146.5" r="10.3" fill="#7b766f"/>
<circle cx="375.4" cy="1122.5" r="10.3" fill="#7b766f"/>
<circle cx="379.3" cy="1137.7" r="10.3" fill="#7b766f"/>
<circle cx="386.7" cy="1145.1" r="10.3" fill="#7b766f"/>
<circle cx="360.3" cy="1145.6" r="10.3" fill="#7b766f"/>
<circle cx="347.1" cy="1141" r="10.3" fill="#7b766f"/>
<circle cx="374.2" cy="1121.2" r="10.3" fill="#7b766f"/>
<circle cx="387.7" cy="1159.8" r="10.3" fill="#7b766f"/>
<circle cx="374.3" cy="1170.8" r="10.3" fill="#7b766f"/>
<circle cx="378.1" cy="1161.5" r="10.3" fill="#7b766f"/>
<circle cx="373.6" cy="1159.3" r="10.3" fill="#7b766f"/>
<circle cx="376.8" cy="1145.3" r="10.3" fill="#7b766f"/>
<circle cx="367.4" cy="1152.5" r="10.3" fill="#7b766f"/>
<circle cx="355" cy="1138.3" r="10.3" fill="#7b766f"/>
<circle cx="348.5" cy="1149" r="10.3" fill="#7b766f"/>
<circle cx="376.3" cy="1131.7" r="10.3" fill="#7b766f"/>
<circle cx="363.4" cy="1186.1" r="10.3" fill="#7b766f"/>
<circle cx="372.1" cy="1122.4" r="10.3" fill="#7b766f"/>
<circle cx="358.4" cy="1173" r="10.3" fill="#7b766f"/>
<circle cx="361.1" cy="1146.3" r="10.3" fill="#7b766f"/>
<circle cx="366.2" cy="1117.7" r="10.3" fill="#7b766f"/>
<circle cx="349.3" cy="1170.6" r="10.3" fill="#7b766f"/>
<circle cx="372.3" cy="1178" r="10.3" fill="#7b766f"/>
<circle cx="383.3" cy="1128.6" r="10.3" fill="#7b766f"/>
<circle cx="372.7" cy="1136.4" r="10.3" fill="#7b766f"/>
<circle cx="347.4" cy="1118.7" r="10.3" fill="#7b766f"/>
<circle cx="364.2" cy="1150.5" r="10.3" fill="#7b766f"/>
<circle cx="390.9" cy="1181.5" r="10.3" fill="#7b766f"/>
<circle cx="368.2" cy="1166.7" r="10.3" fill="#7b766f"/>
<circle cx="375.8" cy="1147.6" r="10.3" fill="#7b766f"/>
<circle cx="356.4" cy="1133.8" r="10.3" fill="#7b766f"/>
<circle cx="347" cy="1136.9" r="10.3" fill="#7b766f"/>
<circle cx="377.6" cy="1136" r="10.3" fill="#7b766f"/>
<circle cx="352.6" cy="1102.1" r="10.3" fill="#7b766f"/>
<circle cx="347.6" cy="1116.2" r="10.3" fill="#7b766f"/>
<circle cx="379.8" cy="1142.1" r="10.3" fill="#7b766f"/>
<circle cx="355.2" cy="1154.8" r="10.3" fill="#7b766f"/>
<circle cx="378.9" cy="1103.8" r="10.3" fill="#7b766f"/>
<circle cx="385.3" cy="1127.6" r="10.3" fill="#7b766f"/>
<circle cx="375.1" cy="1255.9" r="10.3" fill="#dbcfb6"/>
<circle cx="378.7" cy="1261.1" r="10.3" fill="#dbcfb6"/>
<circle cx="358.2" cy="1247.1" r="10.3" fill="#dbcfb6"/>
<circle cx="347.3" cy="1233.2" r="10.3" fill="#dbcfb6"/>
<circle cx="347.5" cy="1260.2" r="10.3" fill="#dbcfb6"/>
<circle cx="350.4" cy="1270.5" r="10.3" fill="#dbcfb6"/>
<circle cx="360.8" cy="1276.4" r="10.3" fill="#dbcfb6"/>
<circle cx="385.5" cy="1256.3" r="10.3" fill="#dbcfb6"/>
<circle cx="368.7" cy="1263.7" r="10.3" fill="#dbcfb6"/>
<circle cx="372.7" cy="1242.5" r="10.3" fill="#dbcfb6"/>
<circle cx="366.5" cy="1250.2" r="10.3" fill="#dbcfb6"/>
<circle cx="382.7" cy="1258.7" r="10.3" fill="#dbcfb6"/>
<circle cx="363.1" cy="1262.3" r="10.3" fill="#dbcfb6"/>
<circle cx="365.6" cy="1267.5" r="10.3" fill="#dbcfb6"/>
<circle cx="364.2" cy="1271" r="10.3" fill="#dbcfb6"/>
<circle cx="382.1" cy="1247.5" r="10.3" fill="#dbcfb6"/>
<circle cx="349.5" cy="1266" r="10.3" fill="#dbcfb6"/>
<circle cx="390.6" cy="1260" r="10.3" fill="#dbcfb6"/>
<circle cx="361.7" cy="1262.9" r="10.3" fill="#dbcfb6"/>
<circle cx="360.7" cy="1245.8" r="10.3" fill="#dbcfb6"/>
<circle cx="366.1" cy="1272" r="10.3" fill="#dbcfb6"/>
<circle cx="377.6" cy="1244.7" r="10.3" fill="#dbcfb6"/>
<circle cx="373.9" cy="1264.1" r="10.3" fill="#dbcfb6"/>
<circle cx="359.5" cy="1234.7" r="10.3" fill="#dbcfb6"/>
<circle cx="346.9" cy="1270.8" r="10.3" fill="#dbcfb6"/>
<circle cx="373.2" cy="1256.4" r="10.3" fill="#dbcfb6"/>
<circle cx="383.5" cy="1240.4" r="10.3" fill="#dbcfb6"/>
<circle cx="384.3" cy="1252" r="10.3" fill="#dbcfb6"/>
<circle cx="383.3" cy="1257.9" r="10.3" fill="#dbcfb6"/>
<circle cx="359.1" cy="1242.8" r="10.3" fill="#dbcfb6"/>
<circle cx="385.1" cy="1268.9" r="10.3" fill="#dbcfb6"/>
<circle cx="387.9" cy="1247.6" r="10.3" fill="#dbcfb6"/>
<circle cx="362.4" cy="1275.4" r="10.3" fill="#dbcfb6"/>
<circle cx="382.7" cy="1239.7" r="10.3" fill="#dbcfb6"/>
<circle cx="355.8" cy="1246" r="10.3" fill="#dbcfb6"/>
<circle cx="357.3" cy="1255.2" r="10.3" fill="#dbcfb6"/>
<circle cx="367.7" cy="1271.9" r="10.3" fill="#dbcfb6"/>
<circle cx="356.1" cy="1268.5" r="10.3" fill="#dbcfb6"/>
<circle cx="382.4" cy="1255.9" r="10.3" fill="#dbcfb6"/>
<circle cx="367.5" cy="1231.5" r="10.3" fill="#dbcfb6"/>
<circle cx="381.5" cy="1233.3" r="10.3" fill="#dbcfb6"/>
<circle cx="357.3" cy="1241.7" r="10.3" fill="#dbcfb6"/>
<circle cx="386.6" cy="1269.7" r="10.3" fill="#dbcfb6"/>
<circle cx="373.3" cy="1271.2" r="10.3" fill="#dbcfb6"/>
<circle cx="355.3" cy="1257.4" r="10.3" fill="#dbcfb6"/>
<circle cx="378.3" cy="1252" r="10.3" fill="#dbcfb6"/>
<circle cx="363.1" cy="1246.8" r="10.3" fill="#dbcfb6"/>
<circle cx="370.1" cy="1268.4" r="10.3" fill="#dbcfb6"/>
<circle cx="353.5" cy="1260.9" r="10.3" fill="#dbcfb6"/>
<circle cx="363.6" cy="1241.8" r="10.3" fill="#dbcfb6"/>
<circle cx="382.2" cy="1239.4" r="10.3" fill="#dbcfb6"/>
<circle cx="353.8" cy="1242.8" r="10.3" fill="#dbcfb6"/>
<circle cx="370.2" cy="1265.9" r="10.3" fill="#dbcfb6"/>
<circle cx="347.7" cy="1262.7" r="10.3" fill="#dbcfb6"/>
<circle cx="385.8" cy="1246.1" r="10.3" fill="#dbcfb6"/>
<circle cx="358.6" cy="1273.5" r="10.3" fill="#dbcfb6"/>
<circle cx="381.9" cy="1253.6" r="10.3" fill="#dbcfb6"/>
<circle cx="381.3" cy="1239.8" r="10.3" fill="#dbcfb6"/>
<circle cx="358.2" cy="1239.9" r="10.3" fill="#dbcfb6"/>
<circle cx="354.9" cy="1245.9" r="10.3" fill="#dbcfb6"/>
<circle cx="350.6" cy="1252.9" r="10.3" fill="#dbcfb6"/>
<circle cx="386" cy="1238" r="10.3" fill="#dbcfb6"/>
<circle cx="367.4" cy="1249.5" r="10.3" fill="#dbcfb6"/>
<circle cx="349.7" cy="1265.3" r="10.3" fill="#dbcfb6"/>
<circle cx="352.2" cy="1266.8" r="10.3" fill="#dbcfb6"/>
<circle cx="390" cy="1263.4" r="10.3" fill="#dbcfb6"/>
<circle cx="375.6" cy="1256" r="10.3" fill="#dbcfb6"/>
<circle cx="389.8" cy="1236.9" r="10.3" fill="#dbcfb6"/>
<circle cx="367" cy="1262" r="10.3" fill="#dbcfb6"/>
<circle cx="354" cy="1267.6" r="10.3" fill="#dbcfb6"/>
<circle cx="356.8" cy="1264.6" r="10.3" fill="#dbcfb6"/>
<circle cx="362.6" cy="1244.6" r="10.3" fill="#dbcfb6"/>
<circle cx="387.4" cy="1252.6" r="10.3" fill="#dbcfb6"/>
<circle cx="348.9" cy="1232.9" r="10.3" fill="#dbcfb6"/>
<circle cx="382.2" cy="1270.5" r="10.3" fill="#dbcfb6"/>
<circle cx="391.1" cy="1260.3" r="10.3" fill="#dbcfb6"/>
<circle cx="349.3" cy="1275" r="10.3" fill="#dbcfb6"/>
<circle cx="389.1" cy="1240.6" r="10.3" fill="#dbcfb6"/>
<circle cx="377.3" cy="1236.4" r="10.3" fill="#dbcfb6"/>
<circle cx="380.9" cy="1260.9" r="10.3" fill="#dbcfb6"/>
<circle cx="351.5" cy="1171.8" r="10.3" fill="#6fa7d8"/>
<circle cx="352.4" cy="1206.7" r="10.3" fill="#6fa7d8"/>
<circle cx="368.5" cy="1184.5" r="10.3" fill="#6fa7d8"/>
<circle cx="353.2" cy="1191.5" r="10.3" fill="#6fa7d8"/>
<circle cx="377.3" cy="1185.4" r="10.3" fill="#6fa7d8"/>
<circle cx="355.6" cy="1165.2" r="10.3" fill="#6fa7d8"/>
<circle cx="348.4" cy="1196.6" r="10.3" fill="#6fa7d8"/>
<circle cx="388.8" cy="1185.6" r="10.3" fill="#6fa7d8"/>
<circle cx="385.8" cy="1205.9" r="10.3" fill="#6fa7d8"/>
<circle cx="366.9" cy="1190.2" r="10.3" fill="#6fa7d8"/>
<circle cx="351.2" cy="1206.9" r="10.3" fill="#6fa7d8"/>
<circle cx="375.1" cy="1162" r="10.3" fill="#6fa7d8"/>
<circle cx="367.2" cy="1217.2" r="10.3" fill="#6fa7d8"/>
<circle cx="368.3" cy="1220.7" r="10.3" fill="#6fa7d8"/>
<circle cx="375.1" cy="1165.4" r="10.3" fill="#6fa7d8"/>
<circle cx="349.4" cy="1189.8" r="10.3" fill="#6fa7d8"/>
<circle cx="378.9" cy="1187.4" r="10.3" fill="#6fa7d8"/>
<circle cx="386" cy="1210.6" r="10.3" fill="#6fa7d8"/>
<circle cx="358.8" cy="1203.2" r="10.3" fill="#6fa7d8"/>
<circle cx="359" cy="1209.9" r="10.3" fill="#6fa7d8"/>
<circle cx="384.6" cy="1192.7" r="10.3" fill="#6fa7d8"/>
<circle cx="368.9" cy="1205.9" r="10.3" fill="#6fa7d8"/>
<circle cx="361.1" cy="1188" r="10.3" fill="#6fa7d8"/>
<circle cx="390.8" cy="1190.6" r="10.3" fill="#6fa7d8"/>
<circle cx="349.4" cy="1205.3" r="10.3" fill="#6fa7d8"/>
<circle cx="356.3" cy="1174" r="10.3" fill="#6fa7d8"/>
<circle cx="368.3" cy="1218.8" r="10.3" fill="#6fa7d8"/>
<circle cx="355.9" cy="1203" r="10.3" fill="#6fa7d8"/>
<circle cx="363.2" cy="1183.1" r="10.3" fill="#6fa7d8"/>
<circle cx="388.4" cy="1203.6" r="10.3" fill="#6fa7d8"/>
<circle cx="387.1" cy="1184.7" r="10.3" fill="#6fa7d8"/>
<circle cx="349.4" cy="1189" r="10.3" fill="#6fa7d8"/>
<circle cx="390.8" cy="1201.9" r="10.3" fill="#6fa7d8"/>
<circle cx="347.5" cy="1217" r="10.3" fill="#6fa7d8"/>
<circle cx="353.1" cy="1192.4" r="10.3" fill="#6fa7d8"/>
<circle cx="346.9" cy="1217.7" r="10.3" fill="#6fa7d8"/>
<circle cx="355.2" cy="1186.3" r="10.3" fill="#6fa7d8"/>
<circle cx="366.4" cy="1222.1" r="10.3" fill="#6fa7d8"/>
<circle cx="372.5" cy="1186.4" r="10.3" fill="#6fa7d8"/>
<circle cx="353" cy="1207.2" r="10.3" fill="#6fa7d8"/>
<circle cx="378.8" cy="1183.6" r="10.3" fill="#6fa7d8"/>
<circle cx="355.7" cy="1165.9" r="10.3" fill="#6fa7d8"/>
<circle cx="374.2" cy="1191.2" r="10.3" fill="#6fa7d8"/>
<circle cx="369.1" cy="1194.9" r="10.3" fill="#6fa7d8"/>
<circle cx="374.4" cy="1201.5" r="10.3" fill="#6fa7d8"/>
<circle cx="378.6" cy="1184.8" r="10.3" fill="#6fa7d8"/>
<circle cx="355.9" cy="1188.5" r="10.3" fill="#6fa7d8"/>
<circle cx="349.8" cy="1225.6" r="10.3" fill="#6fa7d8"/>
<circle cx="379.3" cy="1201.7" r="10.3" fill="#6fa7d8"/>
<circle cx="349.3" cy="1221.2" r="10.3" fill="#6fa7d8"/>
<circle cx="384.7" cy="1157.6" r="10.3" fill="#2f6ca4"/>
<circle cx="385.7" cy="1182.9" r="10.3" fill="#2f6ca4"/>
<circle cx="387.8" cy="1168.7" r="10.3" fill="#2f6ca4"/>
<circle cx="368.2" cy="1164.7" r="10.3" fill="#2f6ca4"/>
<circle cx="355.2" cy="1153.1" r="10.3" fill="#2f6ca4"/>
<circle cx="384.2" cy="1177.1" r="10.3" fill="#2f6ca4"/>
<circle cx="363.5" cy="1173.5" r="10.3" fill="#2f6ca4"/>
<circle cx="373.6" cy="1155.3" r="10.3" fill="#2f6ca4"/>
<circle cx="366.9" cy="1138.8" r="10.3" fill="#2f6ca4"/>
<circle cx="370" cy="1164.1" r="10.3" fill="#2f6ca4"/>
<circle cx="383.5" cy="1140.1" r="10.3" fill="#2f6ca4"/>
<circle cx="385.7" cy="1141.4" r="10.3" fill="#2f6ca4"/>
<circle cx="364" cy="1179.5" r="10.3" fill="#2f6ca4"/>
<circle cx="380.6" cy="1134.3" r="10.3" fill="#2f6ca4"/>
<circle cx="389.7" cy="1124.4" r="10.3" fill="#2f6ca4"/>
<circle cx="369.1" cy="1148.5" r="10.3" fill="#2f6ca4"/>
<circle cx="371" cy="1191.2" r="10.3" fill="#2f6ca4"/>
<circle cx="347.7" cy="1167.1" r="10.3" fill="#2f6ca4"/>
<circle cx="355" cy="1149.9" r="10.3" fill="#2f6ca4"/>
<circle cx="351.4" cy="1168" r="10.3" fill="#2f6ca4"/>
<circle cx="348.2" cy="1165" r="10.3" fill="#2f6ca4"/>
<circle cx="351.1" cy="1125.2" r="10.3" fill="#2f6ca4"/>
<circle cx="347.6" cy="1169.3" r="10.3" fill="#2f6ca4"/>
<circle cx="373.8" cy="1178.3" r="10.3" fill="#2f6ca4"/>
<circle cx="378.4" cy="1188.1" r="10.3" fill="#2f6ca4"/>
<circle cx="351.4" cy="1177" r="10.3" fill="#2f6ca4"/>
<circle cx="348.8" cy="1141.5" r="10.3" fill="#2f6ca4"/>
<circle cx="352.3" cy="1189.8" r="10.3" fill="#2f6ca4"/>
<circle cx="359.4" cy="1190.2" r="10.3" fill="#2f6ca4"/>
<circle cx="352.3" cy="1163.8" r="10.3" fill="#2f6ca4"/>
<circle cx="373.4" cy="1174.5" r="10.3" fill="#2f6ca4"/>
<circle cx="385.5" cy="1158.3" r="10.3" fill="#2f6ca4"/>
<circle cx="380.4" cy="1148" r="10.3" fill="#2f6ca4"/>
<circle cx="354.2" cy="1142.5" r="10.3" fill="#2f6ca4"/>
<circle cx="364.3" cy="1141.6" r="10.3" fill="#2f6ca4"/>
<circle cx="370.5" cy="1201" r="10.3" fill="#2f6ca4"/>
<circle cx="364.6" cy="1145.1" r="10.3" fill="#2f6ca4"/>
<circle cx="362" cy="1130.1" r="10.3" fill="#2f6ca4"/>
<circle cx="357.6" cy="1178.3" r="10.3" fill="#2f6ca4"/>
<circle cx="391" cy="1176.6" r="10.3" fill="#2f6ca4"/>
<circle cx="383" cy="1145.1" r="10.3" fill="#2f6ca4"/>
<circle cx="384.9" cy="1131.1" r="10.3" fill="#2f6ca4"/>
<circle cx="349.2" cy="1185.4" r="10.3" fill="#2f6ca4"/>
<circle cx="388.8" cy="1170.8" r="10.3" fill="#2f6ca4"/>
<circle cx="375.3" cy="1164.8" r="10.3" fill="#2f6ca4"/>
<circle cx="363.2" cy="1142.3" r="10.3" fill="#2f6ca4"/>
<circle cx="366.3" cy="1172.9" r="10.3" fill="#2f6ca4"/>
<circle cx="369.5" cy="1166.4" r="10.3" fill="#2f6ca4"/>
<circle cx="390.4" cy="1153.2" r="10.3" fill="#2f6ca4"/>
<circle cx="381.7" cy="1163.3" r="10.3" fill="#2f6ca4"/>
<circle cx="383.2" cy="1186.9" r="10.3" fill="#ffaa00"/>
<circle cx="386.6" cy="1222.8" r="10.3" fill="#ffaa00"/>
<circle cx="375.7" cy="1208.3" r="10.3" fill="#ffaa00"/>
<circle cx="358.8" cy="1215.6" r="10.3" fill="#ffaa00"/>
<circle cx="371.2" cy="1218.9" r="10.3" fill="#ffaa00"/>
<circle cx="388.4" cy="1226.1" r="10.3" fill="#ffaa00"/>
<circle cx="370.2" cy="1222.8" r="10.3" fill="#ffaa00"/>
<circle cx="366.3" cy="1222.3" r="10.3" fill="#ffaa00"/>
<circle cx="360.5" cy="1197" r="10.3" fill="#ffaa00"/>
<circle cx="375.9" cy="1217" r="10.3" fill="#ffaa00"/>
<circle cx="389.8" cy="1193.3" r="10.3" fill="#ffaa00"/>
<circle cx="369.9" cy="1194.3" r="10.3" fill="#ffaa00"/>
<circle cx="370.8" cy="1214.7" r="10.3" fill="#ffaa00"/>
<circle cx="353.5" cy="1190.6" r="10.3" fill="#ffaa00"/>
<circle cx="360" cy="1204.9" r="10.3" fill="#ffaa00"/>
<circle cx="365.1" cy="1205" r="10.3" fill="#ffaa00"/>
<circle cx="350.8" cy="1215.6" r="10.3" fill="#ffaa00"/>
<circle cx="371.4" cy="1198.1" r="10.3" fill="#ffaa00"/>
<circle cx="372.5" cy="1198" r="10.3" fill="#ffaa00"/>
<circle cx="376.1" cy="1234.6" r="10.3" fill="#ffaa00"/>
<circle cx="367.5" cy="1203" r="10.3" fill="#ffaa00"/>
<circle cx="371.5" cy="1183.1" r="10.3" fill="#ffaa00"/>
<circle cx="360.8" cy="1228.7" r="10.3" fill="#ffaa00"/>
<circle cx="357.7" cy="1226.4" r="10.3" fill="#ffaa00"/>
<circle cx="364" cy="1208.1" r="10.3" fill="#ffaa00"/>
<circle cx="373.2" cy="1189.3" r="10.3" fill="#ffaa00"/>
<circle cx="385.6" cy="1194.2" r="10.3" fill="#ffaa00"/>
<circle cx="357.5" cy="1210.8" r="10.3" fill="#ffaa00"/>
<circle cx="359.6" cy="1233.3" r="10.3" fill="#ffaa00"/>
<circle cx="391.2" cy="1220" r="10.3" fill="#ffaa00"/>
<circle cx="353.9" cy="1221.6" r="10.3" fill="#ffaa00"/>
<circle cx="349.8" cy="1180.2" r="10.3" fill="#ffaa00"/>
<circle cx="349.6" cy="1197.8" r="10.3" fill="#ffaa00"/>
<circle cx="364.3" cy="1227.3" r="10.3" fill="#ffaa00"/>
<circle cx="351.7" cy="1241.5" r="10.3" fill="#ffaa00"/>
<circle cx="356.9" cy="1200.5" r="10.3" fill="#ffaa00"/>
<circle cx="353.8" cy="1181.5" r="10.3" fill="#ffaa00"/>
<circle cx="362" cy="1220.2" r="10.3" fill="#ffaa00"/>
<circle cx="374.5" cy="1229.6" r="10.3" fill="#ffaa00"/>
<circle cx="385" cy="1189" r="10.3" fill="#ffaa00"/>
<circle cx="380" cy="1202.1" r="10.3" fill="#ffaa00"/>
<circle cx="380.2" cy="1233.3" r="10.3" fill="#ffaa00"/>
<circle cx="382.1" cy="1210.8" r="10.3" fill="#ffaa00"/>
<circle cx="378.7" cy="1234.1" r="10.3" fill="#ffaa00"/>
<circle cx="386" cy="1203.5" r="10.3" fill="#ffaa00"/>
<circle cx="347" cy="1217.3" r="10.3" fill="#ffaa00"/>
<circle cx="369.2" cy="1209.6" r="10.3" fill="#ffaa00"/>
<circle cx="390.1" cy="1237.8" r="10.3" fill="#ffaa00"/>
<circle cx="382.1" cy="1230.3" r="10.3" fill="#ffaa00"/>
<circle cx="386.1" cy="1221" r="10.3" fill="#ffaa00"/>
<circle cx="367.2" cy="1226.9" r="10.3" fill="#ffaa00"/>
<circle cx="367.4" cy="1224" r="10.3" fill="#ffaa00"/>
<circle cx="364.4" cy="1214.9" r="10.3" fill="#ffaa00"/>
<circle cx="371.8" cy="1228.1" r="10.3" fill="#ffaa00"/>
<circle cx="382.2" cy="1224.9" r="10.3" fill="#ffaa00"/>
<circle cx="385" cy="1200.9" r="10.3" fill="#ffaa00"/>
<circle cx="355.1" cy="1233.1" r="10.3" fill="#ffaa00"/>
<circle cx="360.5" cy="1212.1" r="10.3" fill="#ffaa00"/>
<circle cx="373" cy="1196.6" r="10.3" fill="#ffaa00"/>
<circle cx="350.8" cy="1192.2" r="10.3" fill="#ffaa00"/>
<circle cx="384.8" cy="1143.2" r="10.3" fill="#248c24"/>
<circle cx="384.5" cy="1176.8" r="10.3" fill="#248c24"/>
<circle cx="366" cy="1146.6" r="10.3" fill="#248c24"/>
<circle cx="387.8" cy="1169.7" r="10.3" fill="#248c24"/>
<circle cx="372.2" cy="1156.2" r="10.3" fill="#248c24"/>
<circle cx="369.2" cy="1164.3" r="10.3" fill="#248c24"/>
<circle cx="371" cy="1122.6" r="10.3" fill="#248c24"/>
<circle cx="391.7" cy="1188" r="10.3" fill="#248c24"/>
<circle cx="377.6" cy="1198.4" r="10.3" fill="#248c24"/>
<circle cx="364.3" cy="1168.6" r="10.3" fill="#248c24"/>
<circle cx="362.6" cy="1188.4" r="10.3" fill="#248c24"/>
<circle cx="389.5" cy="1135.6" r="10.3" fill="#248c24"/>
<circle cx="351.3" cy="1180.1" r="10.3" fill="#248c24"/>
<circle cx="363.6" cy="1195.4" r="10.3" fill="#248c24"/>
<circle cx="372.6" cy="1194" r="10.3" fill="#248c24"/>
<circle cx="386.4" cy="1143.9" r="10.3" fill="#248c24"/>
<circle cx="366.6" cy="1133.4" r="10.3" fill="#248c24"/>
<circle cx="374.9" cy="1172" r="10.3" fill="#248c24"/>
<circle cx="370.7" cy="1139.2" r="10.3" fill="#248c24"/>
<circle cx="383.5" cy="1165.5" r="10.3" fill="#248c24"/>
<circle cx="390.8" cy="1153.2" r="10.3" fill="#248c24"/>
<circle cx="384" cy="1143.4" r="10.3" fill="#248c24"/>
<circle cx="387.1" cy="1178.4" r="10.3" fill="#248c24"/>
<circle cx="377.8" cy="1165.9" r="10.3" fill="#248c24"/>
<circle cx="386.8" cy="1128.4" r="10.3" fill="#248c24"/>
<circle cx="359.8" cy="1179.2" r="10.3" fill="#248c24"/>
<circle cx="369.8" cy="1157.1" r="10.3" fill="#248c24"/>
<circle cx="355" cy="1182.9" r="10.3" fill="#248c24"/>
<circle cx="375.2" cy="1165.4" r="10.3" fill="#248c24"/>
<circle cx="391.5" cy="1185.7" r="10.3" fill="#248c24"/>
<circle cx="375.4" cy="1180.6" r="10.3" fill="#248c24"/>
<circle cx="382.2" cy="1137.1" r="10.3" fill="#248c24"/>
<circle cx="360.6" cy="1157.3" r="10.3" fill="#248c24"/>
<circle cx="360.5" cy="1165.8" r="10.3" fill="#248c24"/>
<circle cx="384.7" cy="1167.2" r="10.3" fill="#248c24"/>
<circle cx="355.6" cy="1200.4" r="10.3" fill="#248c24"/>
<circle cx="369.2" cy="1186.3" r="10.3" fill="#248c24"/>
<circle cx="375.9" cy="1185.6" r="10.3" fill="#248c24"/>
<circle cx="370.7" cy="1172.1" r="10.3" fill="#248c24"/>
<circle cx="365.3" cy="1128.3" r="10.3" fill="#248c24"/>
<circle cx="352.3" cy="1165.5" r="10.3" fill="#248c24"/>
<circle cx="351.6" cy="1138.8" r="10.3" fill="#248c24"/>
<circle cx="351.3" cy="1125.5" r="10.3" fill="#248c24"/>
<circle cx="383.8" cy="1148.6" r="10.3" fill="#248c24"/>
<circle cx="374.4" cy="1135" r="10.3" fill="#248c24"/>
<circle cx="347.4" cy="1161.4" r="10.3" fill="#248c24"/>
<circle cx="381.5" cy="1174.2" r="10.3" fill="#248c24"/>
<circle cx="362.7" cy="1184.4" r="10.3" fill="#248c24"/>
<circle cx="354.4" cy="1125.1" r="10.3" fill="#248c24"/>
<circle cx="387.5" cy="1166.2" r="10.3" fill="#248c24"/>
<circle cx="373" cy="1152.1" r="10.3" fill="#248c24"/>
<circle cx="364.2" cy="1182.7" r="10.3" fill="#248c24"/>
<circle cx="349.3" cy="1140" r="10.3" fill="#248c24"/>
<circle cx="390" cy="1136.3" r="10.3" fill="#248c24"/>
<circle cx="366.6" cy="1188.3" r="10.3" fill="#248c24"/>
<circle cx="348.8" cy="1180.3" r="10.3" fill="#248c24"/>
<circle cx="388.7" cy="1179.4" r="10.3" fill="#248c24"/>
<circle cx="387.2" cy="1150" r="10.3" fill="#248c24"/>
<circle cx="383.5" cy="1184.1" r="10.3" fill="#248c24"/>
<circle cx="390" cy="1177.4" r="10.3" fill="#248c24"/>
<circle cx="369.1" cy="1129" r="10.3" fill="#248c24"/>
<circle cx="364.3" cy="1145" r="10.3" fill="#248c24"/>
<circle cx="379.1" cy="1171.3" r="10.3" fill="#248c24"/>
<circle cx="386.2" cy="1160.6" r="10.3" fill="#248c24"/>
<circle cx="368.6" cy="1141.2" r="10.3" fill="#248c24"/>
<circle cx="354.6" cy="1159.3" r="10.3" fill="#248c24"/>
<circle cx="362.9" cy="1185" r="10.3" fill="#248c24"/>
<circle cx="359.9" cy="1135.9" r="10.3" fill="#248c24"/>
<circle cx="370.8" cy="1177.7" r="10.3" fill="#248c24"/>
<circle cx="364.2" cy="1170.1" r="10.3" fill="#248c24"/>
<circle cx="352.3" cy="1173.3" r="10.3" fill="#248c24"/>
<circle cx="384" cy="1159" r="10.3" fill="#248c24"/>
<circle cx="355.4" cy="1177.3" r="10.3" fill="#248c24"/>
<circle cx="359.6" cy="1148" r="10.3" fill="#248c24"/>
<circle cx="376.7" cy="1164.3" r="10.3" fill="#248c24"/>
<circle cx="362.2" cy="1157.4" r="10.3" fill="#248c24"/>
<circle cx="351" cy="1140.5" r="10.3" fill="#248c24"/>
<circle cx="358.9" cy="1128.5" r="10.3" fill="#248c24"/>
<circle cx="366.7" cy="1157.4" r="10.3" fill="#248c24"/>
<circle cx="384.4" cy="1177.4" r="10.3" fill="#248c24"/>
<circle cx="362.7" cy="1159.3" r="10.3" fill="#248c24"/>
<circle cx="379.3" cy="1180.4" r="10.3" fill="#248c24"/>
<circle cx="356.2" cy="1215.3" r="10.3" fill="#248c24"/>
<circle cx="389.6" cy="1115.6" r="10.3" fill="#248c24"/>
<circle cx="367.2" cy="1184.9" r="10.3" fill="#248c24"/>
<circle cx="352.7" cy="1165.5" r="10.3" fill="#248c24"/>
<circle cx="387.3" cy="1170.7" r="10.3" fill="#248c24"/>
<circle cx="373.2" cy="1185.8" r="10.3" fill="#248c24"/>
<circle cx="374.2" cy="1179.1" r="10.3" fill="#248c24"/>
<circle cx="356.4" cy="1149.4" r="10.3" fill="#248c24"/>
<circle cx="369.9" cy="1154.9" r="10.3" fill="#248c24"/>
<circle cx="371.2" cy="1175.1" r="10.3" fill="#248c24"/>
<circle cx="364.1" cy="1171" r="10.3" fill="#248c24"/>
<circle cx="376.4" cy="1117.2" r="10.3" fill="#248c24"/>
<circle cx="364.3" cy="1186.8" r="10.3" fill="#248c24"/>
<circle cx="350.7" cy="1174.8" r="10.3" fill="#248c24"/>
<circle cx="361.2" cy="1140.7" r="10.3" fill="#248c24"/>
<circle cx="376.6" cy="1115.9" r="10.3" fill="#248c24"/>
<circle cx="363.1" cy="1137" r="10.3" fill="#248c24"/>
<circle cx="369.3" cy="1142.1" r="10.3" fill="#248c24"/>
<circle cx="360.8" cy="1167.9" r="10.3" fill="#248c24"/>
<circle cx="357" cy="1155" r="10.3" fill="#248c24"/>
<circle cx="359.5" cy="1133.7" r="10.3" fill="#248c24"/>
<circle cx="365" cy="1133.2" r="10.3" fill="#248c24"/>
<circle cx="386.5" cy="1124.3" r="10.3" fill="#248c24"/>
<circle cx="385.6" cy="1191" r="10.3" fill="#248c24"/>
<circle cx="348.1" cy="1149.7" r="10.3" fill="#248c24"/>
<circle cx="377.4" cy="1148.3" r="10.3" fill="#248c24"/>
<circle cx="365.4" cy="1178.3" r="10.3" fill="#248c24"/>
<circle cx="376.5" cy="1187.1" r="10.3" fill="#248c24"/>
<circle cx="384.9" cy="1171.5" r="10.3" fill="#248c24"/>
<circle cx="362.6" cy="1184.9" r="10.3" fill="#248c24"/>
<circle cx="352" cy="1177.1" r="10.3" fill="#248c24"/>
<circle cx="387.9" cy="1177.7" r="10.3" fill="#248c24"/>
<circle cx="348.6" cy="1169.3" r="10.3" fill="#248c24"/>
<circle cx="348.6" cy="1208.8" r="10.3" fill="#248c24"/>
<circle cx="360.4" cy="1155.1" r="10.3" fill="#248c24"/>
<circle cx="363.9" cy="1149.1" r="10.3" fill="#248c24"/>
<circle cx="375.5" cy="1141.5" r="10.3" fill="#248c24"/>
<circle cx="354.9" cy="1159" r="10.3" fill="#248c24"/>
<circle cx="379" cy="1145.5" r="10.3" fill="#248c24"/>
<circle cx="358.3" cy="1195.6" r="10.3" fill="#248c24"/>
<circle cx="362.5" cy="1203.8" r="10.3" fill="#248c24"/>
<circle cx="346.8" cy="1148" r="10.3" fill="#248c24"/>
<circle cx="359.7" cy="1140.4" r="10.3" fill="#248c24"/>
<circle cx="348.7" cy="1206.6" r="10.3" fill="#248c24"/>
<circle cx="348.9" cy="1141.6" r="10.3" fill="#248c24"/>
<circle cx="357.8" cy="1195.2" r="10.3" fill="#248c24"/>
<circle cx="356.3" cy="1127" r="10.3" fill="#248c24"/>
<circle cx="388" cy="1133" r="10.3" fill="#248c24"/>
<circle cx="378.1" cy="1164.9" r="10.3" fill="#248c24"/>
<circle cx="364.5" cy="1176.7" r="10.3" fill="#248c24"/>
<circle cx="359.5" cy="1165.7" r="10.3" fill="#248c24"/>
<circle cx="350.8" cy="1217.4" r="10.3" fill="#248c24"/>
<circle cx="388.7" cy="1137.1" r="10.3" fill="#248c24"/>
<circle cx="377.9" cy="1174.6" r="10.3" fill="#248c24"/>
<circle cx="375.1" cy="1168.6" r="10.3" fill="#248c24"/>
<circle cx="367.2" cy="1217.4" r="10.3" fill="#248c24"/>
<circle cx="366.1" cy="1124.1" r="10.3" fill="#248c24"/>
<circle cx="369.8" cy="1150.4" r="10.3" fill="#248c24"/>
<circle cx="608.6" cy="1201.8" r="10.3" fill="#d90000"/>
<circle cx="576.3" cy="1210.8" r="10.3" fill="#d90000"/>
<circle cx="586.1" cy="1214.7" r="10.3" fill="#d90000"/>
<circle cx="603" cy="1217.7" r="10.3" fill="#d90000"/>
<circle cx="577" cy="1217.3" r="10.3" fill="#d90000"/>
<circle cx="590.4" cy="1210.5" r="10.3" fill="#d90000"/>
<circle cx="588.3" cy="1215.2" r="10.3" fill="#d90000"/>
<circle cx="580.4" cy="1203.3" r="10.3" fill="#d90000"/>
<circle cx="585" cy="1213" r="10.3" fill="#d90000"/>
<circle cx="585.2" cy="1226.4" r="10.3" fill="#d90000"/>
<circle cx="616.4" cy="1221.8" r="10.3" fill="#d90000"/>
<circle cx="590.1" cy="1209.2" r="10.3" fill="#d90000"/>
<circle cx="580.7" cy="1216.1" r="10.3" fill="#d90000"/>
<circle cx="599.6" cy="1182.3" r="10.3" fill="#d90000"/>
<circle cx="599" cy="1219.8" r="10.3" fill="#d90000"/>
<circle cx="608.5" cy="1187.4" r="10.3" fill="#d90000"/>
<circle cx="601.2" cy="1198.6" r="10.3" fill="#d90000"/>
<circle cx="595.1" cy="1191.2" r="10.3" fill="#d90000"/>
<circle cx="579.5" cy="1205.4" r="10.3" fill="#d90000"/>
<circle cx="583.6" cy="1210.9" r="10.3" fill="#d90000"/>
<circle cx="577" cy="1196" r="10.3" fill="#d90000"/>
<circle cx="605.9" cy="1209.5" r="10.3" fill="#d90000"/>
<circle cx="594.5" cy="1199.5" r="10.3" fill="#d90000"/>
<circle cx="595.4" cy="1199.2" r="10.3" fill="#d90000"/>
<circle cx="590.6" cy="1200.4" r="10.3" fill="#d90000"/>
<circle cx="574.8" cy="1205.4" r="10.3" fill="#d90000"/>
<circle cx="618.9" cy="1203.5" r="10.3" fill="#d90000"/>
<circle cx="606.6" cy="1207.9" r="10.3" fill="#d90000"/>
<circle cx="618.4" cy="1213.3" r="10.3" fill="#d90000"/>
<circle cx="596.3" cy="1213.6" r="10.3" fill="#d90000"/>
<circle cx="593.8" cy="1210.3" r="10.3" fill="#d90000"/>
<circle cx="574.7" cy="1201.9" r="10.3" fill="#d90000"/>
<circle cx="615.7" cy="1192.9" r="10.3" fill="#d90000"/>
<circle cx="616.4" cy="1219" r="10.3" fill="#d90000"/>
<circle cx="603.7" cy="1222.2" r="10.3" fill="#d90000"/>
<circle cx="580.5" cy="1208" r="10.3" fill="#d90000"/>
<circle cx="575.5" cy="1198.2" r="10.3" fill="#d90000"/>
<circle cx="587.6" cy="1204.1" r="10.3" fill="#d90000"/>
<circle cx="612.4" cy="1200.6" r="10.3" fill="#d90000"/>
<circle cx="616" cy="1191" r="10.3" fill="#d90000"/>
<circle cx="611.7" cy="1196.8" r="10.3" fill="#d90000"/>
<circle cx="607.7" cy="1188.2" r="10.3" fill="#d90000"/>
<circle cx="611.4" cy="1211.7" r="10.3" fill="#d90000"/>
<circle cx="588.7" cy="1200.6" r="10.3" fill="#d90000"/>
<circle cx="590.9" cy="1218.9" r="10.3" fill="#d90000"/>
<circle cx="611.7" cy="1195.9" r="10.3" fill="#d90000"/>
<circle cx="599.8" cy="1207.6" r="10.3" fill="#d90000"/>
<circle cx="602.6" cy="1204.1" r="10.3" fill="#d90000"/>
<circle cx="615" cy="1199.3" r="10.3" fill="#d90000"/>
<circle cx="616.8" cy="1226.1" r="10.3" fill="#d90000"/>
<circle cx="581.4" cy="1223" r="10.3" fill="#d90000"/>
<circle cx="587.8" cy="1207.3" r="10.3" fill="#d90000"/>
<circle cx="605.3" cy="1212.5" r="10.3" fill="#d90000"/>
<circle cx="581.7" cy="1210.4" r="10.3" fill="#d90000"/>
<circle cx="578.3" cy="1195.9" r="10.3" fill="#d90000"/>
<circle cx="582.9" cy="1194.4" r="10.3" fill="#d90000"/>
<circle cx="606.8" cy="1204.4" r="10.3" fill="#d90000"/>
<circle cx="612.8" cy="1183.1" r="10.3" fill="#d90000"/>
<circle cx="609.7" cy="1207.4" r="10.3" fill="#d90000"/>
<circle cx="604.1" cy="1217.3" r="10.3" fill="#d90000"/>
<circle cx="597.5" cy="1203.1" r="10.3" fill="#d90000"/>
<circle cx="594" cy="1218.2" r="10.3" fill="#d90000"/>
<circle cx="604.3" cy="1202.3" r="10.3" fill="#d90000"/>
<circle cx="581.7" cy="1195" r="10.3" fill="#d90000"/>
<circle cx="599.7" cy="1211.8" r="10.3" fill="#d90000"/>
<circle cx="590" cy="1183.7" r="10.3" fill="#7b766f"/>
<circle cx="588.9" cy="1197.1" r="10.3" fill="#7b766f"/>
<circle cx="595" cy="1193.3" r="10.3" fill="#7b766f"/>
<circle cx="613.2" cy="1166.9" r="10.3" fill="#7b766f"/>
<circle cx="618.1" cy="1205.2" r="10.3" fill="#7b766f"/>
<circle cx="610.8" cy="1178.9" r="10.3" fill="#7b766f"/>
<circle cx="577" cy="1204.2" r="10.3" fill="#7b766f"/>
<circle cx="587.7" cy="1208.5" r="10.3" fill="#7b766f"/>
<circle cx="600" cy="1217.7" r="10.3" fill="#7b766f"/>
<circle cx="603.4" cy="1182.8" r="10.3" fill="#7b766f"/>
<circle cx="587.8" cy="1204.3" r="10.3" fill="#7b766f"/>
<circle cx="575.6" cy="1216.6" r="10.3" fill="#7b766f"/>
<circle cx="582.8" cy="1173.2" r="10.3" fill="#7b766f"/>
<circle cx="578.1" cy="1206.4" r="10.3" fill="#7b766f"/>
<circle cx="604" cy="1214" r="10.3" fill="#7b766f"/>
<circle cx="593" cy="1213" r="10.3" fill="#7b766f"/>
<circle cx="598.1" cy="1185" r="10.3" fill="#7b766f"/>
<circle cx="579.4" cy="1213.2" r="10.3" fill="#7b766f"/>
<circle cx="582.4" cy="1205.3" r="10.3" fill="#7b766f"/>
<circle cx="579.4" cy="1184.7" r="10.3" fill="#7b766f"/>
<circle cx="613.1" cy="1211.4" r="10.3" fill="#7b766f"/>
<circle cx="598.2" cy="1199.4" r="10.3" fill="#7b766f"/>
<circle cx="585.6" cy="1192.5" r="10.3" fill="#7b766f"/>
<circle cx="584.5" cy="1218.4" r="10.3" fill="#7b766f"/>
<circle cx="600.1" cy="1198" r="10.3" fill="#7b766f"/>
<circle cx="600.8" cy="1185.6" r="10.3" fill="#7b766f"/>
<circle cx="577.9" cy="1187.5" r="10.3" fill="#7b766f"/>
<circle cx="594.1" cy="1204.2" r="10.3" fill="#7b766f"/>
<circle cx="613.2" cy="1196.1" r="10.3" fill="#7b766f"/>
<circle cx="608.4" cy="1221.9" r="10.3" fill="#7b766f"/>
<circle cx="579.5" cy="1206.7" r="10.3" fill="#7b766f"/>
<circle cx="578.9" cy="1175.2" r="10.3" fill="#7b766f"/>
<circle cx="611.7" cy="1200.7" r="10.3" fill="#7b766f"/>
<circle cx="617.5" cy="1206.5" r="10.3" fill="#7b766f"/>
<circle cx="599.6" cy="1193.5" r="10.3" fill="#7b766f"/>
<circle cx="609.2" cy="1198" r="10.3" fill="#7b766f"/>
<circle cx="576.9" cy="1207.3" r="10.3" fill="#7b766f"/>
<circle cx="575" cy="1198.1" r="10.3" fill="#7b766f"/>
<circle cx="601" cy="1184.8" r="10.3" fill="#7b766f"/>
<circle cx="606.1" cy="1196.4" r="10.3" fill="#7b766f"/>
<circle cx="593.5" cy="1186.9" r="10.3" fill="#7b766f"/>
<circle cx="613.5" cy="1183.2" r="10.3" fill="#7b766f"/>
<circle cx="599.6" cy="1212.8" r="10.3" fill="#7b766f"/>
<circle cx="581.9" cy="1172.8" r="10.3" fill="#7b766f"/>
<circle cx="607.8" cy="1214.4" r="10.3" fill="#7b766f"/>
<circle cx="604.9" cy="1271.1" r="10.3" fill="#dbcfb6"/>
<circle cx="611.5" cy="1230.7" r="10.3" fill="#dbcfb6"/>
<circle cx="607.5" cy="1243.3" r="10.3" fill="#dbcfb6"/>
<circle cx="617" cy="1243.6" r="10.3" fill="#dbcfb6"/>
<circle cx="601.5" cy="1256.1" r="10.3" fill="#dbcfb6"/>
<circle cx="578.8" cy="1260.2" r="10.3" fill="#dbcfb6"/>
<circle cx="579.4" cy="1284.8" r="10.3" fill="#dbcfb6"/>
<circle cx="615.9" cy="1264.6" r="10.3" fill="#dbcfb6"/>
<circle cx="583" cy="1261.2" r="10.3" fill="#dbcfb6"/>
<circle cx="594.4" cy="1266.9" r="10.3" fill="#dbcfb6"/>
<circle cx="579.4" cy="1243.2" r="10.3" fill="#dbcfb6"/>
<circle cx="575.2" cy="1274.5" r="10.3" fill="#dbcfb6"/>
<circle cx="582.6" cy="1231.4" r="10.3" fill="#dbcfb6"/>
<circle cx="599.2" cy="1235.4" r="10.3" fill="#dbcfb6"/>
<circle cx="591.4" cy="1261.7" r="10.3" fill="#dbcfb6"/>
<circle cx="580.8" cy="1229.8" r="10.3" fill="#dbcfb6"/>
<circle cx="605.3" cy="1240" r="10.3" fill="#dbcfb6"/>
<circle cx="610.7" cy="1270.3" r="10.3" fill="#dbcfb6"/>
<circle cx="589.7" cy="1252.5" r="10.3" fill="#dbcfb6"/>
<circle cx="581.1" cy="1256.1" r="10.3" fill="#dbcfb6"/>
<circle cx="610.3" cy="1255.6" r="10.3" fill="#dbcfb6"/>
<circle cx="611.1" cy="1244.5" r="10.3" fill="#dbcfb6"/>
<circle cx="604.9" cy="1252.8" r="10.3" fill="#dbcfb6"/>
<circle cx="581.4" cy="1270.5" r="10.3" fill="#dbcfb6"/>
<circle cx="612.3" cy="1243" r="10.3" fill="#dbcfb6"/>
<circle cx="601.8" cy="1282.6" r="10.3" fill="#dbcfb6"/>
<circle cx="577.7" cy="1233.5" r="10.3" fill="#dbcfb6"/>
<circle cx="614.5" cy="1260.9" r="10.3" fill="#dbcfb6"/>
<circle cx="600.8" cy="1244.6" r="10.3" fill="#dbcfb6"/>
<circle cx="590.5" cy="1245.1" r="10.3" fill="#dbcfb6"/>
<circle cx="595.3" cy="1247.7" r="10.3" fill="#6fa7d8"/>
<circle cx="590.2" cy="1267.9" r="10.3" fill="#6fa7d8"/>
<circle cx="574.6" cy="1259.8" r="10.3" fill="#6fa7d8"/>
<circle cx="575.2" cy="1266.2" r="10.3" fill="#6fa7d8"/>
<circle cx="595" cy="1259.2" r="10.3" fill="#6fa7d8"/>
<circle cx="580.9" cy="1245" r="10.3" fill="#6fa7d8"/>
<circle cx="604.5" cy="1251.4" r="10.3" fill="#6fa7d8"/>
<circle cx="596.8" cy="1253.1" r="10.3" fill="#6fa7d8"/>
<circle cx="586.1" cy="1235.6" r="10.3" fill="#6fa7d8"/>
<circle cx="617.4" cy="1272.4" r="10.3" fill="#6fa7d8"/>
<circle cx="618.9" cy="1260.8" r="10.3" fill="#6fa7d8"/>
<circle cx="609" cy="1226.6" r="10.3" fill="#6fa7d8"/>
<circle cx="613.6" cy="1245.6" r="10.3" fill="#6fa7d8"/>
<circle cx="602.9" cy="1246.7" r="10.3" fill="#6fa7d8"/>
<circle cx="590.6" cy="1278" r="10.3" fill="#6fa7d8"/>
<circle cx="613.6" cy="1257.7" r="10.3" fill="#6fa7d8"/>
<circle cx="616.5" cy="1217.1" r="10.3" fill="#6fa7d8"/>
<circle cx="608.6" cy="1257.8" r="10.3" fill="#6fa7d8"/>
<circle cx="607.6" cy="1265.9" r="10.3" fill="#6fa7d8"/>
<circle cx="590.1" cy="1278.3" r="10.3" fill="#6fa7d8"/>
<circle cx="599.1" cy="1252.4" r="10.3" fill="#6fa7d8"/>
<circle cx="589.5" cy="1256.6" r="10.3" fill="#6fa7d8"/>
<circle cx="588.8" cy="1247.1" r="10.3" fill="#6fa7d8"/>
<circle cx="590.8" cy="1228.8" r="10.3" fill="#6fa7d8"/>
<circle cx="585.3" cy="1252.5" r="10.3" fill="#6fa7d8"/>
<circle cx="580.4" cy="1249.2" r="10.3" fill="#6fa7d8"/>
<circle cx="574.6" cy="1233" r="10.3" fill="#6fa7d8"/>
<circle cx="594.3" cy="1236.2" r="10.3" fill="#6fa7d8"/>
<circle cx="599.9" cy="1266.3" r="10.3" fill="#6fa7d8"/>
<circle cx="577.3" cy="1254.7" r="10.3" fill="#6fa7d8"/>
<circle cx="587.9" cy="1239.7" r="10.3" fill="#6fa7d8"/>
<circle cx="599.1" cy="1262.1" r="10.3" fill="#6fa7d8"/>
<circle cx="616.5" cy="1221.8" r="10.3" fill="#6fa7d8"/>
<circle cx="600.6" cy="1274.4" r="10.3" fill="#6fa7d8"/>
<circle cx="577.9" cy="1214.1" r="10.3" fill="#6fa7d8"/>
<circle cx="618.7" cy="1239.8" r="10.3" fill="#6fa7d8"/>
<circle cx="590.4" cy="1227.9" r="10.3" fill="#6fa7d8"/>
<circle cx="613.4" cy="1247.8" r="10.3" fill="#6fa7d8"/>
<circle cx="577.3" cy="1271.1" r="10.3" fill="#6fa7d8"/>
<circle cx="586.7" cy="1246.9" r="10.3" fill="#6fa7d8"/>
<circle cx="581.7" cy="1251.1" r="10.3" fill="#6fa7d8"/>
<circle cx="586.4" cy="1246.7" r="10.3" fill="#6fa7d8"/>
<circle cx="592.3" cy="1254.7" r="10.3" fill="#6fa7d8"/>
<circle cx="583.3" cy="1263.9" r="10.3" fill="#6fa7d8"/>
<circle cx="603.5" cy="1281.8" r="10.3" fill="#6fa7d8"/>
<circle cx="583.2" cy="1274.2" r="10.3" fill="#6fa7d8"/>
<circle cx="601.3" cy="1255.9" r="10.3" fill="#6fa7d8"/>
<circle cx="613.7" cy="1219.9" r="10.3" fill="#6fa7d8"/>
<circle cx="589.7" cy="1234" r="10.3" fill="#6fa7d8"/>
<circle cx="598.5" cy="1242.7" r="10.3" fill="#6fa7d8"/>
<circle cx="613.7" cy="1241.4" r="10.3" fill="#6fa7d8"/>
<circle cx="583.9" cy="1278.8" r="10.3" fill="#6fa7d8"/>
<circle cx="603.5" cy="1265.8" r="10.3" fill="#6fa7d8"/>
<circle cx="592.5" cy="1222.4" r="10.3" fill="#6fa7d8"/>
<circle cx="576.9" cy="1258.5" r="10.3" fill="#6fa7d8"/>
<circle cx="592.9" cy="1266.7" r="10.3" fill="#6fa7d8"/>
<circle cx="589.4" cy="1224.8" r="10.3" fill="#6fa7d8"/>
<circle cx="596.5" cy="1243.2" r="10.3" fill="#6fa7d8"/>
<circle cx="595.2" cy="1263.1" r="10.3" fill="#6fa7d8"/>
<circle cx="574.9" cy="1259.5" r="10.3" fill="#6fa7d8"/>
<circle cx="618.7" cy="1228.6" r="10.3" fill="#6fa7d8"/>
<circle cx="576.8" cy="1262.2" r="10.3" fill="#6fa7d8"/>
<circle cx="589.1" cy="1274.3" r="10.3" fill="#6fa7d8"/>
<circle cx="578.5" cy="1271.3" r="10.3" fill="#6fa7d8"/>
<circle cx="608.8" cy="1244.9" r="10.3" fill="#6fa7d8"/>
<circle cx="578.3" cy="1242" r="10.3" fill="#6fa7d8"/>
<circle cx="598.5" cy="1242.9" r="10.3" fill="#6fa7d8"/>
<circle cx="600.8" cy="1269.6" r="10.3" fill="#6fa7d8"/>
<circle cx="601.4" cy="1277.5" r="10.3" fill="#6fa7d8"/>
<circle cx="589.2" cy="1260.5" r="10.3" fill="#6fa7d8"/>
<circle cx="606.3" cy="1251.7" r="10.3" fill="#6fa7d8"/>
<circle cx="608.6" cy="1265.8" r="10.3" fill="#6fa7d8"/>
<circle cx="609.1" cy="1248.2" r="10.3" fill="#6fa7d8"/>
<circle cx="618.3" cy="1267.3" r="10.3" fill="#6fa7d8"/>
<circle cx="597.8" cy="1265.8" r="10.3" fill="#6fa7d8"/>
<circle cx="616.6" cy="1246.4" r="10.3" fill="#6fa7d8"/>
<circle cx="595.7" cy="1249.1" r="10.3" fill="#6fa7d8"/>
<circle cx="603.8" cy="1249" r="10.3" fill="#6fa7d8"/>
<circle cx="618.8" cy="1248.1" r="10.3" fill="#6fa7d8"/>
<circle cx="584.6" cy="1269" r="10.3" fill="#6fa7d8"/>
<circle cx="575.6" cy="1250.5" r="10.3" fill="#6fa7d8"/>
<circle cx="580.3" cy="1259.3" r="10.3" fill="#6fa7d8"/>
<circle cx="599.3" cy="1229.7" r="10.3" fill="#6fa7d8"/>
<circle cx="582.5" cy="1242.5" r="10.3" fill="#6fa7d8"/>
<circle cx="581" cy="1233.7" r="10.3" fill="#6fa7d8"/>
<circle cx="582.3" cy="1257.7" r="10.3" fill="#6fa7d8"/>
<circle cx="581.6" cy="1254.2" r="10.3" fill="#6fa7d8"/>
<circle cx="585.2" cy="1217.9" r="10.3" fill="#6fa7d8"/>
<circle cx="618.5" cy="1244.8" r="10.3" fill="#6fa7d8"/>
<circle cx="589.8" cy="1278.4" r="10.3" fill="#6fa7d8"/>
<circle cx="610.3" cy="1250.7" r="10.3" fill="#6fa7d8"/>
<circle cx="615" cy="1267.5" r="10.3" fill="#6fa7d8"/>
<circle cx="579.2" cy="1246.6" r="10.3" fill="#6fa7d8"/>
<circle cx="603.3" cy="1251.6" r="10.3" fill="#6fa7d8"/>
<circle cx="592.4" cy="1258" r="10.3" fill="#6fa7d8"/>
<circle cx="599.7" cy="1246.4" r="10.3" fill="#6fa7d8"/>
<circle cx="592.7" cy="1256" r="10.3" fill="#6fa7d8"/>
<circle cx="602.5" cy="1273.6" r="10.3" fill="#6fa7d8"/>
<circle cx="586.1" cy="1248.5" r="10.3" fill="#6fa7d8"/>
<circle cx="593.8" cy="1236.3" r="10.3" fill="#6fa7d8"/>
<circle cx="608.5" cy="1249.4" r="10.3" fill="#6fa7d8"/>
<circle cx="603.2" cy="1237.9" r="10.3" fill="#6fa7d8"/>
<circle cx="584" cy="1269.5" r="10.3" fill="#6fa7d8"/>
<circle cx="613.1" cy="1261.1" r="10.3" fill="#6fa7d8"/>
<circle cx="613.4" cy="1255.7" r="10.3" fill="#6fa7d8"/>
<circle cx="611.3" cy="1254.4" r="10.3" fill="#6fa7d8"/>
<circle cx="587" cy="1218.8" r="10.3" fill="#6fa7d8"/>
<circle cx="614.4" cy="1261.8" r="10.3" fill="#6fa7d8"/>
<circle cx="581.6" cy="1231.4" r="10.3" fill="#6fa7d8"/>
<circle cx="594.7" cy="1261.6" r="10.3" fill="#6fa7d8"/>
<circle cx="600.4" cy="1274.7" r="10.3" fill="#6fa7d8"/>
<circle cx="614.1" cy="1241" r="10.3" fill="#6fa7d8"/>
<circle cx="590.5" cy="1259.8" r="10.3" fill="#6fa7d8"/>
<circle cx="582.5" cy="1243.7" r="10.3" fill="#6fa7d8"/>
<circle cx="579.3" cy="1252.2" r="10.3" fill="#6fa7d8"/>
<circle cx="618.1" cy="1246.8" r="10.3" fill="#6fa7d8"/>
<circle cx="581.1" cy="1248.4" r="10.3" fill="#6fa7d8"/>
<circle cx="581.9" cy="1251.7" r="10.3" fill="#6fa7d8"/>
<circle cx="605" cy="1259.6" r="10.3" fill="#6fa7d8"/>
<circle cx="615.6" cy="1236" r="10.3" fill="#6fa7d8"/>
<circle cx="606.5" cy="1241.4" r="10.3" fill="#6fa7d8"/>
<circle cx="609.9" cy="1237" r="10.3" fill="#6fa7d8"/>
<circle cx="605.3" cy="1248" r="10.3" fill="#6fa7d8"/>
<circle cx="584.7" cy="1228.6" r="10.3" fill="#6fa7d8"/>
<circle cx="593.7" cy="1245.5" r="10.3" fill="#6fa7d8"/>
<circle cx="618.9" cy="1247.8" r="10.3" fill="#6fa7d8"/>
<circle cx="588.5" cy="1248.5" r="10.3" fill="#6fa7d8"/>
<circle cx="596.2" cy="1243.8" r="10.3" fill="#6fa7d8"/>
<circle cx="580.4" cy="1257.7" r="10.3" fill="#6fa7d8"/>
<circle cx="605.1" cy="1261.8" r="10.3" fill="#6fa7d8"/>
<circle cx="581" cy="1245.6" r="10.3" fill="#6fa7d8"/>
<circle cx="579.4" cy="1252.6" r="10.3" fill="#6fa7d8"/>
<circle cx="590.2" cy="1273.6" r="10.3" fill="#6fa7d8"/>
<circle cx="590" cy="1249.9" r="10.3" fill="#6fa7d8"/>
<circle cx="614" cy="1239.9" r="10.3" fill="#6fa7d8"/>
<circle cx="582.3" cy="1252.7" r="10.3" fill="#6fa7d8"/>
<circle cx="586.2" cy="1266.2" r="10.3" fill="#6fa7d8"/>
<circle cx="597.2" cy="1245.7" r="10.3" fill="#6fa7d8"/>
<circle cx="592.7" cy="1248.5" r="10.3" fill="#6fa7d8"/>
<circle cx="574.8" cy="1268.1" r="10.3" fill="#6fa7d8"/>
<circle cx="605.3" cy="1167.7" r="10.3" fill="#ffaa00"/>
<circle cx="599" cy="1176" r="10.3" fill="#ffaa00"/>
<circle cx="605.4" cy="1182.7" r="10.3" fill="#ffaa00"/>
<circle cx="606.6" cy="1117" r="10.3" fill="#ffaa00"/>
<circle cx="592.3" cy="1165.4" r="10.3" fill="#ffaa00"/>
<circle cx="618.1" cy="1169.9" r="10.3" fill="#ffaa00"/>
<circle cx="591.7" cy="1140.2" r="10.3" fill="#ffaa00"/>
<circle cx="580.7" cy="1177.2" r="10.3" fill="#ffaa00"/>
<circle cx="619.2" cy="1146" r="10.3" fill="#ffaa00"/>
<circle cx="616" cy="1131.2" r="10.3" fill="#ffaa00"/>
<circle cx="585.8" cy="1159.6" r="10.3" fill="#ffaa00"/>
<circle cx="585.1" cy="1176.6" r="10.3" fill="#ffaa00"/>
<circle cx="583.2" cy="1174" r="10.3" fill="#ffaa00"/>
<circle cx="609.6" cy="1129.7" r="10.3" fill="#ffaa00"/>
<circle cx="615.2" cy="1133" r="10.3" fill="#ffaa00"/>
<circle cx="588.9" cy="1129" r="10.3" fill="#ffaa00"/>
<circle cx="603.4" cy="1150.4" r="10.3" fill="#ffaa00"/>
<circle cx="618" cy="1178.4" r="10.3" fill="#ffaa00"/>
<circle cx="574.3" cy="1166.2" r="10.3" fill="#ffaa00"/>
<circle cx="597.3" cy="1161.6" r="10.3" fill="#ffaa00"/>
<circle cx="584.8" cy="1198.7" r="10.3" fill="#ffaa00"/>
<circle cx="591.3" cy="1184.9" r="10.3" fill="#ffaa00"/>
<circle cx="606.3" cy="1186.3" r="10.3" fill="#ffaa00"/>
<circle cx="601.9" cy="1181.2" r="10.3" fill="#ffaa00"/>
<circle cx="604.8" cy="1144.3" r="10.3" fill="#ffaa00"/>
<circle cx="598.7" cy="1173.8" r="10.3" fill="#ffaa00"/>
<circle cx="584.3" cy="1133.3" r="10.3" fill="#ffaa00"/>
<circle cx="615.2" cy="1173.4" r="10.3" fill="#ffaa00"/>
<circle cx="595.6" cy="1171.5" r="10.3" fill="#ffaa00"/>
<circle cx="595.7" cy="1165.2" r="10.3" fill="#ffaa00"/>
<circle cx="584.3" cy="1186.3" r="10.3" fill="#ffaa00"/>
<circle cx="598.1" cy="1129.7" r="10.3" fill="#ffaa00"/>
<circle cx="597.9" cy="1122.2" r="10.3" fill="#ffaa00"/>
<circle cx="585" cy="1167.3" r="10.3" fill="#ffaa00"/>
<circle cx="595" cy="1141.8" r="10.3" fill="#ffaa00"/>
<circle cx="603.1" cy="1125.3" r="10.3" fill="#ffaa00"/>
<circle cx="613.4" cy="1139.3" r="10.3" fill="#ffaa00"/>
<circle cx="611.7" cy="1140.3" r="10.3" fill="#ffaa00"/>
<circle cx="611.1" cy="1154.9" r="10.3" fill="#ffaa00"/>
<circle cx="585.6" cy="1151.7" r="10.3" fill="#ffaa00"/>
<circle cx="578.9" cy="1151.9" r="10.3" fill="#ffaa00"/>
<circle cx="597.8" cy="1184.6" r="10.3" fill="#ffaa00"/>
<circle cx="594.7" cy="1130.2" r="10.3" fill="#ffaa00"/>
<circle cx="619.2" cy="1142.2" r="10.3" fill="#ffaa00"/>
<circle cx="605.6" cy="1149.2" r="10.3" fill="#ffaa00"/>
<circle cx="610.2" cy="1183.9" r="10.3" fill="#ffaa00"/>
<circle cx="608.4" cy="1152.9" r="10.3" fill="#ffaa00"/>
<circle cx="590.8" cy="1141.5" r="10.3" fill="#ffaa00"/>
<circle cx="597.7" cy="1134.3" r="10.3" fill="#ffaa00"/>
<circle cx="589.6" cy="1159" r="10.3" fill="#ffaa00"/>
<circle cx="591.5" cy="1139.9" r="10.3" fill="#ffaa00"/>
<circle cx="600" cy="1146.2" r="10.3" fill="#ffaa00"/>
<circle cx="576.9" cy="1159" r="10.3" fill="#ffaa00"/>
<circle cx="586.7" cy="1145.7" r="10.3" fill="#ffaa00"/>
<circle cx="588.9" cy="1129.7" r="10.3" fill="#ffaa00"/>
<circle cx="578.4" cy="1158.5" r="10.3" fill="#ffaa00"/>
<circle cx="602.9" cy="1119.8" r="10.3" fill="#ffaa00"/>
<circle cx="593.3" cy="1151.4" r="10.3" fill="#ffaa00"/>
<circle cx="610" cy="1171.7" r="10.3" fill="#ffaa00"/>
<circle cx="576.3" cy="1175.9" r="10.3" fill="#ffaa00"/>
<circle cx="594.2" cy="1174.5" r="10.3" fill="#ffaa00"/>
<circle cx="587.6" cy="1183.4" r="10.3" fill="#ffaa00"/>
<circle cx="592.7" cy="1135.4" r="10.3" fill="#ffaa00"/>
<circle cx="590.2" cy="1184" r="10.3" fill="#ffaa00"/>
<circle cx="591.6" cy="1192" r="10.3" fill="#ffaa00"/>
<circle cx="582.9" cy="1183.8" r="10.3" fill="#ffaa00"/>
<circle cx="591.1" cy="1127.2" r="10.3" fill="#ffaa00"/>
<circle cx="604.3" cy="1166.6" r="10.3" fill="#ffaa00"/>
<circle cx="608.3" cy="1164.5" r="10.3" fill="#ffaa00"/>
<circle cx="591.4" cy="1153.3" r="10.3" fill="#ffaa00"/>
<circle cx="614.9" cy="1185.4" r="10.3" fill="#ffaa00"/>
<circle cx="608.4" cy="1164.6" r="10.3" fill="#ffaa00"/>
<circle cx="595.1" cy="1132.1" r="10.3" fill="#ffaa00"/>
<circle cx="595.1" cy="1155.9" r="10.3" fill="#ffaa00"/>
<circle cx="595.6" cy="1148.7" r="10.3" fill="#ffaa00"/>
<circle cx="614.4" cy="1134.8" r="10.3" fill="#248c24"/>
<circle cx="597.3" cy="1141.8" r="10.3" fill="#248c24"/>
<circle cx="611.4" cy="1089.9" r="10.3" fill="#248c24"/>
<circle cx="592.4" cy="1131.8" r="10.3" fill="#248c24"/>
<circle cx="576.1" cy="1154.2" r="10.3" fill="#248c24"/>
<circle cx="608.9" cy="1123.3" r="10.3" fill="#248c24"/>
<circle cx="608.9" cy="1144.2" r="10.3" fill="#248c24"/>
<circle cx="577.8" cy="1086.7" r="10.3" fill="#248c24"/>
<circle cx="611.1" cy="1088.2" r="10.3" fill="#248c24"/>
<circle cx="608.2" cy="1092.8" r="10.3" fill="#248c24"/>
<circle cx="599.7" cy="1095.8" r="10.3" fill="#248c24"/>
<circle cx="606.3" cy="1055.7" r="10.3" fill="#248c24"/>
<circle cx="596" cy="1087" r="10.3" fill="#248c24"/>
<circle cx="593.1" cy="1055" r="10.3" fill="#248c24"/>
<circle cx="600.6" cy="1086.8" r="10.3" fill="#248c24"/>
<circle cx="613.5" cy="1041.2" r="10.3" fill="#248c24"/>
<circle cx="580.8" cy="1105.4" r="10.3" fill="#248c24"/>
<circle cx="574.6" cy="1125.7" r="10.3" fill="#248c24"/>
<circle cx="618.8" cy="1068.8" r="10.3" fill="#248c24"/>
<circle cx="588.4" cy="1108.8" r="10.3" fill="#248c24"/>
<circle cx="585.8" cy="1078.1" r="10.3" fill="#248c24"/>
<circle cx="597.3" cy="1076.9" r="10.3" fill="#248c24"/>
<circle cx="593.2" cy="1138.6" r="10.3" fill="#248c24"/>
<circle cx="613.3" cy="1076.8" r="10.3" fill="#248c24"/>
<circle cx="610.4" cy="1095.4" r="10.3" fill="#248c24"/>
<circle cx="583.4" cy="1088.2" r="10.3" fill="#248c24"/>
<circle cx="576.6" cy="1125.4" r="10.3" fill="#248c24"/>
<circle cx="595.2" cy="1137.1" r="10.3" fill="#248c24"/>
<circle cx="596.3" cy="1112.3" r="10.3" fill="#248c24"/>
<circle cx="610.4" cy="1133" r="10.3" fill="#248c24"/>
<circle cx="583.3" cy="1121.1" r="10.3" fill="#248c24"/>
<circle cx="576.6" cy="1066.3" r="10.3" fill="#248c24"/>
<circle cx="588.4" cy="1125.9" r="10.3" fill="#248c24"/>
<circle cx="599.7" cy="1139.2" r="10.3" fill="#248c24"/>
<circle cx="588.9" cy="1111.9" r="10.3" fill="#248c24"/>
<circle cx="587.4" cy="1113.7" r="10.3" fill="#248c24"/>
<circle cx="606.3" cy="1044" r="10.3" fill="#248c24"/>
<circle cx="594.8" cy="1089.7" r="10.3" fill="#248c24"/>
<circle cx="616.4" cy="1148.2" r="10.3" fill="#248c24"/>
<circle cx="576.9" cy="1171" r="10.3" fill="#248c24"/>
<circle cx="593.8" cy="1080.7" r="10.3" fill="#248c24"/>
<circle cx="613.1" cy="1111.6" r="10.3" fill="#248c24"/>
<circle cx="577.5" cy="1113" r="10.3" fill="#248c24"/>
<circle cx="615.8" cy="1122.5" r="10.3" fill="#248c24"/>
<circle cx="599.5" cy="1117" r="10.3" fill="#248c24"/>
<circle cx="604.6" cy="1092" r="10.3" fill="#248c24"/>
<circle cx="604.7" cy="1143" r="10.3" fill="#248c24"/>
<circle cx="612" cy="1111.2" r="10.3" fill="#248c24"/>
<circle cx="580.9" cy="1081.9" r="10.3" fill="#248c24"/>
<circle cx="578.8" cy="1084.3" r="10.3" fill="#248c24"/>
<circle cx="578.6" cy="1116.2" r="10.3" fill="#248c24"/>
<circle cx="593" cy="1086.6" r="10.3" fill="#248c24"/>
<circle cx="603.9" cy="1187.2" r="10.3" fill="#248c24"/>
<circle cx="605.2" cy="1108.2" r="10.3" fill="#248c24"/>
<circle cx="605.6" cy="1098" r="10.3" fill="#248c24"/>
<circle cx="576.2" cy="1094.9" r="10.3" fill="#248c24"/>
<circle cx="584.8" cy="1089.9" r="10.3" fill="#248c24"/>
<circle cx="600.5" cy="1129.2" r="10.3" fill="#248c24"/>
<circle cx="581.2" cy="1123.1" r="10.3" fill="#248c24"/>
<circle cx="615.3" cy="1064.6" r="10.3" fill="#248c24"/>
<circle cx="581.1" cy="1134.4" r="10.3" fill="#248c24"/>
<circle cx="610.3" cy="1045.7" r="10.3" fill="#248c24"/>
<circle cx="575.8" cy="1070.6" r="10.3" fill="#248c24"/>
<circle cx="591.4" cy="1108.9" r="10.3" fill="#248c24"/>
<circle cx="598.9" cy="1120.1" r="10.3" fill="#248c24"/>
<circle cx="578.5" cy="1123.6" r="10.3" fill="#248c24"/>
<circle cx="593.6" cy="1158.8" r="10.3" fill="#248c24"/>
<circle cx="604.9" cy="1092.3" r="10.3" fill="#248c24"/>
<circle cx="579.8" cy="1056" r="10.3" fill="#248c24"/>
<circle cx="615.8" cy="1062.1" r="10.3" fill="#248c24"/>
<circle cx="598" cy="1106.6" r="10.3" fill="#248c24"/>
<circle cx="608.1" cy="1112.7" r="10.3" fill="#248c24"/>
<circle cx="596.6" cy="1073.9" r="10.3" fill="#248c24"/>
<circle cx="596.1" cy="1090.9" r="10.3" fill="#248c24"/>
<circle cx="613.2" cy="1111.1" r="10.3" fill="#248c24"/>
<circle cx="578.3" cy="1139.7" r="10.3" fill="#248c24"/>
<circle cx="580.6" cy="1129.4" r="10.3" fill="#248c24"/>
<circle cx="612.3" cy="1114.3" r="10.3" fill="#248c24"/>
<circle cx="575.8" cy="1093.5" r="10.3" fill="#248c24"/>
<circle cx="589.8" cy="1177.9" r="10.3" fill="#248c24"/>
<circle cx="616.8" cy="1157" r="10.3" fill="#248c24"/>
<circle cx="589.3" cy="1110.8" r="10.3" fill="#248c24"/>
<circle cx="594.5" cy="1113.8" r="10.3" fill="#248c24"/>
<circle cx="582.3" cy="1103.7" r="10.3" fill="#248c24"/>
<circle cx="609.7" cy="1048" r="10.3" fill="#248c24"/>
<circle cx="599.5" cy="1108.5" r="10.3" fill="#248c24"/>
<circle cx="578.6" cy="1092.2" r="10.3" fill="#248c24"/>
<circle cx="601.1" cy="1162.1" r="10.3" fill="#248c24"/>
<circle cx="595.1" cy="1123.9" r="10.3" fill="#248c24"/>
<circle cx="578.7" cy="1064.3" r="10.3" fill="#248c24"/>
<circle cx="603.4" cy="1096" r="10.3" fill="#248c24"/>
<circle cx="590.2" cy="1074.1" r="10.3" fill="#248c24"/>
<circle cx="591.2" cy="1071.3" r="10.3" fill="#248c24"/>
<circle cx="581.9" cy="1115.3" r="10.3" fill="#248c24"/>
<circle cx="616.7" cy="1122.2" r="10.3" fill="#248c24"/>
<circle cx="613.6" cy="1137.1" r="10.3" fill="#248c24"/>
<circle cx="595.9" cy="1047" r="10.3" fill="#248c24"/>
<circle cx="613.9" cy="1095.6" r="10.3" fill="#248c24"/>
<circle cx="579.6" cy="1092.3" r="10.3" fill="#248c24"/>
<circle cx="579.6" cy="1147.3" r="10.3" fill="#248c24"/>
<circle cx="595.4" cy="1103.6" r="10.3" fill="#248c24"/>
<circle cx="597.1" cy="1082.7" r="10.3" fill="#248c24"/>
<circle cx="590.8" cy="1068.1" r="10.3" fill="#248c24"/>
<circle cx="583.5" cy="1093.4" r="10.3" fill="#248c24"/>
<circle cx="580" cy="1071.5" r="10.3" fill="#248c24"/>
<circle cx="596.9" cy="1100.2" r="10.3" fill="#248c24"/>
<circle cx="616.7" cy="1100" r="10.3" fill="#248c24"/>
<circle cx="596.3" cy="1108.5" r="10.3" fill="#248c24"/>
<circle cx="605.3" cy="1093.2" r="10.3" fill="#248c24"/>
<circle cx="584.6" cy="1147.9" r="10.3" fill="#248c24"/>
<circle cx="586.2" cy="1104.6" r="10.3" fill="#248c24"/>
<circle cx="575.7" cy="1124.5" r="10.3" fill="#248c24"/>
<circle cx="587.4" cy="1137.2" r="10.3" fill="#248c24"/>
<circle cx="614.4" cy="1078.8" r="10.3" fill="#248c24"/>
<circle cx="584.8" cy="1065.6" r="10.3" fill="#248c24"/>
<circle cx="601.1" cy="1081.8" r="10.3" fill="#248c24"/>
<circle cx="577.1" cy="1093.1" r="10.3" fill="#248c24"/>
<circle cx="585.4" cy="1157.6" r="10.3" fill="#248c24"/>
<circle cx="576.2" cy="1184.4" r="10.3" fill="#248c24"/>
<circle cx="602.1" cy="1162" r="10.3" fill="#248c24"/>
<circle cx="589.7" cy="1127.2" r="10.3" fill="#248c24"/>
<circle cx="610.8" cy="1163.7" r="10.3" fill="#248c24"/>
<circle cx="574.8" cy="1179.9" r="10.3" fill="#248c24"/>
<circle cx="616.6" cy="1086.2" r="10.3" fill="#248c24"/>
<circle cx="578.3" cy="1134.6" r="10.3" fill="#248c24"/>
<circle cx="585.3" cy="1086.2" r="10.3" fill="#248c24"/>
<circle cx="581.1" cy="1109.9" r="10.3" fill="#248c24"/>
<circle cx="589.8" cy="1156.2" r="10.3" fill="#248c24"/>
<circle cx="584.2" cy="1090.1" r="10.3" fill="#248c24"/>
<circle cx="589.2" cy="1087" r="10.3" fill="#248c24"/>
<circle cx="609.9" cy="1122.4" r="10.3" fill="#248c24"/>
<circle cx="609.4" cy="1144.7" r="10.3" fill="#248c24"/>
<circle cx="615.2" cy="1099.5" r="10.3" fill="#248c24"/>
<circle cx="583.3" cy="1104.2" r="10.3" fill="#248c24"/>
<circle cx="602.4" cy="1153.6" r="10.3" fill="#248c24"/>
<circle cx="578.5" cy="1070.4" r="10.3" fill="#248c24"/>
<circle cx="606.6" cy="1154.5" r="10.3" fill="#248c24"/>
<circle cx="617.8" cy="1116.6" r="10.3" fill="#248c24"/>
<circle cx="604.6" cy="1088" r="10.3" fill="#248c24"/>
<circle cx="611.6" cy="1105.2" r="10.3" fill="#248c24"/>
<circle cx="616.5" cy="1123.2" r="10.3" fill="#248c24"/>
<circle cx="611.8" cy="1057.6" r="10.3" fill="#248c24"/>
<circle cx="610.4" cy="1136.7" r="10.3" fill="#248c24"/>
<circle cx="611.4" cy="1135.7" r="10.3" fill="#248c24"/>
<circle cx="609.6" cy="1124.4" r="10.3" fill="#248c24"/>
<circle cx="617.5" cy="1084.7" r="10.3" fill="#248c24"/>
<circle cx="598.2" cy="1125.7" r="10.3" fill="#248c24"/>
<circle cx="617.9" cy="1088.5" r="10.3" fill="#248c24"/>
<circle cx="609.7" cy="1110.3" r="10.3" fill="#248c24"/>
<circle cx="584.7" cy="1105.5" r="10.3" fill="#248c24"/>
<circle cx="583.2" cy="1039" r="10.3" fill="#248c24"/>
<circle cx="596.5" cy="1129.1" r="10.3" fill="#248c24"/>
<circle cx="615.2" cy="1098" r="10.3" fill="#248c24"/>
<circle cx="591.9" cy="1126.1" r="10.3" fill="#248c24"/>
<circle cx="609.6" cy="1154.4" r="10.3" fill="#248c24"/>
<circle cx="588.7" cy="1000.9" r="10.3" fill="#248c24"/>
<circle cx="610.7" cy="1010.2" r="10.3" fill="#248c24"/>
<circle cx="609.6" cy="1016" r="10.3" fill="#248c24"/>
<circle cx="580.5" cy="1021.8" r="10.3" fill="#248c24"/>
<circle cx="577.1" cy="1031.1" r="10.3" fill="#248c24"/>
</g>
<path d="M141.8 1188.5C146.5 1188 160.3 1186.8 170 1185.5C179.7 1184.2 190 1182.6 200 1181C210 1179.4 221.2 1178.1 230 1176C238.8 1173.9 246.8 1170.5 252.6 1168.5C258.4 1166.5 258.8 1166.3 265 1164C271.2 1161.7 281.1 1158.8 290 1154.5C298.9 1150.2 308.8 1142.7 318.4 1138C328 1133.3 337.9 1129.1 347.6 1126.3C357.3 1123.5 367.1 1121.7 376.8 1121C386.5 1120.3 396.3 1120.5 406 1121.9C415.7 1123.3 424.7 1126 435.2 1129.2C445.7 1132.4 458.7 1136.8 469.2 1141.3C479.7 1145.8 488.7 1150.8 498.4 1155.9C508.1 1161 517.9 1166.7 527.6 1172C537.3 1177.3 545.3 1182.5 556.8 1188C568.3 1193.5 590.1 1202.2 596.8 1205" fill="none" stroke="#c8201e" stroke-width="6.2" stroke-linecap="butt"/>
<path d="M255.5 1167.8C261.1 1166.6 278.7 1162.5 289.2 1160.5C299.7 1158.5 308.7 1157 318.4 1156.1C328.1 1155.2 337.9 1155.1 347.6 1154.9C357.3 1154.7 367.1 1154.6 376.8 1154.9C386.5 1155.2 396.3 1155.8 406 1156.9C415.7 1158 424.7 1159.5 435.2 1161.3C445.7 1163.1 458.7 1165.3 469.2 1167.6C479.7 1169.9 488.7 1172.5 498.4 1174.9C508.1 1177.3 517.9 1179.8 527.6 1182.2C537.3 1184.6 545.3 1186.9 556.8 1189.5C568.3 1192.1 590.1 1196.3 596.8 1197.7" fill="none" stroke="#7f7a76" stroke-width="6.2" stroke-linecap="butt"/>
<path d="M141.8 1194.5C146.5 1192.8 160.3 1187.3 170 1184.5C179.7 1181.7 190 1179.2 200 1177.5C210 1175.8 222.7 1174.9 230 1174.4C237.3 1173.9 238 1173.2 244 1174.5C250 1175.8 258.3 1178.8 266 1182C273.7 1185.2 284.3 1190.9 290 1193.5C295.7 1196.1 295.3 1195.3 300 1197.5C304.7 1199.7 310.5 1202.9 318.4 1206.6C326.3 1210.3 337.9 1215.6 347.6 1219.7C357.3 1223.8 367.1 1228 376.8 1231.4C386.5 1234.8 396.3 1237.7 406 1240.1C415.7 1242.5 424.7 1244.7 435.2 1246C445.7 1247.3 458.7 1247.4 469.2 1247.9C479.7 1248.5 488.7 1249 498.4 1249.3C508.1 1249.6 517.9 1249.8 527.6 1249.9C537.3 1250 545.3 1250 556.8 1249.9C568.3 1249.8 590.1 1249.4 596.8 1249.3" fill="none" stroke="#cbc1ad" stroke-width="6.2" stroke-linecap="butt"/>
<path d="M141.8 1213.5C146.5 1212.8 160.3 1210.6 170 1209C179.7 1207.4 190 1205.4 200 1203.8C210 1202.2 221.2 1200.6 230 1199.4C238.8 1198.2 242.6 1198.1 252.6 1196.5C262.6 1194.9 279 1191.6 290 1190C301 1188.4 308.8 1187.5 318.4 1187C328 1186.5 337.9 1186.7 347.6 1187C357.3 1187.3 367.1 1188 376.8 1189.1C386.5 1190.2 396.3 1191.2 406 1193.4C415.7 1195.6 424.7 1199 435.2 1202.2C445.7 1205.4 458.7 1209.3 469.2 1212.8C479.7 1216.3 488.7 1219.7 498.4 1223.1C508.1 1226.5 517.9 1230.1 527.6 1233.3C537.3 1236.5 545.3 1238.8 556.8 1242C568.3 1245.2 590.1 1250.6 596.8 1252.3" fill="none" stroke="#6d9fcc" stroke-width="6.2" stroke-linecap="butt"/>
<path d="M141.8 1212.5C146.5 1211 160.3 1206.7 170 1203.8C179.7 1200.9 190 1198.1 200 1195C210 1191.9 221.2 1188.5 230 1185.4C238.8 1182.3 242.6 1179.3 252.6 1176.2C262.6 1173.1 279 1168.6 290 1166.8C301 1165 308.8 1165.9 318.4 1165.5C328 1165.1 339.1 1164.9 347.6 1164.6C356.1 1164.3 365.7 1163.8 369.3 1163.6" fill="none" stroke="#4a76a6" stroke-width="6.2" stroke-linecap="butt"/>
<path d="M141.8 1249.2C146.5 1248 160.3 1244.4 170 1241.9C179.7 1239.4 190 1236.8 200 1234.4C210 1232 221.2 1229.7 230 1227.4C238.8 1225.1 242.6 1224.2 252.6 1220.6C262.6 1217 279 1210.9 290 1206C301 1201.1 308.8 1195.5 318.4 1191C328 1186.5 337.9 1182.3 347.6 1178.8C357.3 1175.3 367.1 1172.8 376.8 1170.1C386.5 1167.4 396.3 1165 406 1162.8C415.7 1160.6 424.7 1158.3 435.2 1156.9C445.7 1155.5 458.7 1155.5 469.2 1154.5C479.7 1153.5 488.7 1151.9 498.4 1151C508.1 1150.1 517.9 1149.6 527.6 1149.2C537.3 1148.8 545.3 1148.7 556.8 1148.6C568.3 1148.5 590.1 1148.6 596.8 1148.6" fill="none" stroke="#e8a51e" stroke-width="6.2" stroke-linecap="butt"/>
<path d="M141.8 1218C146.5 1216.7 160.3 1213.4 170 1210.4C179.7 1207.5 190 1203.9 200 1200.3C210 1196.7 221.2 1192.5 230 1188.9C238.8 1185.4 242.6 1182 252.6 1179C262.6 1176 279 1173.2 290 1171C301 1168.8 308.8 1167.5 318.4 1165.7C328 1163.9 337.9 1161.6 347.6 1159.9C357.3 1158.2 367.1 1157.2 376.8 1155.5C386.5 1153.8 395.5 1151.3 406 1149.6C416.5 1147.8 429.5 1146.7 440 1145C450.5 1143.3 459.5 1141.8 469.2 1139.5C478.9 1137.2 488.7 1134 498.4 1131.1C508.1 1128.2 517.9 1125.2 527.6 1122.3C537.3 1119.4 547.5 1116.3 556.8 1113.6C566 1110.9 576.4 1108 583.1 1106.3C589.8 1104.6 594.5 1103.9 596.8 1103.4" fill="none" stroke="#2f8a2f" stroke-width="6.2" stroke-linecap="butt"/>
<line x1="100.8" y1="950.3" x2="631.8" y2="950.3" stroke="#6e6e6e" stroke-width="1.3"/>
<line x1="112.4" y1="950.3" x2="112.4" y2="1294.2" stroke="#333" stroke-width="1.2"/>
<line x1="631.3" y1="950.3" x2="631.3" y2="1294.2" stroke="#555" stroke-width="1.2"/>
<line x1="100.8" y1="1294.2" x2="631.8" y2="1294.2" stroke="#444" stroke-width="1.3"/>
<line x1="100.6" y1="1293.9" x2="112.5" y2="1293.9" stroke="#555" stroke-width="1.2"/>
<text transform="translate(90 1302.2) scale(1.0500 1)" font-size="24" text-anchor="end">0</text>
<line x1="100.6" y1="1207.9" x2="112.5" y2="1207.9" stroke="#555" stroke-width="1.2"/>
<text transform="translate(90 1216.2) scale(1.0500 1)" font-size="24" text-anchor="end">0.2</text>
<line x1="100.6" y1="1121.8" x2="112.5" y2="1121.8" stroke="#555" stroke-width="1.2"/>
<text transform="translate(90 1130.1) scale(1.0500 1)" font-size="24" text-anchor="end">0.4</text>
<line x1="100.6" y1="1035.8" x2="112.5" y2="1035.8" stroke="#555" stroke-width="1.2"/>
<text transform="translate(90 1044.1) scale(1.0500 1)" font-size="24" text-anchor="end">0.6</text>
<line x1="100.6" y1="949.8" x2="112.5" y2="949.8" stroke="#555" stroke-width="1.2"/>
<text transform="translate(90 958.1) scale(1.0500 1)" font-size="24" text-anchor="end">0.8</text>
<line x1="141.8" y1="1293.9" x2="141.8" y2="1309" stroke="#555" stroke-width="1.2"/>
<text transform="translate(141.8 1340.3) scale(1.0500 1)" font-size="24" text-anchor="middle">1</text>
<line x1="255.5" y1="1293.9" x2="255.5" y2="1309" stroke="#555" stroke-width="1.2"/>
<text transform="translate(255.5 1340.3) scale(1.0500 1)" font-size="24" text-anchor="middle">2</text>
<line x1="369.3" y1="1293.9" x2="369.3" y2="1309" stroke="#555" stroke-width="1.2"/>
<text transform="translate(369.3 1340.3) scale(1.0500 1)" font-size="24" text-anchor="middle">3</text>
<line x1="483.1" y1="1293.9" x2="483.1" y2="1309" stroke="#555" stroke-width="1.2"/>
<text transform="translate(483.1 1340.3) scale(1.0500 1)" font-size="24" text-anchor="middle">4</text>
<line x1="596.8" y1="1293.9" x2="596.8" y2="1309" stroke="#555" stroke-width="1.2"/>
<text transform="translate(596.8 1340.3) scale(1.0500 1)" font-size="24" text-anchor="middle">5</text>
<text transform="translate(369.5 1377.8) scale(1.0750 1)" font-size="24" text-anchor="middle">Year</text>
<text transform="translate(31 1122.4) rotate(-90) scale(1.0270 1)" font-size="24" text-anchor="middle">Vegetative height (m)</text>
<path d="M637.6 991.7H642.7V1207.8H637.6" fill="none" stroke="#000" stroke-width="2.2"/>
<path d="M637.6 1216.9H642.7V1294.2H637.6" fill="none" stroke="#000" stroke-width="2.2"/>
<text transform="translate(651.7 1122.3) scale(1.0300 1)" font-size="24">VS</text>
<text transform="translate(651 1251.5) scale(1.0300 1)" font-size="24">HS</text>
</svg></body></html>
